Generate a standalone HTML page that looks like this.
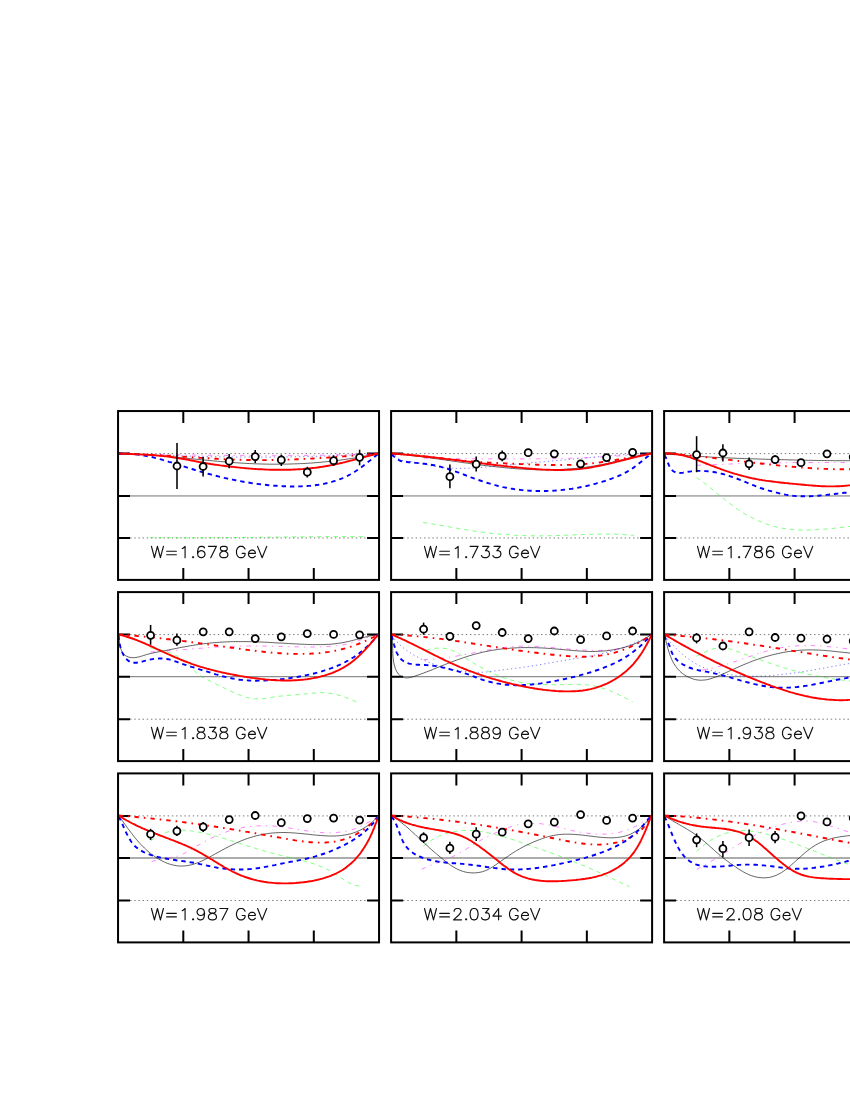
<!DOCTYPE html>
<html><head><meta charset="utf-8"><title>Figure</title>
<style>html,body{margin:0;padding:0;background:#fff;}body{width:850px;height:1100px;overflow:hidden;font-family:"Liberation Sans",sans-serif;}svg{display:block;}</style>
</head><body>
<svg width="850" height="1100" viewBox="0 0 850 1100">
<rect width="850" height="1100" fill="#fff"/>
<defs>
<clipPath id="c00"><rect x="118.05" y="411.05" width="261.00" height="168.85"/></clipPath>
<clipPath id="c01"><rect x="391.10" y="411.05" width="261.00" height="168.85"/></clipPath>
<clipPath id="c02"><rect x="664.10" y="411.05" width="261.00" height="168.85"/></clipPath>
<clipPath id="c10"><rect x="118.05" y="592.10" width="261.00" height="169.00"/></clipPath>
<clipPath id="c11"><rect x="391.10" y="592.10" width="261.00" height="169.00"/></clipPath>
<clipPath id="c12"><rect x="664.10" y="592.10" width="261.00" height="169.00"/></clipPath>
<clipPath id="c20"><rect x="118.05" y="773.40" width="261.00" height="169.00"/></clipPath>
<clipPath id="c21"><rect x="391.10" y="773.40" width="261.00" height="169.00"/></clipPath>
<clipPath id="c22"><rect x="664.10" y="773.40" width="261.00" height="169.00"/></clipPath>
</defs>
<path d="M183.30 411.05 v12 M183.30 579.90 v-12 M118.05 453.60 h12 M379.05 453.60 h-12 M248.55 411.05 v12 M248.55 579.90 v-12 M118.05 495.95 h12 M379.05 495.95 h-12 M313.80 411.05 v12 M313.80 579.90 v-12 M118.05 537.95 h12 M379.05 537.95 h-12 " stroke="#000" stroke-width="2" fill="none"/>
<g clip-path="url(#c00)" fill="none" stroke-linecap="butt" stroke-linejoin="round">
<path d="M130.05 453.60 H367.05" stroke="#1a1a1a" stroke-width="0.58" stroke-dasharray="1.45 2.73"/>
<path d="M130.05 495.95 H367.05" stroke="#444" stroke-width="0.75"/>
<path d="M130.05 537.95 H367.05" stroke="#1a1a1a" stroke-width="0.58" stroke-dasharray="1.45 2.73"/>
<path d="M150.0 537.6 L151.6 537.6 L153.2 537.6 L154.8 537.6 L156.4 537.7 L158.0 537.7 L159.6 537.7 L161.2 537.7 L162.8 537.7 L164.4 537.7 L166.0 537.7 L167.7 537.7 L169.3 537.7 L170.9 537.7 L172.5 537.7 L174.1 537.7 L175.7 537.7 L177.3 537.8 L178.9 537.8 L180.5 537.8 L182.1 537.8 L183.7 537.8 L185.3 537.8 L186.9 537.8 L188.5 537.8 L190.1 537.8 L191.7 537.8 L193.3 537.8 L194.9 537.8 L196.5 537.7 L198.1 537.7 L199.7 537.7 L201.3 537.7 L203.0 537.7 L204.6 537.7 L206.2 537.7 L207.8 537.7 L209.4 537.7 L211.0 537.7 L212.6 537.7 L214.2 537.7 L215.8 537.7 L217.4 537.7 L219.0 537.6 L220.6 537.6 L222.2 537.6 L223.8 537.6 L225.4 537.6 L227.0 537.6 L228.6 537.6 L230.2 537.6 L231.8 537.6 L233.4 537.5 L235.0 537.5 L236.6 537.5 L238.3 537.5 L239.9 537.5 L241.5 537.5 L243.1 537.4 L244.7 537.4 L246.3 537.4 L247.9 537.4 L249.5 537.4 L251.1 537.4 L252.7 537.4 L254.3 537.3 L255.9 537.3 L257.5 537.3 L259.1 537.3 L260.7 537.3 L262.3 537.2 L263.9 537.2 L265.5 537.2 L267.1 537.2 L268.7 537.2 L270.3 537.2 L271.9 537.1 L273.6 537.1 L275.2 537.1 L276.8 537.1 L278.4 537.1 L280.0 537.0 L281.6 537.0 L283.2 537.0 L284.8 537.0 L286.4 537.0 L288.0 536.9 L289.6 536.9 L291.2 536.9 L292.8 536.9 L294.4 536.9 L296.0 536.8 L297.6 536.8 L299.2 536.8 L300.8 536.8 L302.4 536.8 L304.0 536.8 L305.6 536.7 L307.2 536.7 L308.8 536.7 L310.5 536.7 L312.1 536.7 L313.7 536.6 L315.3 536.6 L316.9 536.6 L318.5 536.6 L320.1 536.6 L321.7 536.6 L323.3 536.6 L324.9 536.5 L326.5 536.5 L328.1 536.5 L329.7 536.5 L331.3 536.5 L332.9 536.5 L334.5 536.5 L336.1 536.5 L337.7 536.5 L339.3 536.5 L340.9 536.5 L342.5 536.5 L344.1 536.5 L345.7 536.5 L347.4 536.5 L349.0 536.5 L350.6 536.5 L352.2 536.5 L353.8 536.5 L355.4 536.5 L357.0 536.5 L358.6 536.5 L360.2 536.5 L361.8 536.6 L363.4 536.6 L365.0 536.6" stroke="#00ff00" stroke-width="0.5" stroke-dasharray="4.3 4.05"/>
<path d="M118.5 453.5 L120.1 453.6 L121.7 453.7 L123.3 453.7 L124.9 453.8 L126.5 453.9 L128.1 453.9 L129.7 454.0 L131.3 454.1 L132.9 454.2 L134.5 454.2 L136.1 454.3 L137.7 454.4 L139.4 454.4 L141.0 454.5 L142.6 454.6 L144.2 454.6 L145.8 454.7 L147.4 454.8 L149.0 454.8 L150.6 454.9 L152.2 455.0 L153.8 455.0 L155.4 455.1 L157.0 455.1 L158.6 455.2 L160.2 455.3 L161.8 455.3 L163.4 455.4 L165.0 455.4 L166.6 455.5 L168.2 455.5 L169.8 455.6 L171.4 455.6 L173.0 455.7 L174.7 455.7 L176.3 455.8 L177.9 455.8 L179.5 455.9 L181.1 455.9 L182.7 456.0 L184.3 456.0 L185.9 456.1 L187.5 456.1 L189.1 456.2 L190.7 456.2 L192.3 456.2 L193.9 456.3 L195.5 456.3 L197.1 456.4 L198.7 456.4 L200.3 456.4 L201.9 456.5 L203.5 456.5 L205.2 456.5 L206.8 456.6 L208.4 456.6 L210.0 456.6 L211.6 456.7 L213.2 456.7 L214.8 456.7 L216.4 456.8 L218.0 456.8 L219.6 456.8 L221.2 456.8 L222.8 456.9 L224.4 456.9 L226.0 456.9 L227.6 456.9 L229.2 456.9 L230.8 457.0 L232.5 457.0 L234.1 457.0 L235.7 457.0 L237.3 457.0 L238.9 457.0 L240.5 457.0 L242.1 457.1 L243.7 457.1 L245.3 457.1 L246.9 457.1 L248.5 457.1 L250.1 457.1 L251.7 457.1 L253.3 457.1 L254.9 457.1 L256.5 457.1 L258.1 457.1 L259.7 457.1 L261.4 457.1 L263.0 457.1 L264.6 457.1 L266.2 457.1 L267.8 457.1 L269.4 457.1 L271.0 457.1 L272.6 457.1 L274.2 457.0 L275.8 457.0 L277.4 457.0 L279.0 457.0 L280.6 457.0 L282.2 457.0 L283.8 456.9 L285.4 456.9 L287.0 456.9 L288.7 456.9 L290.3 456.9 L291.9 456.8 L293.5 456.8 L295.1 456.8 L296.7 456.8 L298.3 456.7 L299.9 456.7 L301.5 456.7 L303.1 456.6 L304.7 456.6 L306.3 456.6 L307.9 456.5 L309.5 456.5 L311.1 456.4 L312.7 456.4 L314.3 456.4 L315.9 456.3 L317.5 456.3 L319.1 456.2 L320.8 456.2 L322.4 456.1 L324.0 456.1 L325.6 456.0 L327.2 456.0 L328.8 455.9 L330.4 455.9 L332.0 455.8 L333.6 455.7 L335.2 455.7 L336.8 455.6 L338.4 455.6 L340.0 455.5 L341.6 455.4 L343.2 455.4 L344.8 455.3 L346.4 455.2 L348.0 455.1 L349.6 455.1 L351.2 455.0 L352.8 454.9 L354.4 454.8 L356.1 454.8 L357.7 454.7 L359.3 454.6 L360.9 454.5 L362.5 454.4 L364.1 454.3 L365.7 454.3 L367.3 454.2 L368.9 454.1 L370.5 454.0 L372.1 453.9 L373.7 453.8 L375.3 453.7 L376.9 453.6 L378.5 453.5" stroke="#0000ff" stroke-width="0.5" stroke-dasharray="1.3 2.9"/>
<path d="M160.0 454.4 L161.6 454.4 L163.2 454.5 L164.8 454.5 L166.4 454.5 L168.0 454.6 L169.6 454.6 L171.2 454.6 L172.9 454.7 L174.5 454.7 L176.1 454.7 L177.7 454.8 L179.3 454.8 L180.9 454.8 L182.5 454.9 L184.1 454.9 L185.7 454.9 L187.3 454.9 L188.9 455.0 L190.5 455.0 L192.1 455.0 L193.7 455.0 L195.3 455.1 L196.9 455.1 L198.6 455.1 L200.2 455.2 L201.8 455.2 L203.4 455.2 L205.0 455.2 L206.6 455.2 L208.2 455.3 L209.8 455.3 L211.4 455.3 L213.0 455.3 L214.6 455.4 L216.2 455.4 L217.8 455.4 L219.4 455.4 L221.1 455.4 L222.7 455.5 L224.3 455.5 L225.9 455.5 L227.5 455.5 L229.1 455.5 L230.7 455.5 L232.3 455.5 L233.9 455.6 L235.5 455.6 L237.1 455.6 L238.7 455.6 L240.3 455.6 L241.9 455.6 L243.5 455.6 L245.2 455.6 L246.8 455.6 L248.4 455.7 L250.0 455.7 L251.6 455.7 L253.2 455.7 L254.8 455.7 L256.4 455.7 L258.0 455.7 L259.6 455.7 L261.2 455.7 L262.8 455.7 L264.4 455.7 L266.0 455.7 L267.7 455.7 L269.3 455.7 L270.9 455.7 L272.5 455.7 L274.1 455.7 L275.7 455.7 L277.3 455.7 L278.9 455.7 L280.5 455.7 L282.1 455.7 L283.7 455.7 L285.3 455.6 L286.9 455.6 L288.5 455.6 L290.2 455.6 L291.8 455.6 L293.4 455.6 L295.0 455.6 L296.6 455.6 L298.2 455.5 L299.8 455.5 L301.4 455.5 L303.0 455.5 L304.6 455.5 L306.2 455.5 L307.8 455.4 L309.4 455.4 L311.0 455.4 L312.6 455.4 L314.3 455.3 L315.9 455.3 L317.5 455.3 L319.1 455.3 L320.7 455.2 L322.3 455.2 L323.9 455.2 L325.5 455.1 L327.1 455.1 L328.7 455.1 L330.3 455.0 L331.9 455.0 L333.5 455.0 L335.1 454.9 L336.7 454.9 L338.4 454.8 L340.0 454.8 L341.6 454.8 L343.2 454.7 L344.8 454.7 L346.4 454.6 L348.0 454.6 L349.6 454.5 L351.2 454.5 L352.8 454.4 L354.4 454.4 L356.0 454.3 L357.6 454.3 L359.2 454.2 L360.8 454.2 L362.4 454.1 L364.0 454.1 L365.7 454.0 L367.3 453.9 L368.9 453.9 L370.5 453.8 L372.1 453.8 L373.7 453.7 L375.3 453.6 L376.9 453.6 L378.5 453.5" stroke="#ff00ff" stroke-width="0.5" stroke-dasharray="4.4 5.1 1.3 5.2"/>
<path d="M118.5 453.5 L120.1 453.5 L121.7 453.6 L123.3 453.6 L124.9 453.7 L126.5 453.7 L128.1 453.8 L129.7 453.8 L131.2 453.9 L132.8 454.0 L134.4 454.0 L136.0 454.1 L137.6 454.2 L139.2 454.3 L140.8 454.4 L142.4 454.5 L144.0 454.6 L145.6 454.7 L147.2 454.8 L148.8 454.9 L150.4 455.0 L152.0 455.2 L153.6 455.3 L155.2 455.4 L156.8 455.5 L158.4 455.7 L160.0 455.8 L161.6 455.9 L163.2 456.1 L164.8 456.2 L166.4 456.3 L168.0 456.5 L169.6 456.6 L171.2 456.8 L172.8 456.9 L174.4 457.1 L176.0 457.2 L177.6 457.4 L179.2 457.6 L180.8 457.7 L182.4 457.9 L184.0 458.0 L185.6 458.2 L187.2 458.3 L188.8 458.5 L190.4 458.7 L192.0 458.8 L193.6 459.0 L195.2 459.1 L196.8 459.3 L198.4 459.5 L200.0 459.6 L201.6 459.8 L203.2 459.9 L204.8 460.1 L206.4 460.2 L208.0 460.4 L209.6 460.5 L211.2 460.7 L212.8 460.8 L214.4 461.0 L216.0 461.1 L217.6 461.3 L219.2 461.4 L220.8 461.6 L222.4 461.7 L224.0 461.8 L225.6 462.0 L227.2 462.1 L228.8 462.2 L230.4 462.4 L232.0 462.5 L233.6 462.6 L235.2 462.7 L236.8 462.8 L238.4 462.9 L240.0 463.0 L241.6 463.1 L243.2 463.2 L244.8 463.3 L246.4 463.4 L248.0 463.5 L249.6 463.6 L251.2 463.6 L252.8 463.7 L254.4 463.8 L256.0 463.8 L257.6 463.9 L259.2 463.9 L260.8 464.0 L262.4 464.0 L264.0 464.1 L265.6 464.1 L267.2 464.1 L268.8 464.2 L270.4 464.2 L272.0 464.2 L273.6 464.2 L275.1 464.2 L276.7 464.2 L278.3 464.2 L279.9 464.2 L281.5 464.2 L283.1 464.2 L284.7 464.1 L286.3 464.1 L287.9 464.1 L289.5 464.0 L291.1 464.0 L292.7 463.9 L294.3 463.9 L295.9 463.8 L297.5 463.8 L299.1 463.7 L300.7 463.6 L302.3 463.6 L303.9 463.5 L305.5 463.4 L307.1 463.3 L308.7 463.2 L310.3 463.1 L311.9 463.0 L313.4 462.9 L315.0 462.7 L316.6 462.6 L318.2 462.5 L319.8 462.3 L321.4 462.2 L323.0 462.0 L324.6 461.9 L326.2 461.7 L327.8 461.6 L329.4 461.4 L331.0 461.2 L332.5 461.0 L334.1 460.9 L335.7 460.7 L337.3 460.5 L338.9 460.3 L340.5 460.1 L342.1 459.9 L343.7 459.6 L345.2 459.4 L346.8 459.2 L348.4 458.9 L350.0 458.7 L351.6 458.5 L353.2 458.2 L354.8 458.0 L356.4 457.7 L357.9 457.4 L359.5 457.2 L361.1 456.9 L362.7 456.6 L364.3 456.3 L365.9 456.0 L367.4 455.7 L369.0 455.4 L370.6 455.1 L372.2 454.8 L373.8 454.5 L375.3 454.2 L376.9 453.8 L378.5 453.5" stroke="#000" stroke-width="0.62"/>
<path d="M118.5 453.5 L120.1 453.5 L121.7 453.6 L123.3 453.6 L124.9 453.7 L126.5 453.7 L128.1 453.8 L129.7 453.8 L131.3 453.9 L132.9 453.9 L134.5 454.0 L136.1 454.1 L137.8 454.1 L139.4 454.2 L141.0 454.3 L142.6 454.3 L144.2 454.4 L145.8 454.5 L147.4 454.6 L149.0 454.7 L150.6 454.7 L152.2 454.8 L153.8 454.9 L155.4 455.0 L157.0 455.1 L158.6 455.2 L160.2 455.3 L161.8 455.4 L163.4 455.5 L165.0 455.6 L166.6 455.7 L168.2 455.8 L169.9 455.9 L171.5 456.0 L173.1 456.1 L174.7 456.2 L176.3 456.3 L177.9 456.4 L179.5 456.5 L181.1 456.6 L182.7 456.7 L184.3 456.8 L185.9 456.9 L187.5 457.0 L189.1 457.1 L190.7 457.2 L192.3 457.3 L193.9 457.4 L195.5 457.5 L197.2 457.7 L198.8 457.8 L200.4 457.9 L202.0 457.9 L203.6 458.0 L205.2 458.1 L206.8 458.2 L208.4 458.3 L210.0 458.4 L211.6 458.5 L213.2 458.6 L214.8 458.7 L216.4 458.8 L218.0 458.9 L219.6 459.0 L221.2 459.0 L222.8 459.1 L224.5 459.2 L226.1 459.3 L227.7 459.3 L229.3 459.4 L230.9 459.5 L232.5 459.5 L234.1 459.6 L235.7 459.7 L237.3 459.7 L238.9 459.8 L240.5 459.8 L242.1 459.9 L243.7 459.9 L245.3 459.9 L246.9 460.0 L248.5 460.0 L250.2 460.0 L251.8 460.1 L253.4 460.1 L255.0 460.1 L256.6 460.1 L258.2 460.1 L259.8 460.1 L261.4 460.1 L263.0 460.1 L264.6 460.1 L266.2 460.1 L267.8 460.1 L269.4 460.1 L271.0 460.1 L272.6 460.0 L274.2 460.0 L275.8 460.0 L277.4 460.0 L279.1 459.9 L280.7 459.9 L282.3 459.8 L283.9 459.8 L285.5 459.7 L287.1 459.7 L288.7 459.6 L290.3 459.6 L291.9 459.5 L293.5 459.5 L295.1 459.4 L296.7 459.3 L298.3 459.3 L299.9 459.2 L301.5 459.1 L303.1 459.0 L304.7 458.9 L306.3 458.9 L307.9 458.8 L309.6 458.7 L311.2 458.6 L312.8 458.5 L314.4 458.4 L316.0 458.3 L317.6 458.2 L319.2 458.1 L320.8 458.0 L322.4 457.9 L324.0 457.8 L325.6 457.7 L327.2 457.6 L328.8 457.5 L330.4 457.4 L332.0 457.2 L333.6 457.1 L335.2 457.0 L336.8 456.9 L338.4 456.8 L340.0 456.7 L341.6 456.5 L343.2 456.4 L344.8 456.3 L346.4 456.2 L348.1 456.0 L349.7 455.9 L351.3 455.8 L352.9 455.6 L354.5 455.5 L356.1 455.4 L357.7 455.3 L359.3 455.1 L360.9 455.0 L362.5 454.9 L364.1 454.7 L365.7 454.6 L367.3 454.5 L368.9 454.3 L370.5 454.2 L372.1 454.0 L373.7 453.9 L375.3 453.8 L376.9 453.6 L378.5 453.5" stroke="#ff0000" stroke-width="1.9" stroke-dasharray="4.4 5 1.6 5"/>
<path d="M118.5 453.5 L120.1 453.5 L121.7 453.6 L123.3 453.6 L124.9 453.6 L126.5 453.7 L128.1 453.8 L129.7 453.9 L131.3 454.0 L132.8 454.1 L134.4 454.3 L136.0 454.4 L137.6 454.6 L139.2 454.8 L140.7 455.0 L142.3 455.3 L143.9 455.5 L145.5 455.8 L147.0 456.1 L148.6 456.4 L150.2 456.7 L151.7 457.0 L153.3 457.4 L154.8 457.8 L156.4 458.2 L158.0 458.6 L159.5 459.0 L161.1 459.4 L162.6 459.9 L164.2 460.3 L165.7 460.8 L167.3 461.3 L168.8 461.8 L170.4 462.2 L171.9 462.7 L173.5 463.2 L175.0 463.7 L176.6 464.2 L178.1 464.7 L179.7 465.2 L181.2 465.7 L182.8 466.2 L184.3 466.6 L185.9 467.1 L187.4 467.6 L188.9 468.1 L190.5 468.6 L192.0 469.0 L193.6 469.5 L195.1 470.0 L196.7 470.4 L198.2 470.9 L199.7 471.4 L201.3 471.8 L202.8 472.3 L204.4 472.7 L205.9 473.1 L207.5 473.6 L209.0 474.0 L210.6 474.4 L212.1 474.8 L213.6 475.2 L215.2 475.6 L216.7 476.0 L218.3 476.4 L219.8 476.8 L221.4 477.1 L222.9 477.5 L224.5 477.9 L226.0 478.2 L227.6 478.6 L229.1 478.9 L230.7 479.3 L232.3 479.6 L233.8 479.9 L235.4 480.2 L236.9 480.5 L238.5 480.8 L240.1 481.1 L241.6 481.4 L243.2 481.7 L244.7 482.0 L246.3 482.2 L247.9 482.5 L249.5 482.7 L251.0 483.0 L252.6 483.2 L254.2 483.5 L255.8 483.7 L257.3 483.9 L258.9 484.1 L260.5 484.3 L262.1 484.5 L263.7 484.7 L265.3 484.8 L266.9 485.0 L268.4 485.2 L270.0 485.3 L271.6 485.5 L273.2 485.6 L274.8 485.7 L276.4 485.8 L278.1 485.9 L279.7 486.0 L281.3 486.1 L282.9 486.2 L284.5 486.3 L286.1 486.3 L287.8 486.4 L289.4 486.4 L291.0 486.5 L292.6 486.5 L294.3 486.5 L295.9 486.5 L297.5 486.5 L299.1 486.4 L300.7 486.4 L302.4 486.3 L304.0 486.2 L305.6 486.1 L307.2 486.0 L308.8 485.9 L310.4 485.8 L312.0 485.6 L313.6 485.4 L315.2 485.2 L316.8 485.0 L318.4 484.8 L320.0 484.5 L321.6 484.2 L323.2 484.0 L324.7 483.6 L326.3 483.3 L327.8 482.9 L329.4 482.5 L330.9 482.1 L332.5 481.7 L334.0 481.2 L335.5 480.8 L337.0 480.3 L338.5 479.7 L340.0 479.2 L341.5 478.6 L342.9 478.0 L344.4 477.3 L345.8 476.7 L347.3 476.0 L348.7 475.2 L350.1 474.5 L351.5 473.7 L352.9 472.9 L354.3 472.0 L355.6 471.2 L357.0 470.3 L358.3 469.4 L359.7 468.4 L361.0 467.5 L362.3 466.5 L363.6 465.6 L364.9 464.6 L366.2 463.6 L367.4 462.6 L368.7 461.6 L370.0 460.6 L371.2 459.6 L372.4 458.5 L373.7 457.5 L374.9 456.5 L376.1 455.5 L377.3 454.5 L378.5 453.5" stroke="#0000ff" stroke-width="1.9" stroke-dasharray="4.4 3.95"/>
<path d="M118.5 453.5 L120.1 453.6 L121.7 453.6 L123.3 453.7 L124.9 453.8 L126.4 453.8 L128.0 453.9 L129.6 454.0 L131.2 454.0 L132.8 454.1 L134.4 454.2 L136.0 454.2 L137.6 454.3 L139.2 454.4 L140.8 454.5 L142.3 454.6 L143.9 454.6 L145.5 454.7 L147.1 454.8 L148.7 454.9 L150.3 455.0 L151.9 455.1 L153.5 455.3 L155.1 455.4 L156.7 455.5 L158.3 455.6 L159.8 455.8 L161.4 455.9 L163.0 456.1 L164.6 456.3 L166.2 456.4 L167.8 456.6 L169.4 456.8 L171.0 457.0 L172.6 457.2 L174.2 457.5 L175.8 457.7 L177.4 457.9 L178.9 458.2 L180.5 458.5 L182.1 458.8 L183.7 459.0 L185.3 459.3 L186.9 459.6 L188.5 459.9 L190.1 460.2 L191.7 460.5 L193.3 460.8 L194.9 461.1 L196.5 461.5 L198.1 461.8 L199.6 462.1 L201.2 462.3 L202.8 462.6 L204.4 462.9 L206.0 463.2 L207.6 463.5 L209.2 463.7 L210.8 464.0 L212.4 464.2 L214.0 464.5 L215.6 464.7 L217.2 464.9 L218.8 465.1 L220.4 465.4 L222.0 465.6 L223.5 465.8 L225.1 466.0 L226.7 466.2 L228.3 466.4 L229.9 466.6 L231.5 466.7 L233.1 466.9 L234.7 467.1 L236.3 467.3 L237.9 467.4 L239.5 467.6 L241.1 467.8 L242.7 467.9 L244.3 468.1 L245.9 468.2 L247.5 468.4 L249.0 468.5 L250.6 468.6 L252.2 468.7 L253.8 468.9 L255.4 469.0 L257.0 469.1 L258.6 469.2 L260.2 469.3 L261.8 469.3 L263.4 469.4 L265.0 469.5 L266.6 469.6 L268.2 469.6 L269.8 469.7 L271.4 469.7 L273.0 469.8 L274.5 469.8 L276.1 469.8 L277.7 469.8 L279.3 469.8 L280.9 469.8 L282.5 469.8 L284.1 469.8 L285.7 469.8 L287.3 469.8 L288.9 469.7 L290.5 469.7 L292.0 469.6 L293.6 469.5 L295.2 469.5 L296.8 469.4 L298.4 469.3 L300.0 469.2 L301.6 469.1 L303.2 469.0 L304.7 468.8 L306.3 468.7 L307.9 468.5 L309.5 468.4 L311.1 468.2 L312.7 468.0 L314.2 467.9 L315.8 467.7 L317.4 467.5 L319.0 467.2 L320.6 467.0 L322.2 466.8 L323.7 466.5 L325.3 466.3 L326.9 466.0 L328.5 465.7 L330.0 465.4 L331.6 465.1 L333.2 464.8 L334.8 464.5 L336.3 464.1 L337.9 463.8 L339.5 463.4 L341.1 463.0 L342.6 462.7 L344.2 462.3 L345.8 461.9 L347.3 461.5 L348.9 461.1 L350.5 460.7 L352.0 460.3 L353.6 459.9 L355.2 459.5 L356.7 459.1 L358.3 458.6 L359.9 458.2 L361.4 457.8 L363.0 457.4 L364.5 457.0 L366.1 456.6 L367.6 456.2 L369.2 455.8 L370.7 455.4 L372.3 455.0 L373.9 454.6 L375.4 454.2 L377.0 453.9 L378.5 453.5" stroke="#ff0000" stroke-width="1.9"/>
</g>
<rect x="118.05" y="411.05" width="261.00" height="168.85" stroke="#000" stroke-width="2" fill="none"/>
<g stroke="#000">
<path d="M177.0 443.1 V489.0" stroke-width="1.55"/>
<circle cx="177.0" cy="466.0" r="3.5" fill="#fff" stroke-width="1.8"/>
<path d="M203.1 456.9 V476.4" stroke-width="1.55"/>
<circle cx="203.1" cy="466.5" r="3.5" fill="#fff" stroke-width="1.8"/>
<path d="M229.2 454.1 V468.3" stroke-width="1.55"/>
<circle cx="229.2" cy="461.2" r="3.5" fill="#fff" stroke-width="1.8"/>
<path d="M255.2 450.0 V463.0" stroke-width="1.55"/>
<circle cx="255.2" cy="456.6" r="3.5" fill="#fff" stroke-width="1.8"/>
<path d="M281.3 454.6 V466.0" stroke-width="1.55"/>
<circle cx="281.3" cy="459.9" r="3.5" fill="#fff" stroke-width="1.8"/>
<path d="M307.3 466.8 V477.5" stroke-width="1.55"/>
<circle cx="307.3" cy="472.2" r="3.5" fill="#fff" stroke-width="1.8"/>
<path d="M333.6 455.3 V466.0" stroke-width="1.55"/>
<circle cx="333.6" cy="460.7" r="3.5" fill="#fff" stroke-width="1.8"/>
<path d="M359.6 449.7 V465.3" stroke-width="1.55"/>
<circle cx="359.6" cy="457.3" r="3.5" fill="#fff" stroke-width="1.8"/>
</g>
<path d="M151.45 546.36 L154.44 557.70 M157.44 546.36 L154.44 557.70 M157.44 546.36 L160.43 557.70 M163.42 546.36 L160.43 557.70 M166.67 551.22 L176.36 551.22 M166.67 554.73 L176.36 554.73 M182.23 548.52 L183.37 547.98 L185.08 546.36 L185.08 557.70 M193.06 556.62 L192.49 557.16 L193.06 557.70 L193.63 557.16 L193.06 556.62 M204.46 547.98 L203.89 546.90 L202.18 546.36 L201.04 546.36 L199.33 546.90 L198.19 548.52 L197.62 551.22 L197.62 553.92 L198.19 556.08 L199.33 557.16 L201.04 557.70 L201.61 557.70 L203.32 557.16 L204.46 556.08 L205.03 554.46 L205.03 553.92 L204.46 552.30 L203.32 551.22 L201.61 550.68 L201.04 550.68 L199.33 551.22 L198.19 552.30 L197.62 553.92 M216.43 546.36 L210.73 557.70 M208.45 546.36 L216.43 546.36 M222.70 546.36 L220.99 546.90 L220.42 547.98 L220.42 549.06 L220.99 550.14 L222.13 550.68 L224.41 551.22 L226.12 551.76 L227.26 552.84 L227.83 553.92 L227.83 555.54 L227.26 556.62 L226.69 557.16 L224.98 557.70 L222.70 557.70 L220.99 557.16 L220.42 556.62 L219.85 555.54 L219.85 553.92 L220.42 552.84 L221.56 551.76 L223.27 551.22 L225.55 550.68 L226.69 550.14 L227.26 549.06 L227.26 547.98 L226.69 546.90 L224.98 546.36 L222.70 546.36 M245.04 549.06 L244.47 547.98 L243.33 546.90 L242.19 546.36 L239.91 546.36 L238.77 546.90 L237.63 547.98 L237.06 549.06 L236.49 550.68 L236.49 553.38 L237.06 555.00 L237.63 556.08 L238.77 557.16 L239.91 557.70 L242.19 557.70 L243.33 557.16 L244.47 556.08 L245.04 555.00 L245.04 553.38 M242.19 553.38 L245.04 553.38 M248.46 553.38 L255.30 553.38 L255.30 552.30 L254.73 551.22 L254.16 550.68 L253.02 550.14 L251.31 550.14 L250.17 550.68 L249.03 551.76 L248.46 553.38 L248.46 554.46 L249.03 556.08 L250.17 557.16 L251.31 557.70 L253.02 557.70 L254.16 557.16 L255.30 556.08 M257.58 546.36 L262.14 557.70 M266.70 546.36 L262.14 557.70" fill="none" stroke="#111" stroke-width="1.18" stroke-linecap="round" stroke-linejoin="round"/>
<path d="M456.35 411.05 v12 M456.35 579.90 v-12 M391.10 453.60 h12 M652.10 453.60 h-12 M521.60 411.05 v12 M521.60 579.90 v-12 M391.10 495.95 h12 M652.10 495.95 h-12 M586.85 411.05 v12 M586.85 579.90 v-12 M391.10 537.95 h12 M652.10 537.95 h-12 " stroke="#000" stroke-width="2" fill="none"/>
<g clip-path="url(#c01)" fill="none" stroke-linecap="butt" stroke-linejoin="round">
<path d="M403.10 453.60 H640.10" stroke="#1a1a1a" stroke-width="0.58" stroke-dasharray="1.45 2.73"/>
<path d="M403.10 495.95 H640.10" stroke="#444" stroke-width="0.75"/>
<path d="M403.10 537.95 H640.10" stroke="#1a1a1a" stroke-width="0.58" stroke-dasharray="1.45 2.73"/>
<path d="M423.1 522.5 L424.7 522.7 L426.3 523.0 L427.8 523.2 L429.4 523.5 L431.0 523.7 L432.6 524.0 L434.1 524.3 L435.7 524.5 L437.3 524.8 L438.9 525.1 L440.5 525.3 L442.1 525.6 L443.6 525.9 L445.2 526.2 L446.8 526.4 L448.4 526.7 L450.0 527.0 L451.6 527.3 L453.1 527.6 L454.7 527.8 L456.3 528.1 L457.9 528.4 L459.5 528.7 L461.1 528.9 L462.7 529.2 L464.3 529.5 L465.9 529.7 L467.4 530.0 L469.0 530.2 L470.6 530.5 L472.2 530.7 L473.8 531.0 L475.4 531.2 L477.0 531.5 L478.6 531.7 L480.2 531.9 L481.8 532.1 L483.4 532.3 L485.0 532.5 L486.6 532.7 L488.2 532.9 L489.8 533.1 L491.4 533.3 L492.9 533.5 L494.5 533.6 L496.1 533.8 L497.7 533.9 L499.3 534.1 L500.9 534.2 L502.5 534.4 L504.1 534.5 L505.7 534.6 L507.3 534.7 L508.9 534.8 L510.5 535.0 L512.1 535.1 L513.7 535.1 L515.3 535.2 L516.9 535.3 L518.5 535.4 L520.1 535.5 L521.7 535.5 L523.3 535.6 L524.9 535.6 L526.5 535.7 L528.1 535.7 L529.8 535.8 L531.4 535.8 L533.0 535.8 L534.6 535.8 L536.2 535.8 L537.8 535.9 L539.4 535.9 L541.0 535.9 L542.6 535.8 L544.2 535.8 L545.8 535.8 L547.4 535.8 L549.0 535.8 L550.6 535.7 L552.2 535.7 L553.8 535.6 L555.4 535.6 L557.0 535.5 L558.6 535.5 L560.2 535.4 L561.8 535.4 L563.5 535.3 L565.1 535.3 L566.7 535.2 L568.3 535.1 L569.9 535.1 L571.5 535.0 L573.1 534.9 L574.7 534.9 L576.3 534.8 L577.9 534.7 L579.5 534.7 L581.1 534.6 L582.7 534.6 L584.3 534.5 L585.9 534.4 L587.5 534.4 L589.2 534.3 L590.8 534.3 L592.4 534.3 L594.0 534.2 L595.6 534.2 L597.2 534.2 L598.8 534.1 L600.4 534.1 L602.0 534.1 L603.6 534.1 L605.2 534.1 L606.8 534.1 L608.4 534.1 L610.0 534.1 L611.6 534.1 L613.2 534.2 L614.8 534.2 L616.5 534.3 L618.1 534.3 L619.7 534.4 L621.3 534.4 L622.9 534.5 L624.5 534.6 L626.1 534.7 L627.7 534.8 L629.3 535.0 L630.9 535.1 L632.5 535.2 L634.1 535.4" stroke="#00ff00" stroke-width="0.5" stroke-dasharray="4.3 4.05"/>
<path d="M391.5 454.5 L392.9 454.0 L394.4 454.5 L395.9 455.7 L397.3 457.2 L398.8 458.6 L400.3 459.6 L401.8 460.3 L403.3 460.7 L404.8 461.0 L406.3 461.1 L407.8 461.3 L409.3 461.5 L410.9 461.7 L412.4 461.9 L413.9 462.2 L415.5 462.5 L417.0 462.7 L418.6 463.1 L420.1 463.4 L421.7 463.7 L423.3 464.0 L424.8 464.4 L426.4 464.7 L428.0 465.0 L429.5 465.4 L431.1 465.7 L432.7 466.0 L434.3 466.3 L435.8 466.5 L437.4 466.8 L439.0 467.0 L440.6 467.2 L442.2 467.4 L443.8 467.6 L445.4 467.8 L447.0 467.9 L448.6 468.0 L450.1 468.1 L451.7 468.2 L453.3 468.3 L454.9 468.3 L456.5 468.4 L458.1 468.4 L459.7 468.4 L461.3 468.4 L462.9 468.4 L464.5 468.3 L466.1 468.3 L467.7 468.3 L469.3 468.2 L470.9 468.1 L472.5 468.0 L474.1 467.9 L475.7 467.8 L477.4 467.7 L479.0 467.6 L480.6 467.5 L482.2 467.4 L483.8 467.2 L485.4 467.1 L487.0 467.0 L488.6 466.8 L490.2 466.7 L491.8 466.5 L493.4 466.3 L495.0 466.2 L496.6 466.0 L498.2 465.9 L499.8 465.7 L501.4 465.6 L503.0 465.4 L504.6 465.2 L506.2 465.1 L507.8 464.9 L509.4 464.8 L511.0 464.6 L512.6 464.5 L514.2 464.3 L515.8 464.2 L517.4 464.0 L519.0 463.9 L520.6 463.7 L522.2 463.6 L523.8 463.4 L525.4 463.3 L527.0 463.1 L528.6 463.0 L530.2 462.9 L531.8 462.7 L533.4 462.6 L535.0 462.4 L536.6 462.3 L538.2 462.2 L539.8 462.0 L541.4 461.9 L543.0 461.7 L544.5 461.6 L546.1 461.5 L547.7 461.3 L549.3 461.2 L550.9 461.0 L552.5 460.9 L554.1 460.8 L555.7 460.6 L557.3 460.5 L558.9 460.3 L560.5 460.2 L562.1 460.1 L563.7 459.9 L565.3 459.8 L566.8 459.6 L568.4 459.5 L570.0 459.4 L571.6 459.2 L573.2 459.1 L574.8 458.9 L576.4 458.8 L578.0 458.6 L579.6 458.5 L581.2 458.4 L582.8 458.2 L584.4 458.1 L586.0 457.9 L587.5 457.8 L589.1 457.6 L590.7 457.5 L592.3 457.3 L593.9 457.2 L595.5 457.0 L597.1 456.9 L598.7 456.7 L600.3 456.6 L601.9 456.4 L603.5 456.3 L605.1 456.2 L606.7 456.0 L608.3 455.9 L609.9 455.8 L611.5 455.6 L613.1 455.5 L614.7 455.4 L616.2 455.2 L617.8 455.1 L619.4 455.0 L621.0 454.9 L622.6 454.8 L624.2 454.7 L625.8 454.6 L627.4 454.5 L629.0 454.4 L630.6 454.3 L632.2 454.2 L633.8 454.1 L635.4 454.0 L637.1 453.9 L638.7 453.9 L640.3 453.8 L641.9 453.7 L643.5 453.7 L645.1 453.6 L646.7 453.6 L648.3 453.6 L649.9 453.5 L651.5 453.5" stroke="#0000ff" stroke-width="0.5" stroke-dasharray="1.3 2.9"/>
<path d="M424.0 458.2 L425.6 458.2 L427.2 458.3 L428.8 458.3 L430.4 458.3 L432.0 458.3 L433.6 458.4 L435.2 458.4 L436.8 458.4 L438.4 458.4 L440.0 458.5 L441.6 458.5 L443.2 458.5 L444.8 458.5 L446.4 458.5 L448.0 458.6 L449.6 458.6 L451.3 458.6 L452.9 458.6 L454.5 458.6 L456.1 458.6 L457.7 458.7 L459.3 458.7 L460.9 458.7 L462.5 458.7 L464.1 458.7 L465.7 458.7 L467.3 458.8 L468.9 458.8 L470.5 458.8 L472.1 458.8 L473.7 458.8 L475.3 458.8 L476.9 458.8 L478.5 458.8 L480.1 458.9 L481.7 458.9 L483.3 458.9 L484.9 458.9 L486.5 458.9 L488.1 458.9 L489.7 458.9 L491.3 458.9 L492.9 458.9 L494.5 458.9 L496.1 458.9 L497.7 458.9 L499.4 458.9 L501.0 458.9 L502.6 458.9 L504.2 458.9 L505.8 458.9 L507.4 458.9 L509.0 458.9 L510.6 458.9 L512.2 458.9 L513.8 458.9 L515.4 458.9 L517.0 458.9 L518.6 458.9 L520.2 458.9 L521.8 458.9 L523.4 458.9 L525.0 458.9 L526.6 458.9 L528.2 458.9 L529.8 458.9 L531.4 458.9 L533.0 458.9 L534.6 458.9 L536.2 458.8 L537.8 458.8 L539.4 458.8 L541.0 458.8 L542.6 458.8 L544.2 458.8 L545.8 458.7 L547.4 458.7 L549.1 458.7 L550.7 458.7 L552.3 458.7 L553.9 458.6 L555.5 458.6 L557.1 458.6 L558.7 458.5 L560.3 458.5 L561.9 458.5 L563.5 458.4 L565.1 458.4 L566.7 458.4 L568.3 458.3 L569.9 458.3 L571.5 458.2 L573.1 458.2 L574.7 458.1 L576.3 458.1 L577.9 458.0 L579.5 457.9 L581.1 457.9 L582.7 457.8 L584.3 457.8 L585.9 457.7 L587.5 457.6 L589.1 457.5 L590.7 457.5 L592.3 457.4 L593.9 457.3 L595.5 457.2 L597.1 457.1 L598.7 457.1 L600.3 457.0 L601.9 456.9 L603.5 456.8 L605.1 456.7 L606.7 456.6 L608.3 456.5 L609.9 456.4 L611.5 456.3 L613.1 456.2 L614.7 456.1 L616.3 456.0 L617.9 455.9 L619.5 455.8 L621.1 455.7 L622.7 455.6 L624.3 455.5 L625.9 455.3 L627.5 455.2 L629.1 455.1 L630.7 455.0 L632.3 454.9 L633.9 454.8 L635.5 454.7 L637.1 454.5 L638.7 454.4 L640.3 454.3 L641.9 454.2 L643.5 454.1 L645.1 454.0 L646.7 453.8 L648.3 453.7 L649.9 453.6 L651.5 453.5" stroke="#ff00ff" stroke-width="0.5" stroke-dasharray="4.4 5.1 1.3 5.2"/>
<path d="M391.5 453.5 L393.1 453.6 L394.7 453.8 L396.2 453.9 L397.8 454.1 L399.4 454.2 L401.0 454.4 L402.6 454.5 L404.1 454.7 L405.7 454.9 L407.3 455.0 L408.9 455.2 L410.5 455.4 L412.0 455.6 L413.6 455.8 L415.2 456.0 L416.8 456.2 L418.4 456.4 L420.0 456.6 L421.6 456.8 L423.1 457.0 L424.7 457.2 L426.3 457.4 L427.9 457.6 L429.5 457.8 L431.1 458.0 L432.7 458.3 L434.3 458.5 L435.9 458.7 L437.4 458.9 L439.0 459.1 L440.6 459.4 L442.2 459.6 L443.8 459.8 L445.4 460.0 L447.0 460.3 L448.6 460.5 L450.2 460.7 L451.8 461.0 L453.4 461.2 L455.0 461.4 L456.5 461.6 L458.1 461.9 L459.7 462.1 L461.3 462.3 L462.9 462.6 L464.5 462.8 L466.1 463.0 L467.7 463.2 L469.3 463.4 L470.9 463.7 L472.5 463.9 L474.1 464.1 L475.7 464.3 L477.3 464.5 L478.9 464.7 L480.5 464.9 L482.1 465.1 L483.7 465.4 L485.3 465.6 L486.8 465.7 L488.4 465.9 L490.0 466.1 L491.6 466.3 L493.2 466.5 L494.8 466.7 L496.4 466.9 L498.0 467.0 L499.6 467.2 L501.2 467.4 L502.8 467.5 L504.4 467.7 L506.0 467.8 L507.6 468.0 L509.2 468.1 L510.8 468.3 L512.4 468.4 L514.0 468.5 L515.6 468.7 L517.2 468.8 L518.8 468.9 L520.4 469.0 L522.0 469.1 L523.6 469.2 L525.2 469.3 L526.7 469.4 L528.3 469.4 L529.9 469.5 L531.5 469.6 L533.1 469.6 L534.7 469.7 L536.3 469.7 L537.9 469.7 L539.5 469.8 L541.1 469.8 L542.7 469.8 L544.3 469.8 L545.9 469.8 L547.5 469.8 L549.1 469.8 L550.6 469.8 L552.2 469.8 L553.8 469.7 L555.4 469.7 L557.0 469.6 L558.6 469.6 L560.2 469.5 L561.8 469.4 L563.4 469.3 L565.0 469.2 L566.5 469.1 L568.1 469.0 L569.7 468.9 L571.3 468.8 L572.9 468.7 L574.5 468.5 L576.1 468.4 L577.6 468.2 L579.2 468.0 L580.8 467.9 L582.4 467.7 L584.0 467.5 L585.6 467.3 L587.1 467.0 L588.7 466.8 L590.3 466.6 L591.9 466.3 L593.5 466.1 L595.1 465.8 L596.6 465.5 L598.2 465.2 L599.8 464.9 L601.4 464.6 L602.9 464.3 L604.5 464.0 L606.1 463.6 L607.7 463.3 L609.2 462.9 L610.8 462.6 L612.4 462.2 L614.0 461.8 L615.5 461.4 L617.1 461.0 L618.7 460.6 L620.3 460.2 L621.8 459.8 L623.4 459.4 L625.0 459.0 L626.5 458.6 L628.1 458.2 L629.7 457.8 L631.2 457.4 L632.8 457.0 L634.4 456.7 L635.9 456.3 L637.5 455.9 L639.0 455.6 L640.6 455.3 L642.2 455.0 L643.7 454.7 L645.3 454.4 L646.8 454.2 L648.4 453.9 L649.9 453.7 L651.5 453.5" stroke="#000" stroke-width="0.62"/>
<path d="M391.5 453.5 L393.1 453.6 L394.7 453.7 L396.3 453.8 L397.9 453.9 L399.4 454.0 L401.0 454.2 L402.6 454.3 L404.2 454.4 L405.8 454.6 L407.4 454.7 L409.0 454.8 L410.6 455.0 L412.2 455.1 L413.8 455.3 L415.4 455.5 L417.0 455.6 L418.5 455.8 L420.1 455.9 L421.7 456.1 L423.3 456.3 L424.9 456.4 L426.5 456.6 L428.1 456.8 L429.7 457.0 L431.3 457.1 L432.9 457.3 L434.5 457.5 L436.1 457.7 L437.7 457.9 L439.3 458.0 L440.9 458.2 L442.5 458.4 L444.1 458.6 L445.7 458.7 L447.3 458.9 L448.9 459.1 L450.5 459.3 L452.1 459.4 L453.7 459.6 L455.3 459.8 L456.9 460.0 L458.5 460.1 L460.1 460.3 L461.7 460.4 L463.3 460.6 L464.9 460.8 L466.5 460.9 L468.1 461.0 L469.7 461.2 L471.3 461.3 L472.9 461.5 L474.5 461.6 L476.1 461.7 L477.7 461.8 L479.3 462.0 L480.9 462.1 L482.5 462.2 L484.1 462.3 L485.7 462.4 L487.3 462.5 L488.9 462.6 L490.5 462.7 L492.1 462.8 L493.7 462.9 L495.3 462.9 L496.9 463.0 L498.5 463.1 L500.1 463.2 L501.7 463.3 L503.3 463.3 L504.9 463.4 L506.5 463.5 L508.1 463.5 L509.8 463.6 L511.4 463.7 L513.0 463.7 L514.6 463.8 L516.2 463.9 L517.8 463.9 L519.4 464.0 L521.0 464.1 L522.6 464.1 L524.2 464.2 L525.8 464.2 L527.4 464.3 L529.0 464.4 L530.6 464.4 L532.2 464.5 L533.8 464.6 L535.4 464.6 L537.0 464.7 L538.6 464.7 L540.2 464.8 L541.8 464.8 L543.4 464.9 L545.0 464.9 L546.6 464.9 L548.2 465.0 L549.8 465.0 L551.4 465.0 L553.0 465.0 L554.6 465.0 L556.2 465.1 L557.8 465.1 L559.4 465.1 L561.0 465.0 L562.6 465.0 L564.2 465.0 L565.8 465.0 L567.4 464.9 L569.0 464.9 L570.6 464.9 L572.2 464.8 L573.8 464.7 L575.4 464.7 L577.0 464.6 L578.6 464.5 L580.1 464.4 L581.7 464.3 L583.3 464.1 L584.9 464.0 L586.5 463.9 L588.1 463.7 L589.7 463.6 L591.3 463.4 L592.9 463.2 L594.5 463.1 L596.1 462.9 L597.7 462.7 L599.3 462.5 L600.9 462.3 L602.4 462.0 L604.0 461.8 L605.6 461.6 L607.2 461.4 L608.8 461.1 L610.4 460.9 L612.0 460.6 L613.6 460.3 L615.1 460.1 L616.7 459.8 L618.3 459.5 L619.9 459.3 L621.5 459.0 L623.1 458.7 L624.7 458.4 L626.2 458.1 L627.8 457.8 L629.4 457.5 L631.0 457.2 L632.6 456.9 L634.1 456.6 L635.7 456.4 L637.3 456.1 L638.9 455.8 L640.5 455.5 L642.0 455.2 L643.6 454.9 L645.2 454.6 L646.8 454.3 L648.4 454.0 L649.9 453.8 L651.5 453.5" stroke="#ff0000" stroke-width="1.9" stroke-dasharray="4.4 5 1.6 5"/>
<path d="M391.5 454.5 L392.7 455.4 L394.0 456.5 L395.3 457.6 L396.6 458.7 L398.0 459.6 L399.5 460.4 L401.0 461.0 L402.5 461.4 L404.0 461.6 L405.5 461.8 L407.0 462.0 L408.6 462.2 L410.2 462.3 L411.7 462.5 L413.3 462.6 L414.9 462.8 L416.5 462.9 L418.1 463.1 L419.7 463.3 L421.3 463.4 L422.9 463.6 L424.5 463.8 L426.1 464.0 L427.7 464.2 L429.3 464.5 L430.9 464.7 L432.5 465.0 L434.1 465.3 L435.6 465.6 L437.2 466.0 L438.8 466.3 L440.4 466.7 L441.9 467.2 L443.5 467.6 L445.0 468.0 L446.6 468.5 L448.1 469.0 L449.7 469.5 L451.2 470.0 L452.8 470.5 L454.3 471.1 L455.8 471.6 L457.3 472.2 L458.9 472.7 L460.4 473.3 L461.9 473.9 L463.4 474.4 L464.9 475.0 L466.4 475.6 L468.0 476.1 L469.5 476.7 L471.0 477.3 L472.5 477.8 L474.0 478.4 L475.5 478.9 L477.0 479.4 L478.5 480.0 L480.1 480.5 L481.6 481.0 L483.1 481.5 L484.6 482.0 L486.1 482.5 L487.6 483.0 L489.2 483.4 L490.7 483.9 L492.2 484.3 L493.8 484.7 L495.3 485.2 L496.8 485.6 L498.4 486.0 L499.9 486.3 L501.5 486.7 L503.0 487.1 L504.6 487.4 L506.2 487.7 L507.7 488.0 L509.3 488.3 L510.9 488.6 L512.5 488.8 L514.0 489.1 L515.6 489.3 L517.2 489.5 L518.8 489.7 L520.4 489.9 L522.0 490.1 L523.6 490.2 L525.2 490.4 L526.8 490.5 L528.5 490.6 L530.1 490.7 L531.7 490.8 L533.3 490.9 L534.9 490.9 L536.5 491.0 L538.2 491.0 L539.8 491.0 L541.4 491.0 L543.0 491.0 L544.6 491.0 L546.3 491.0 L547.9 490.9 L549.5 490.9 L551.1 490.8 L552.8 490.7 L554.4 490.6 L556.0 490.5 L557.6 490.4 L559.2 490.2 L560.9 490.1 L562.5 489.9 L564.1 489.7 L565.7 489.5 L567.3 489.3 L568.9 489.1 L570.5 488.9 L572.1 488.7 L573.7 488.4 L575.3 488.1 L576.9 487.9 L578.5 487.6 L580.1 487.3 L581.7 487.0 L583.3 486.7 L584.8 486.3 L586.4 486.0 L588.0 485.6 L589.6 485.3 L591.1 484.9 L592.7 484.5 L594.2 484.1 L595.8 483.7 L597.3 483.2 L598.8 482.8 L600.4 482.4 L601.9 481.9 L603.4 481.4 L604.9 481.0 L606.4 480.5 L607.9 480.0 L609.4 479.5 L610.9 478.9 L612.4 478.4 L613.9 477.8 L615.3 477.3 L616.8 476.7 L618.2 476.1 L619.7 475.4 L621.1 474.8 L622.5 474.1 L623.9 473.4 L625.4 472.6 L626.8 471.9 L628.1 471.1 L629.5 470.3 L630.9 469.4 L632.3 468.5 L633.6 467.6 L635.0 466.6 L636.3 465.6 L637.6 464.6 L638.9 463.5 L640.2 462.5 L641.5 461.4 L642.8 460.4 L644.1 459.4 L645.4 458.3 L646.6 457.3 L647.9 456.3 L649.1 455.3 L650.3 454.4 L651.5 453.5" stroke="#0000ff" stroke-width="1.9" stroke-dasharray="4.4 3.95"/>
<path d="M391.5 453.5 L393.1 453.6 L394.7 453.7 L396.3 453.8 L397.8 454.0 L399.4 454.1 L401.0 454.2 L402.6 454.3 L404.2 454.5 L405.8 454.6 L407.3 454.7 L408.9 454.9 L410.5 455.0 L412.1 455.2 L413.7 455.3 L415.3 455.5 L416.9 455.7 L418.5 455.8 L420.1 456.0 L421.6 456.1 L423.2 456.3 L424.8 456.5 L426.4 456.6 L428.0 456.8 L429.6 457.0 L431.2 457.2 L432.8 457.4 L434.4 457.5 L436.0 457.7 L437.6 457.9 L439.2 458.1 L440.7 458.3 L442.3 458.5 L443.9 458.7 L445.5 458.9 L447.1 459.1 L448.7 459.2 L450.3 459.4 L451.9 459.6 L453.5 459.8 L455.1 460.0 L456.7 460.2 L458.3 460.4 L459.9 460.6 L461.5 460.8 L463.1 461.0 L464.7 461.2 L466.3 461.4 L467.9 461.6 L469.5 461.8 L471.1 462.0 L472.7 462.2 L474.3 462.4 L475.9 462.6 L477.5 462.8 L479.1 463.0 L480.6 463.2 L482.2 463.4 L483.8 463.6 L485.4 463.8 L487.0 464.0 L488.6 464.2 L490.2 464.4 L491.8 464.6 L493.4 464.8 L495.0 465.0 L496.6 465.2 L498.2 465.4 L499.8 465.5 L501.4 465.7 L503.0 465.9 L504.6 466.1 L506.2 466.3 L507.8 466.5 L509.4 466.6 L511.0 466.8 L512.6 467.0 L514.2 467.1 L515.8 467.3 L517.4 467.5 L519.0 467.6 L520.6 467.8 L522.2 467.9 L523.8 468.1 L525.4 468.2 L527.0 468.4 L528.5 468.5 L530.1 468.7 L531.7 468.8 L533.3 468.9 L534.9 469.0 L536.5 469.2 L538.1 469.3 L539.7 469.4 L541.3 469.5 L542.9 469.6 L544.5 469.6 L546.1 469.7 L547.7 469.8 L549.3 469.8 L550.8 469.9 L552.4 469.9 L554.0 470.0 L555.6 470.0 L557.2 470.0 L558.8 470.0 L560.4 470.0 L562.0 470.0 L563.6 470.0 L565.1 469.9 L566.7 469.9 L568.3 469.8 L569.9 469.7 L571.5 469.6 L573.1 469.5 L574.7 469.4 L576.2 469.3 L577.8 469.1 L579.4 469.0 L581.0 468.8 L582.6 468.6 L584.1 468.4 L585.7 468.2 L587.3 468.0 L588.9 467.7 L590.5 467.5 L592.0 467.2 L593.6 466.9 L595.2 466.6 L596.8 466.3 L598.4 466.0 L599.9 465.7 L601.5 465.4 L603.1 465.0 L604.6 464.7 L606.2 464.3 L607.8 464.0 L609.4 463.6 L610.9 463.2 L612.5 462.9 L614.1 462.5 L615.6 462.1 L617.2 461.7 L618.8 461.3 L620.3 460.9 L621.9 460.5 L623.5 460.1 L625.0 459.8 L626.6 459.4 L628.2 459.0 L629.7 458.6 L631.3 458.2 L632.8 457.8 L634.4 457.4 L636.0 457.0 L637.5 456.6 L639.1 456.3 L640.6 455.9 L642.2 455.5 L643.7 455.2 L645.3 454.8 L646.8 454.5 L648.4 454.1 L650.0 453.8 L651.5 453.5" stroke="#ff0000" stroke-width="1.9"/>
</g>
<rect x="391.10" y="411.05" width="261.00" height="168.85" stroke="#000" stroke-width="2" fill="none"/>
<g stroke="#000">
<path d="M449.9 464.5 V488.2" stroke-width="1.55"/>
<circle cx="449.9" cy="476.7" r="3.5" fill="#fff" stroke-width="1.8"/>
<path d="M476.2 456.6 V471.4" stroke-width="1.55"/>
<circle cx="476.2" cy="464.2" r="3.5" fill="#fff" stroke-width="1.8"/>
<path d="M502.2 450.4 V461.2" stroke-width="1.55"/>
<circle cx="502.2" cy="456.1" r="3.5" fill="#fff" stroke-width="1.8"/>
<circle cx="528.2" cy="452.7" r="3.5" fill="#fff" stroke-width="1.8"/>
<circle cx="554.3" cy="453.8" r="3.5" fill="#fff" stroke-width="1.8"/>
<circle cx="580.6" cy="463.8" r="3.5" fill="#fff" stroke-width="1.8"/>
<circle cx="606.6" cy="457.6" r="3.5" fill="#fff" stroke-width="1.8"/>
<circle cx="632.6" cy="452.3" r="3.5" fill="#fff" stroke-width="1.8"/>
</g>
<path d="M424.50 546.36 L427.49 557.70 M430.49 546.36 L427.49 557.70 M430.49 546.36 L433.48 557.70 M436.47 546.36 L433.48 557.70 M439.72 551.22 L449.41 551.22 M439.72 554.73 L449.41 554.73 M455.28 548.52 L456.42 547.98 L458.13 546.36 L458.13 557.70 M466.11 556.62 L465.54 557.16 L466.11 557.70 L466.68 557.16 L466.11 556.62 M478.08 546.36 L472.38 557.70 M470.10 546.36 L478.08 546.36 M482.64 546.36 L488.91 546.36 L485.49 550.68 L487.20 550.68 L488.34 551.22 L488.91 551.76 L489.48 553.38 L489.48 554.46 L488.91 556.08 L487.77 557.16 L486.06 557.70 L484.35 557.70 L482.64 557.16 L482.07 556.62 L481.50 555.54 M494.04 546.36 L500.31 546.36 L496.89 550.68 L498.60 550.68 L499.74 551.22 L500.31 551.76 L500.88 553.38 L500.88 554.46 L500.31 556.08 L499.17 557.16 L497.46 557.70 L495.75 557.70 L494.04 557.16 L493.47 556.62 L492.90 555.54 M518.09 549.06 L517.52 547.98 L516.38 546.90 L515.24 546.36 L512.96 546.36 L511.82 546.90 L510.68 547.98 L510.11 549.06 L509.54 550.68 L509.54 553.38 L510.11 555.00 L510.68 556.08 L511.82 557.16 L512.96 557.70 L515.24 557.70 L516.38 557.16 L517.52 556.08 L518.09 555.00 L518.09 553.38 M515.24 553.38 L518.09 553.38 M521.51 553.38 L528.35 553.38 L528.35 552.30 L527.78 551.22 L527.21 550.68 L526.07 550.14 L524.36 550.14 L523.22 550.68 L522.08 551.76 L521.51 553.38 L521.51 554.46 L522.08 556.08 L523.22 557.16 L524.36 557.70 L526.07 557.70 L527.21 557.16 L528.35 556.08 M530.63 546.36 L535.19 557.70 M539.75 546.36 L535.19 557.70" fill="none" stroke="#111" stroke-width="1.18" stroke-linecap="round" stroke-linejoin="round"/>
<path d="M729.35 411.05 v12 M729.35 579.90 v-12 M664.10 453.60 h12 M925.10 453.60 h-12 M794.60 411.05 v12 M794.60 579.90 v-12 M664.10 495.95 h12 M925.10 495.95 h-12 M859.85 411.05 v12 M859.85 579.90 v-12 M664.10 537.95 h12 M925.10 537.95 h-12 " stroke="#000" stroke-width="2" fill="none"/>
<g clip-path="url(#c02)" fill="none" stroke-linecap="butt" stroke-linejoin="round">
<path d="M676.10 453.60 H913.10" stroke="#1a1a1a" stroke-width="0.58" stroke-dasharray="1.45 2.73"/>
<path d="M676.10 495.95 H913.10" stroke="#444" stroke-width="0.75"/>
<path d="M676.10 537.95 H913.10" stroke="#1a1a1a" stroke-width="0.58" stroke-dasharray="1.45 2.73"/>
<path d="M696.6 477.5 L697.9 478.4 L699.2 479.3 L700.5 480.2 L701.8 481.2 L703.1 482.1 L704.4 483.1 L705.7 484.1 L706.9 485.1 L708.2 486.1 L709.5 487.1 L710.7 488.1 L712.0 489.1 L713.2 490.1 L714.5 491.1 L715.7 492.2 L717.0 493.2 L718.2 494.2 L719.5 495.3 L720.7 496.3 L722.0 497.3 L723.2 498.3 L724.5 499.3 L725.8 500.4 L727.0 501.4 L728.3 502.4 L729.6 503.4 L730.9 504.3 L732.2 505.3 L733.5 506.3 L734.8 507.2 L736.1 508.2 L737.4 509.1 L738.7 510.0 L740.1 510.9 L741.4 511.8 L742.8 512.6 L744.2 513.5 L745.6 514.3 L747.0 515.1 L748.4 515.9 L749.8 516.6 L751.2 517.4 L752.6 518.1 L754.1 518.8 L755.5 519.5 L757.0 520.2 L758.5 520.8 L759.9 521.5 L761.4 522.1 L762.9 522.7 L764.4 523.2 L765.9 523.8 L767.4 524.3 L769.0 524.8 L770.5 525.3 L772.0 525.7 L773.6 526.2 L775.1 526.6 L776.7 527.0 L778.2 527.3 L779.8 527.7 L781.4 528.0 L782.9 528.3 L784.5 528.6 L786.1 528.8 L787.7 529.0 L789.3 529.2 L790.8 529.4 L792.4 529.6 L794.0 529.7 L795.6 529.8 L797.2 529.9 L798.9 530.0 L800.5 530.0 L802.1 530.1 L803.7 530.1 L805.3 530.1 L806.9 530.1 L808.5 530.1 L810.2 530.0 L811.8 530.0 L813.4 529.9 L815.0 529.8 L816.6 529.7 L818.3 529.6 L819.9 529.5 L821.5 529.4 L823.1 529.3 L824.8 529.1 L826.4 529.0 L828.0 528.8 L829.6 528.7 L831.3 528.5 L832.9 528.4 L834.5 528.2 L836.1 528.0 L837.7 527.8 L839.3 527.7 L840.9 527.5 L842.5 527.3 L844.1 527.1 L845.7 527.0 L847.3 526.8 L848.9 526.6 L850.5 526.4 L852.1 526.3 L853.7 526.1 L855.3 525.9 L856.9 525.8 L858.4 525.6 L860.0 525.5" stroke="#00ff00" stroke-width="0.5" stroke-dasharray="4.3 4.05"/>
<path d="M696.6 465.3 L698.2 465.2 L699.8 465.2 L701.4 465.1 L703.0 465.0 L704.6 464.9 L706.2 464.9 L707.8 464.8 L709.4 464.7 L711.0 464.7 L712.6 464.6 L714.2 464.6 L715.8 464.5 L717.4 464.4 L719.0 464.4 L720.6 464.3 L722.2 464.3 L723.8 464.2 L725.4 464.1 L727.0 464.1 L728.6 464.0 L730.2 464.0 L731.8 463.9 L733.4 463.9 L735.0 463.8 L736.6 463.8 L738.2 463.7 L739.8 463.7 L741.4 463.6 L743.0 463.6 L744.6 463.5 L746.2 463.5 L747.8 463.5 L749.4 463.4 L751.0 463.4 L752.6 463.3 L754.3 463.3 L755.9 463.3 L757.5 463.2 L759.1 463.2 L760.7 463.2 L762.3 463.1 L763.9 463.1 L765.5 463.1 L767.1 463.0 L768.7 463.0 L770.3 463.0 L771.9 462.9 L773.5 462.9 L775.1 462.9 L776.7 462.9 L778.3 462.8 L779.9 462.8 L781.5 462.8 L783.1 462.8 L784.7 462.7 L786.3 462.7 L787.9 462.7 L789.5 462.7 L791.1 462.7 L792.7 462.6 L794.3 462.6 L795.9 462.6 L797.5 462.6 L799.1 462.6 L800.7 462.6 L802.3 462.6 L803.9 462.6 L805.5 462.5 L807.1 462.5 L808.7 462.5 L810.3 462.5 L811.9 462.5 L813.5 462.5 L815.1 462.5 L816.7 462.5 L818.3 462.5 L819.9 462.5 L821.5 462.5 L823.1 462.5 L824.7 462.5 L826.3 462.5 L827.9 462.5 L829.6 462.5 L831.2 462.5 L832.8 462.5 L834.4 462.5 L836.0 462.5 L837.6 462.5 L839.2 462.5 L840.8 462.5 L842.4 462.5 L844.0 462.6 L845.6 462.6 L847.2 462.6 L848.8 462.6 L850.4 462.6 L852.0 462.6 L853.6 462.6 L855.2 462.6 L856.8 462.7 L858.4 462.7 L860.0 462.7" stroke="#ff00ff" stroke-width="0.5" stroke-dasharray="4.4 5.1 1.3 5.2"/>
<path d="M664.5 453.5 L666.1 453.7 L667.7 453.8 L669.3 454.0 L670.9 454.1 L672.5 454.3 L674.1 454.4 L675.7 454.6 L677.3 454.7 L678.9 454.9 L680.5 455.0 L682.1 455.1 L683.7 455.3 L685.3 455.4 L686.9 455.5 L688.5 455.6 L690.1 455.8 L691.7 455.9 L693.3 456.0 L694.9 456.1 L696.5 456.2 L698.1 456.3 L699.7 456.4 L701.3 456.5 L702.9 456.6 L704.5 456.7 L706.1 456.8 L707.7 456.9 L709.3 457.0 L710.9 457.1 L712.5 457.2 L714.1 457.3 L715.7 457.3 L717.3 457.4 L718.9 457.5 L720.5 457.6 L722.1 457.7 L723.7 457.7 L725.3 457.8 L726.9 457.9 L728.5 457.9 L730.1 458.0 L731.7 458.1 L733.3 458.1 L734.9 458.2 L736.5 458.3 L738.1 458.3 L739.7 458.4 L741.3 458.5 L742.9 458.5 L744.5 458.6 L746.1 458.6 L747.7 458.7 L749.3 458.7 L750.9 458.8 L752.5 458.8 L754.1 458.9 L755.7 458.9 L757.3 459.0 L758.9 459.0 L760.5 459.1 L762.2 459.1 L763.8 459.2 L765.4 459.2 L767.0 459.3 L768.6 459.3 L770.2 459.4 L771.8 459.4 L773.4 459.4 L775.0 459.5 L776.6 459.5 L778.2 459.6 L779.8 459.6 L781.4 459.7 L783.0 459.7 L784.6 459.7 L786.2 459.8 L787.8 459.8 L789.4 459.9 L791.0 459.9 L792.6 459.9 L794.2 460.0 L795.8 460.0 L797.4 460.0 L799.0 460.1 L800.7 460.1 L802.3 460.2 L803.9 460.2 L805.5 460.2 L807.1 460.3 L808.7 460.3 L810.3 460.3 L811.9 460.3 L813.5 460.4 L815.1 460.4 L816.7 460.4 L818.3 460.5 L819.9 460.5 L821.5 460.5 L823.1 460.5 L824.7 460.5 L826.3 460.6 L827.9 460.6 L829.5 460.6 L831.1 460.6 L832.7 460.6 L834.3 460.7 L835.9 460.7 L837.6 460.7 L839.2 460.7 L840.8 460.7 L842.4 460.7 L844.0 460.7 L845.6 460.7 L847.2 460.7 L848.8 460.7 L850.4 460.7 L852.0 460.7 L853.6 460.7 L855.2 460.7 L856.8 460.7 L858.4 460.7 L860.0 460.7" stroke="#000" stroke-width="0.62"/>
<path d="M664.5 453.5 L666.1 453.6 L667.7 453.7 L669.3 453.8 L670.9 453.9 L672.5 454.0 L674.1 454.2 L675.7 454.3 L677.3 454.4 L678.9 454.5 L680.5 454.7 L682.1 454.8 L683.7 454.9 L685.3 455.1 L686.9 455.2 L688.5 455.4 L690.1 455.5 L691.7 455.7 L693.3 455.8 L694.9 456.0 L696.5 456.2 L698.1 456.3 L699.7 456.5 L701.3 456.6 L703.0 456.8 L704.6 457.0 L706.2 457.2 L707.8 457.3 L709.3 457.5 L710.9 457.7 L712.5 457.9 L714.1 458.0 L715.7 458.2 L717.3 458.4 L718.9 458.6 L720.5 458.8 L722.1 459.0 L723.7 459.1 L725.3 459.3 L726.9 459.5 L728.5 459.7 L730.1 459.9 L731.7 460.1 L733.3 460.3 L734.9 460.5 L736.5 460.7 L738.1 460.9 L739.7 461.0 L741.3 461.2 L742.9 461.4 L744.5 461.6 L746.1 461.8 L747.7 462.0 L749.3 462.2 L750.9 462.4 L752.5 462.6 L754.1 462.7 L755.7 462.9 L757.3 463.1 L758.9 463.3 L760.5 463.5 L762.1 463.7 L763.7 463.8 L765.3 464.0 L766.9 464.2 L768.5 464.4 L770.1 464.5 L771.7 464.7 L773.3 464.9 L774.9 465.1 L776.5 465.2 L778.1 465.4 L779.7 465.6 L781.3 465.7 L782.9 465.9 L784.5 466.0 L786.1 466.2 L787.7 466.3 L789.3 466.5 L790.9 466.6 L792.5 466.8 L794.1 466.9 L795.7 467.0 L797.3 467.2 L798.9 467.3 L800.5 467.4 L802.1 467.6 L803.7 467.7 L805.3 467.8 L806.9 467.9 L808.5 468.0 L810.2 468.1 L811.8 468.2 L813.4 468.3 L815.0 468.4 L816.6 468.5 L818.2 468.6 L819.8 468.7 L821.4 468.7 L823.0 468.8 L824.6 468.9 L826.2 468.9 L827.8 469.0 L829.4 469.0 L831.0 469.1 L832.6 469.1 L834.2 469.2 L835.8 469.2 L837.5 469.2 L839.1 469.2 L840.7 469.3 L842.3 469.3 L843.9 469.3 L845.5 469.3 L847.1 469.3 L848.7 469.3 L850.3 469.2 L851.9 469.2 L853.6 469.2 L855.2 469.1 L856.8 469.1 L858.4 469.1 L860.0 469.0" stroke="#ff0000" stroke-width="1.9" stroke-dasharray="4.4 5 1.6 5"/>
<path d="M664.5 455.0 L665.2 456.3 L665.9 457.7 L666.5 459.2 L667.1 460.8 L667.7 462.4 L668.4 464.0 L669.1 465.6 L669.8 467.1 L670.7 468.4 L671.6 469.7 L672.7 470.7 L673.9 471.6 L675.3 472.2 L676.7 472.7 L678.2 472.9 L679.7 473.0 L681.3 472.9 L682.9 472.7 L684.6 472.4 L686.3 472.1 L687.9 471.8 L689.6 471.6 L691.2 471.4 L692.8 471.2 L694.5 471.1 L696.1 471.0 L697.7 470.9 L699.3 470.9 L700.9 470.9 L702.5 471.0 L704.1 471.0 L705.7 471.1 L707.2 471.2 L708.8 471.4 L710.4 471.6 L711.9 471.8 L713.5 472.0 L715.1 472.3 L716.6 472.6 L718.1 472.9 L719.7 473.3 L721.2 473.6 L722.8 474.0 L724.3 474.4 L725.8 474.9 L727.3 475.3 L728.9 475.8 L730.4 476.3 L731.9 476.8 L733.4 477.3 L734.9 477.9 L736.4 478.4 L737.9 479.0 L739.4 479.6 L741.0 480.2 L742.5 480.8 L744.0 481.4 L745.5 482.0 L747.0 482.7 L748.5 483.3 L750.0 483.9 L751.5 484.5 L753.0 485.1 L754.5 485.7 L756.0 486.3 L757.5 486.9 L759.0 487.4 L760.5 488.0 L762.1 488.5 L763.6 489.0 L765.1 489.5 L766.6 489.9 L768.1 490.4 L769.7 490.8 L771.2 491.2 L772.7 491.6 L774.2 492.0 L775.8 492.4 L777.3 492.8 L778.9 493.2 L780.4 493.5 L781.9 493.9 L783.5 494.3 L785.1 494.6 L786.6 494.9 L788.2 495.2 L789.8 495.4 L791.3 495.6 L792.9 495.8 L794.5 495.9 L796.1 496.1 L797.7 496.2 L799.3 496.2 L800.8 496.3 L802.4 496.3 L804.0 496.3 L805.6 496.3 L807.2 496.3 L808.9 496.3 L810.5 496.2 L812.1 496.1 L813.7 496.0 L815.3 495.9 L816.9 495.8 L818.5 495.7 L820.1 495.5 L821.7 495.4 L823.4 495.2 L825.0 495.1 L826.6 494.9 L828.2 494.7 L829.8 494.5 L831.4 494.3 L833.0 494.1 L834.6 494.0 L836.2 493.8 L837.8 493.6 L839.4 493.4 L841.0 493.2 L842.6 493.0 L844.2 492.8 L845.8 492.7 L847.4 492.5 L849.0 492.3 L850.6 492.2 L852.2 492.0 L853.7 491.9 L855.3 491.8 L856.9 491.7 L858.4 491.6 L860.0 491.5" stroke="#0000ff" stroke-width="1.9" stroke-dasharray="4.4 3.95"/>
<path d="M664.5 453.5 L666.1 453.4 L667.7 453.4 L669.2 453.4 L670.8 453.5 L672.4 453.6 L674.0 453.7 L675.5 453.9 L677.1 454.2 L678.6 454.5 L680.2 454.8 L681.7 455.1 L683.3 455.5 L684.8 455.9 L686.4 456.3 L687.9 456.8 L689.4 457.2 L691.0 457.7 L692.5 458.3 L694.0 458.8 L695.5 459.4 L697.1 459.9 L698.6 460.5 L700.1 461.1 L701.6 461.7 L703.1 462.3 L704.7 462.9 L706.2 463.5 L707.7 464.1 L709.2 464.7 L710.7 465.3 L712.2 465.9 L713.7 466.4 L715.2 467.0 L716.8 467.6 L718.3 468.2 L719.8 468.7 L721.3 469.3 L722.8 469.8 L724.3 470.3 L725.8 470.8 L727.4 471.4 L728.9 471.9 L730.4 472.4 L731.9 472.8 L733.4 473.3 L734.9 473.8 L736.5 474.2 L738.0 474.7 L739.5 475.1 L741.1 475.5 L742.6 475.9 L744.1 476.3 L745.7 476.7 L747.2 477.1 L748.7 477.5 L750.3 477.8 L751.8 478.2 L753.4 478.5 L754.9 478.8 L756.5 479.1 L758.1 479.4 L759.6 479.7 L761.2 479.9 L762.7 480.2 L764.3 480.4 L765.9 480.7 L767.5 480.9 L769.0 481.1 L770.6 481.3 L772.2 481.5 L773.8 481.7 L775.4 481.9 L776.9 482.1 L778.5 482.3 L780.1 482.5 L781.7 482.7 L783.3 482.8 L784.9 483.0 L786.5 483.1 L788.1 483.3 L789.7 483.5 L791.3 483.6 L792.9 483.8 L794.5 483.9 L796.1 484.1 L797.7 484.2 L799.3 484.4 L800.9 484.5 L802.5 484.7 L804.1 484.8 L805.7 485.0 L807.3 485.1 L808.9 485.3 L810.5 485.4 L812.1 485.5 L813.7 485.7 L815.3 485.8 L816.9 485.9 L818.5 486.0 L820.1 486.1 L821.7 486.2 L823.3 486.3 L825.0 486.3 L826.6 486.4 L828.2 486.4 L829.8 486.4 L831.4 486.4 L833.0 486.4 L834.6 486.4 L836.2 486.3 L837.8 486.3 L839.4 486.2 L841.0 486.1 L842.6 486.0 L844.1 485.9 L845.7 485.7 L847.3 485.6 L848.9 485.4 L850.5 485.3 L852.1 485.1 L853.7 484.9 L855.3 484.7 L856.8 484.5 L858.4 484.2 L860.0 484.0" stroke="#ff0000" stroke-width="1.9"/>
</g>
<rect x="664.10" y="411.05" width="261.00" height="168.85" stroke="#000" stroke-width="2" fill="none"/>
<g stroke="#000">
<path d="M696.6 436.2 V472.2" stroke-width="1.55"/>
<circle cx="696.6" cy="454.6" r="3.5" fill="#fff" stroke-width="1.8"/>
<path d="M722.9 444.3 V461.5" stroke-width="1.55"/>
<circle cx="722.9" cy="453.0" r="3.5" fill="#fff" stroke-width="1.8"/>
<path d="M749.1 457.6 V469.9" stroke-width="1.55"/>
<circle cx="749.1" cy="463.8" r="3.5" fill="#fff" stroke-width="1.8"/>
<path d="M775.1 455.3 V463.8" stroke-width="1.55"/>
<circle cx="775.1" cy="459.6" r="3.5" fill="#fff" stroke-width="1.8"/>
<circle cx="801.0" cy="462.7" r="3.5" fill="#fff" stroke-width="1.8"/>
<circle cx="827.0" cy="453.8" r="3.5" fill="#fff" stroke-width="1.8"/>
<circle cx="853.2" cy="456.9" r="3.5" fill="#fff" stroke-width="1.8"/>
</g>
<path d="M697.50 546.36 L700.49 557.70 M703.49 546.36 L700.49 557.70 M703.49 546.36 L706.48 557.70 M709.47 546.36 L706.48 557.70 M712.72 551.22 L722.41 551.22 M712.72 554.73 L722.41 554.73 M728.28 548.52 L729.42 547.98 L731.13 546.36 L731.13 557.70 M739.11 556.62 L738.54 557.16 L739.11 557.70 L739.68 557.16 L739.11 556.62 M751.08 546.36 L745.38 557.70 M743.10 546.36 L751.08 546.36 M757.35 546.36 L755.64 546.90 L755.07 547.98 L755.07 549.06 L755.64 550.14 L756.78 550.68 L759.06 551.22 L760.77 551.76 L761.91 552.84 L762.48 553.92 L762.48 555.54 L761.91 556.62 L761.34 557.16 L759.63 557.70 L757.35 557.70 L755.64 557.16 L755.07 556.62 L754.50 555.54 L754.50 553.92 L755.07 552.84 L756.21 551.76 L757.92 551.22 L760.20 550.68 L761.34 550.14 L761.91 549.06 L761.91 547.98 L761.34 546.90 L759.63 546.36 L757.35 546.36 M773.31 547.98 L772.74 546.90 L771.03 546.36 L769.89 546.36 L768.18 546.90 L767.04 548.52 L766.47 551.22 L766.47 553.92 L767.04 556.08 L768.18 557.16 L769.89 557.70 L770.46 557.70 L772.17 557.16 L773.31 556.08 L773.88 554.46 L773.88 553.92 L773.31 552.30 L772.17 551.22 L770.46 550.68 L769.89 550.68 L768.18 551.22 L767.04 552.30 L766.47 553.92 M791.09 549.06 L790.52 547.98 L789.38 546.90 L788.24 546.36 L785.96 546.36 L784.82 546.90 L783.68 547.98 L783.11 549.06 L782.54 550.68 L782.54 553.38 L783.11 555.00 L783.68 556.08 L784.82 557.16 L785.96 557.70 L788.24 557.70 L789.38 557.16 L790.52 556.08 L791.09 555.00 L791.09 553.38 M788.24 553.38 L791.09 553.38 M794.51 553.38 L801.35 553.38 L801.35 552.30 L800.78 551.22 L800.21 550.68 L799.07 550.14 L797.36 550.14 L796.22 550.68 L795.08 551.76 L794.51 553.38 L794.51 554.46 L795.08 556.08 L796.22 557.16 L797.36 557.70 L799.07 557.70 L800.21 557.16 L801.35 556.08 M803.63 546.36 L808.19 557.70 M812.75 546.36 L808.19 557.70" fill="none" stroke="#111" stroke-width="1.18" stroke-linecap="round" stroke-linejoin="round"/>
<path d="M183.30 592.10 v12 M183.30 761.10 v-12 M118.05 634.60 h12 M379.05 634.60 h-12 M248.55 592.10 v12 M248.55 761.10 v-12 M118.05 676.70 h12 M379.05 676.70 h-12 M313.80 592.10 v12 M313.80 761.10 v-12 M118.05 719.20 h12 M379.05 719.20 h-12 " stroke="#000" stroke-width="2" fill="none"/>
<g clip-path="url(#c10)" fill="none" stroke-linecap="butt" stroke-linejoin="round">
<path d="M130.05 634.60 H367.05" stroke="#1a1a1a" stroke-width="0.58" stroke-dasharray="1.45 2.73"/>
<path d="M130.05 676.70 H367.05" stroke="#444" stroke-width="0.75"/>
<path d="M130.05 719.20 H367.05" stroke="#1a1a1a" stroke-width="0.58" stroke-dasharray="1.45 2.73"/>
<path d="M150.6 647.8 L152.1 648.1 L153.7 648.5 L155.2 648.8 L156.8 649.1 L158.4 649.5 L159.9 649.9 L161.5 650.3 L163.1 650.7 L164.6 651.2 L166.2 651.6 L167.7 652.1 L169.3 652.7 L170.8 653.2 L172.3 653.8 L173.8 654.5 L175.2 655.2 L176.7 655.9 L178.1 656.7 L179.5 657.5 L180.8 658.4 L182.1 659.3 L183.4 660.2 L184.7 661.2 L185.9 662.2 L187.1 663.3 L188.3 664.4 L189.4 665.5 L190.5 666.7 L191.6 667.9 L192.7 669.1 L193.8 670.2 L194.9 671.4 L196.0 672.5 L197.2 673.5 L198.4 674.5 L199.7 675.4 L201.0 676.3 L202.3 677.1 L203.7 677.9 L205.1 678.6 L206.6 679.3 L208.0 680.0 L209.5 680.7 L210.9 681.4 L212.4 682.2 L213.8 682.9 L215.2 683.6 L216.7 684.3 L218.1 685.0 L219.6 685.8 L221.0 686.5 L222.5 687.2 L223.9 687.9 L225.4 688.6 L226.9 689.3 L228.3 690.0 L229.8 690.7 L231.3 691.4 L232.7 692.1 L234.2 692.7 L235.7 693.4 L237.2 694.0 L238.7 694.6 L240.2 695.2 L241.8 695.8 L243.3 696.3 L244.8 696.8 L246.3 697.3 L247.9 697.7 L249.4 698.0 L251.0 698.3 L252.5 698.6 L254.1 698.8 L255.7 698.9 L257.2 698.9 L258.8 698.9 L260.4 698.8 L262.0 698.7 L263.6 698.6 L265.1 698.4 L266.7 698.2 L268.3 697.9 L269.9 697.7 L271.5 697.4 L273.1 697.1 L274.7 696.9 L276.3 696.6 L277.9 696.4 L279.6 696.2 L281.2 696.0 L282.8 695.8 L284.4 695.7 L286.0 695.5 L287.6 695.4 L289.2 695.3 L290.9 695.1 L292.5 695.0 L294.1 694.9 L295.7 694.8 L297.3 694.6 L298.9 694.5 L300.5 694.4 L302.2 694.2 L303.8 694.1 L305.4 693.9 L307.0 693.7 L308.6 693.5 L310.2 693.4 L311.8 693.2 L313.4 693.1 L315.0 692.9 L316.6 692.8 L318.2 692.8 L319.8 692.7 L321.4 692.7 L323.0 692.7 L324.6 692.7 L326.1 692.8 L327.7 693.0 L329.3 693.2 L330.9 693.4 L332.4 693.7 L334.0 694.0 L335.5 694.3 L337.1 694.7 L338.6 695.1 L340.2 695.6 L341.7 696.1 L343.2 696.6 L344.7 697.1 L346.3 697.7 L347.8 698.3 L349.3 698.9 L350.8 699.5 L352.3 700.1 L353.7 700.8 L355.2 701.4 L356.7 702.1 L358.1 702.8 L359.6 703.5" stroke="#00ff00" stroke-width="0.5" stroke-dasharray="4.3 4.05"/>
<path d="M150.6 651.9 L152.2 651.8 L153.8 651.8 L155.4 651.7 L156.9 651.6 L158.5 651.5 L160.1 651.4 L161.7 651.3 L163.3 651.2 L164.9 651.1 L166.5 651.0 L168.1 650.9 L169.7 650.8 L171.3 650.6 L172.9 650.5 L174.5 650.4 L176.1 650.3 L177.7 650.1 L179.3 650.0 L180.9 649.9 L182.5 649.8 L184.1 649.6 L185.7 649.5 L187.3 649.4 L188.9 649.2 L190.5 649.1 L192.1 648.9 L193.7 648.8 L195.3 648.7 L196.9 648.6 L198.5 648.4 L200.1 648.3 L201.7 648.2 L203.3 648.0 L204.9 647.9 L206.5 647.8 L208.2 647.7 L209.8 647.6 L211.4 647.4 L213.0 647.3 L214.6 647.2 L216.2 647.1 L217.8 647.0 L219.4 646.9 L221.1 646.8 L222.7 646.7 L224.3 646.7 L225.9 646.6 L227.5 646.5 L229.1 646.5 L230.7 646.4 L232.3 646.3 L234.0 646.3 L235.6 646.2 L237.2 646.2 L238.8 646.2 L240.4 646.1 L242.0 646.1 L243.7 646.1 L245.3 646.1 L246.9 646.0 L248.5 646.0 L250.1 646.0 L251.7 646.0 L253.3 646.0 L255.0 646.0 L256.6 646.0 L258.2 646.0 L259.8 646.0 L261.4 646.0 L263.0 646.1 L264.6 646.1 L266.2 646.1 L267.9 646.1 L269.5 646.2 L271.1 646.2 L272.7 646.2 L274.3 646.3 L275.9 646.3 L277.5 646.3 L279.1 646.4 L280.7 646.4 L282.3 646.5 L283.9 646.5 L285.5 646.5 L287.2 646.6 L288.8 646.6 L290.4 646.7 L292.0 646.7 L293.6 646.8 L295.2 646.8 L296.8 646.8 L298.4 646.9 L300.0 646.9 L301.6 646.9 L303.2 647.0 L304.8 647.0 L306.4 647.0 L308.0 647.0 L309.6 647.0 L311.2 647.0 L312.7 647.0 L314.3 647.0 L315.9 647.0 L317.5 646.9 L319.1 646.9 L320.7 646.9 L322.3 646.8 L323.9 646.7 L325.5 646.6 L327.0 646.6 L328.6 646.4 L330.2 646.3 L331.8 646.2 L333.4 646.1 L334.9 645.9 L336.5 645.7 L338.1 645.6 L339.7 645.4 L341.2 645.1 L342.8 644.9 L344.4 644.6 L345.9 644.3 L347.5 643.9 L349.1 643.5 L350.6 643.1 L352.2 642.7 L353.8 642.2 L355.3 641.7 L356.9 641.2 L358.4 640.7 L360.0 640.1 L361.5 639.6 L363.1 639.1 L364.6 638.5 L366.2 638.0 L367.7 637.5 L369.3 637.0 L370.8 636.5 L372.4 636.1 L373.9 635.6 L375.4 635.2 L377.0 634.8 L378.5 634.5" stroke="#ff00ff" stroke-width="0.5" stroke-dasharray="4.4 5.1 1.3 5.2"/>
<path d="M118.5 634.5 L118.8 635.9 L119.0 637.5 L119.2 639.1 L119.3 640.8 L119.5 642.5 L119.7 644.2 L120.0 645.9 L120.4 647.5 L120.9 649.1 L121.5 650.7 L122.2 652.1 L123.1 653.3 L124.2 654.5 L125.4 655.5 L126.8 656.3 L128.2 656.9 L129.7 657.3 L131.2 657.6 L132.8 657.7 L134.3 657.7 L135.9 657.5 L137.4 657.2 L139.0 656.9 L140.5 656.4 L142.1 656.0 L143.6 655.5 L145.2 655.0 L146.7 654.5 L148.3 654.1 L149.8 653.7 L151.4 653.3 L152.9 653.0 L154.5 652.6 L156.1 652.3 L157.6 652.0 L159.2 651.7 L160.8 651.4 L162.3 651.1 L163.9 650.8 L165.5 650.5 L167.1 650.2 L168.6 649.9 L170.2 649.6 L171.8 649.3 L173.3 649.0 L174.9 648.7 L176.5 648.4 L178.1 648.0 L179.7 647.7 L181.2 647.4 L182.8 647.1 L184.4 646.9 L186.0 646.6 L187.6 646.3 L189.2 646.0 L190.7 645.7 L192.3 645.5 L193.9 645.2 L195.5 644.9 L197.1 644.7 L198.7 644.4 L200.3 644.2 L201.9 644.0 L203.5 643.8 L205.1 643.6 L206.7 643.4 L208.2 643.2 L209.8 643.1 L211.4 642.9 L213.0 642.8 L214.6 642.6 L216.2 642.5 L217.8 642.4 L219.4 642.3 L221.0 642.1 L222.6 642.1 L224.2 642.0 L225.8 641.9 L227.4 641.8 L229.0 641.8 L230.6 641.7 L232.2 641.7 L233.8 641.6 L235.4 641.6 L237.0 641.6 L238.6 641.6 L240.2 641.6 L241.8 641.6 L243.4 641.6 L245.0 641.6 L246.6 641.6 L248.2 641.6 L249.8 641.7 L251.4 641.7 L253.0 641.7 L254.7 641.8 L256.3 641.8 L257.9 641.9 L259.5 642.0 L261.1 642.0 L262.7 642.1 L264.3 642.2 L265.9 642.3 L267.5 642.3 L269.1 642.4 L270.7 642.5 L272.3 642.6 L273.9 642.7 L275.5 642.8 L277.1 642.9 L278.7 643.0 L280.3 643.0 L281.9 643.1 L283.5 643.2 L285.1 643.3 L286.7 643.4 L288.3 643.5 L289.9 643.6 L291.5 643.7 L293.1 643.8 L294.7 643.9 L296.3 643.9 L297.9 644.0 L299.5 644.1 L301.1 644.2 L302.7 644.2 L304.3 644.3 L305.9 644.4 L307.5 644.4 L309.1 644.5 L310.7 644.5 L312.3 644.6 L313.9 644.6 L315.5 644.6 L317.1 644.6 L318.7 644.6 L320.2 644.6 L321.8 644.6 L323.4 644.6 L325.0 644.5 L326.6 644.4 L328.2 644.4 L329.8 644.3 L331.4 644.1 L333.0 644.0 L334.5 643.8 L336.1 643.6 L337.7 643.4 L339.3 643.2 L340.9 643.0 L342.4 642.7 L344.0 642.4 L345.6 642.1 L347.2 641.7 L348.8 641.4 L350.3 641.0 L351.9 640.6 L353.5 640.2 L355.1 639.8 L356.6 639.4 L358.2 639.0 L359.8 638.6 L361.3 638.2 L362.9 637.7 L364.5 637.3 L366.0 636.9 L367.6 636.6 L369.2 636.2 L370.7 635.8 L372.3 635.5 L373.8 635.2 L375.4 635.0 L376.9 634.7 L378.5 634.5" stroke="#000" stroke-width="0.62"/>
<path d="M118.5 634.5 L120.1 634.6 L121.7 634.7 L123.3 634.8 L124.8 634.9 L126.4 635.1 L128.0 635.2 L129.6 635.3 L131.2 635.4 L132.8 635.6 L134.4 635.7 L135.9 635.8 L137.5 636.0 L139.1 636.1 L140.7 636.3 L142.3 636.4 L143.9 636.6 L145.5 636.7 L147.1 636.9 L148.7 637.0 L150.2 637.2 L151.8 637.4 L153.4 637.5 L155.0 637.7 L156.6 637.9 L158.2 638.1 L159.8 638.2 L161.4 638.4 L163.0 638.6 L164.6 638.8 L166.2 639.0 L167.8 639.2 L169.3 639.3 L170.9 639.5 L172.5 639.7 L174.1 639.9 L175.7 640.1 L177.3 640.3 L178.9 640.5 L180.5 640.7 L182.1 640.9 L183.7 641.1 L185.3 641.3 L186.9 641.5 L188.5 641.8 L190.1 642.0 L191.7 642.2 L193.3 642.4 L194.9 642.6 L196.5 642.8 L198.1 643.0 L199.7 643.3 L201.3 643.5 L202.8 643.7 L204.4 643.9 L206.0 644.1 L207.6 644.3 L209.2 644.6 L210.8 644.8 L212.4 645.0 L214.0 645.2 L215.6 645.5 L217.2 645.7 L218.8 645.9 L220.4 646.1 L222.0 646.4 L223.6 646.6 L225.2 646.8 L226.8 647.0 L228.4 647.3 L230.0 647.5 L231.6 647.7 L233.2 647.9 L234.8 648.2 L236.4 648.4 L238.0 648.6 L239.6 648.8 L241.2 649.0 L242.8 649.3 L244.4 649.5 L246.0 649.7 L247.6 649.9 L249.2 650.1 L250.8 650.3 L252.4 650.5 L254.0 650.7 L255.6 650.9 L257.2 651.1 L258.8 651.3 L260.4 651.5 L261.9 651.6 L263.5 651.8 L265.1 652.0 L266.7 652.1 L268.3 652.3 L269.9 652.4 L271.5 652.6 L273.1 652.7 L274.7 652.9 L276.3 653.0 L277.9 653.1 L279.5 653.2 L281.1 653.3 L282.7 653.4 L284.3 653.5 L285.9 653.6 L287.5 653.7 L289.1 653.7 L290.7 653.8 L292.2 653.8 L293.8 653.9 L295.4 653.9 L297.0 653.9 L298.6 653.9 L300.2 653.9 L301.8 653.9 L303.4 653.9 L305.0 653.9 L306.6 653.8 L308.2 653.8 L309.7 653.7 L311.3 653.6 L312.9 653.5 L314.5 653.4 L316.1 653.3 L317.7 653.2 L319.3 653.1 L320.8 652.9 L322.4 652.7 L324.0 652.5 L325.6 652.3 L327.1 652.1 L328.7 651.9 L330.3 651.6 L331.8 651.4 L333.4 651.1 L335.0 650.8 L336.5 650.5 L338.1 650.1 L339.6 649.8 L341.2 649.4 L342.7 649.0 L344.3 648.6 L345.8 648.2 L347.3 647.7 L348.9 647.3 L350.4 646.8 L351.9 646.3 L353.4 645.8 L354.9 645.2 L356.5 644.7 L358.0 644.1 L359.5 643.5 L361.0 642.9 L362.5 642.3 L363.9 641.6 L365.4 641.0 L366.9 640.3 L368.4 639.6 L369.8 638.9 L371.3 638.2 L372.7 637.5 L374.2 636.8 L375.6 636.0 L377.1 635.3 L378.5 634.5" stroke="#ff0000" stroke-width="1.9" stroke-dasharray="4.4 5 1.6 5"/>
<path d="M118.5 635.5 L118.6 637.0 L118.8 638.5 L119.0 640.1 L119.2 641.6 L119.5 643.3 L119.9 644.9 L120.3 646.5 L120.7 648.1 L121.2 649.7 L121.8 651.3 L122.5 652.9 L123.2 654.4 L124.0 655.8 L124.9 657.2 L125.9 658.5 L126.9 659.6 L128.1 660.6 L129.3 661.4 L130.6 662.1 L132.0 662.5 L133.4 662.8 L134.9 662.8 L136.5 662.8 L138.1 662.5 L139.7 662.2 L141.3 661.8 L142.9 661.4 L144.6 660.9 L146.2 660.5 L147.8 660.1 L149.5 659.7 L151.1 659.4 L152.7 659.1 L154.3 658.9 L155.9 658.7 L157.5 658.6 L159.0 658.5 L160.6 658.5 L162.2 658.5 L163.7 658.6 L165.3 658.7 L166.8 659.0 L168.4 659.3 L169.9 659.6 L171.5 660.1 L173.0 660.6 L174.5 661.1 L176.1 661.6 L177.6 662.2 L179.1 662.7 L180.7 663.3 L182.2 663.8 L183.7 664.3 L185.2 664.8 L186.7 665.3 L188.2 665.8 L189.8 666.3 L191.3 666.8 L192.8 667.2 L194.3 667.7 L195.8 668.2 L197.4 668.6 L198.9 669.1 L200.4 669.6 L201.9 670.0 L203.5 670.5 L205.0 671.0 L206.5 671.4 L208.1 671.9 L209.6 672.4 L211.2 672.9 L212.7 673.3 L214.3 673.8 L215.8 674.3 L217.4 674.7 L218.9 675.2 L220.5 675.6 L222.0 676.0 L223.6 676.5 L225.2 676.9 L226.7 677.2 L228.3 677.6 L229.9 678.0 L231.4 678.3 L233.0 678.6 L234.6 678.9 L236.2 679.2 L237.7 679.5 L239.3 679.7 L240.9 679.9 L242.5 680.0 L244.1 680.2 L245.7 680.3 L247.2 680.4 L248.8 680.5 L250.4 680.6 L252.0 680.6 L253.6 680.6 L255.2 680.7 L256.8 680.7 L258.4 680.6 L260.0 680.6 L261.6 680.6 L263.2 680.6 L264.7 680.5 L266.3 680.4 L267.9 680.3 L269.5 680.3 L271.1 680.2 L272.7 680.0 L274.3 679.9 L275.9 679.8 L277.5 679.6 L279.1 679.5 L280.7 679.3 L282.3 679.1 L283.9 678.9 L285.5 678.7 L287.1 678.5 L288.6 678.3 L290.2 678.1 L291.8 677.8 L293.4 677.6 L295.0 677.3 L296.6 677.1 L298.2 676.8 L299.8 676.5 L301.3 676.2 L302.9 675.9 L304.5 675.6 L306.1 675.3 L307.6 674.9 L309.2 674.6 L310.8 674.2 L312.4 673.9 L313.9 673.5 L315.5 673.1 L317.0 672.7 L318.6 672.3 L320.1 671.8 L321.7 671.4 L323.2 670.9 L324.7 670.4 L326.3 670.0 L327.8 669.4 L329.3 668.9 L330.8 668.4 L332.3 667.8 L333.8 667.3 L335.3 666.7 L336.7 666.1 L338.2 665.4 L339.7 664.8 L341.1 664.1 L342.6 663.4 L344.0 662.7 L345.4 662.0 L346.8 661.2 L348.2 660.5 L349.6 659.7 L351.0 658.9 L352.3 658.0 L353.7 657.2 L355.0 656.3 L356.3 655.4 L357.6 654.4 L358.9 653.5 L360.2 652.5 L361.5 651.5 L362.7 650.4 L363.9 649.4 L365.2 648.3 L366.4 647.2 L367.6 646.1 L368.7 645.0 L369.9 643.9 L371.0 642.7 L372.2 641.6 L373.3 640.4 L374.3 639.2 L375.4 638.0 L376.5 636.9 L377.5 635.7 L378.5 634.5" stroke="#0000ff" stroke-width="1.9" stroke-dasharray="4.4 3.95"/>
<path d="M118.5 634.5 L120.0 634.9 L121.6 635.2 L123.1 635.6 L124.7 636.1 L126.2 636.5 L127.7 637.0 L129.2 637.5 L130.7 638.0 L132.2 638.5 L133.8 639.0 L135.3 639.6 L136.8 640.2 L138.3 640.8 L139.8 641.4 L141.2 642.0 L142.7 642.6 L144.2 643.2 L145.7 643.9 L147.2 644.5 L148.7 645.2 L150.1 645.9 L151.6 646.5 L153.1 647.2 L154.6 647.9 L156.0 648.6 L157.5 649.3 L159.0 649.9 L160.5 650.6 L161.9 651.3 L163.4 652.0 L164.9 652.7 L166.4 653.3 L167.8 654.0 L169.3 654.7 L170.8 655.3 L172.2 656.0 L173.7 656.6 L175.2 657.3 L176.7 657.9 L178.2 658.5 L179.6 659.2 L181.1 659.8 L182.6 660.4 L184.1 661.0 L185.6 661.5 L187.1 662.1 L188.6 662.7 L190.1 663.2 L191.6 663.8 L193.1 664.3 L194.6 664.8 L196.1 665.3 L197.6 665.8 L199.2 666.3 L200.7 666.8 L202.2 667.2 L203.7 667.7 L205.3 668.1 L206.8 668.6 L208.4 669.0 L209.9 669.4 L211.4 669.8 L213.0 670.2 L214.5 670.6 L216.1 671.0 L217.6 671.4 L219.2 671.7 L220.8 672.1 L222.3 672.5 L223.9 672.8 L225.5 673.1 L227.0 673.5 L228.6 673.8 L230.2 674.1 L231.8 674.4 L233.4 674.7 L234.9 675.0 L236.5 675.3 L238.1 675.6 L239.7 675.9 L241.3 676.1 L242.9 676.4 L244.5 676.7 L246.1 676.9 L247.7 677.2 L249.3 677.4 L250.9 677.7 L252.5 677.9 L254.1 678.1 L255.7 678.3 L257.3 678.5 L259.0 678.7 L260.6 678.9 L262.2 679.1 L263.8 679.3 L265.4 679.5 L267.0 679.6 L268.6 679.7 L270.3 679.9 L271.9 680.0 L273.5 680.1 L275.1 680.2 L276.7 680.3 L278.3 680.4 L279.9 680.4 L281.6 680.5 L283.2 680.5 L284.8 680.5 L286.4 680.5 L288.0 680.5 L289.6 680.5 L291.2 680.5 L292.8 680.4 L294.4 680.3 L296.0 680.2 L297.6 680.1 L299.2 680.0 L300.8 679.9 L302.4 679.7 L303.9 679.6 L305.5 679.4 L307.1 679.2 L308.7 678.9 L310.3 678.7 L311.8 678.4 L313.4 678.1 L314.9 677.8 L316.5 677.5 L318.1 677.2 L319.6 676.8 L321.1 676.4 L322.7 676.0 L324.2 675.6 L325.7 675.1 L327.3 674.6 L328.8 674.1 L330.3 673.6 L331.8 673.1 L333.3 672.5 L334.8 671.9 L336.2 671.2 L337.7 670.6 L339.1 669.9 L340.6 669.1 L342.0 668.4 L343.4 667.6 L344.8 666.7 L346.2 665.9 L347.6 665.0 L348.9 664.1 L350.2 663.2 L351.5 662.2 L352.8 661.2 L354.1 660.2 L355.4 659.1 L356.6 658.1 L357.8 657.0 L359.0 655.9 L360.2 654.7 L361.4 653.6 L362.5 652.4 L363.6 651.3 L364.8 650.1 L365.9 648.9 L367.0 647.7 L368.0 646.5 L369.1 645.3 L370.2 644.1 L371.2 642.9 L372.3 641.6 L373.3 640.4 L374.4 639.2 L375.4 638.0 L376.4 636.8 L377.5 635.7 L378.5 634.5" stroke="#ff0000" stroke-width="1.9"/>
</g>
<rect x="118.05" y="592.10" width="261.00" height="169.00" stroke="#000" stroke-width="2" fill="none"/>
<g stroke="#000">
<path d="M150.6 624.9 V644.8" stroke-width="1.55"/>
<circle cx="150.6" cy="635.3" r="3.5" fill="#fff" stroke-width="1.8"/>
<path d="M176.9 633.6 V645.8" stroke-width="1.55"/>
<circle cx="176.9" cy="640.2" r="3.5" fill="#fff" stroke-width="1.8"/>
<circle cx="203.2" cy="631.8" r="3.5" fill="#fff" stroke-width="1.8"/>
<circle cx="229.2" cy="631.8" r="3.5" fill="#fff" stroke-width="1.8"/>
<circle cx="255.2" cy="638.6" r="3.5" fill="#fff" stroke-width="1.8"/>
<circle cx="281.3" cy="636.8" r="3.5" fill="#fff" stroke-width="1.8"/>
<circle cx="307.3" cy="633.6" r="3.5" fill="#fff" stroke-width="1.8"/>
<circle cx="333.6" cy="634.4" r="3.5" fill="#fff" stroke-width="1.8"/>
<circle cx="359.6" cy="634.8" r="3.5" fill="#fff" stroke-width="1.8"/>
</g>
<path d="M151.45 727.41 L154.44 738.75 M157.44 727.41 L154.44 738.75 M157.44 727.41 L160.43 738.75 M163.42 727.41 L160.43 738.75 M166.67 732.27 L176.36 732.27 M166.67 735.78 L176.36 735.78 M182.23 729.57 L183.37 729.03 L185.08 727.41 L185.08 738.75 M193.06 737.67 L192.49 738.21 L193.06 738.75 L193.63 738.21 L193.06 737.67 M199.90 727.41 L198.19 727.95 L197.62 729.03 L197.62 730.11 L198.19 731.19 L199.33 731.73 L201.61 732.27 L203.32 732.81 L204.46 733.89 L205.03 734.97 L205.03 736.59 L204.46 737.67 L203.89 738.21 L202.18 738.75 L199.90 738.75 L198.19 738.21 L197.62 737.67 L197.05 736.59 L197.05 734.97 L197.62 733.89 L198.76 732.81 L200.47 732.27 L202.75 731.73 L203.89 731.19 L204.46 730.11 L204.46 729.03 L203.89 727.95 L202.18 727.41 L199.90 727.41 M209.59 727.41 L215.86 727.41 L212.44 731.73 L214.15 731.73 L215.29 732.27 L215.86 732.81 L216.43 734.43 L216.43 735.51 L215.86 737.13 L214.72 738.21 L213.01 738.75 L211.30 738.75 L209.59 738.21 L209.02 737.67 L208.45 736.59 M222.70 727.41 L220.99 727.95 L220.42 729.03 L220.42 730.11 L220.99 731.19 L222.13 731.73 L224.41 732.27 L226.12 732.81 L227.26 733.89 L227.83 734.97 L227.83 736.59 L227.26 737.67 L226.69 738.21 L224.98 738.75 L222.70 738.75 L220.99 738.21 L220.42 737.67 L219.85 736.59 L219.85 734.97 L220.42 733.89 L221.56 732.81 L223.27 732.27 L225.55 731.73 L226.69 731.19 L227.26 730.11 L227.26 729.03 L226.69 727.95 L224.98 727.41 L222.70 727.41 M245.04 730.11 L244.47 729.03 L243.33 727.95 L242.19 727.41 L239.91 727.41 L238.77 727.95 L237.63 729.03 L237.06 730.11 L236.49 731.73 L236.49 734.43 L237.06 736.05 L237.63 737.13 L238.77 738.21 L239.91 738.75 L242.19 738.75 L243.33 738.21 L244.47 737.13 L245.04 736.05 L245.04 734.43 M242.19 734.43 L245.04 734.43 M248.46 734.43 L255.30 734.43 L255.30 733.35 L254.73 732.27 L254.16 731.73 L253.02 731.19 L251.31 731.19 L250.17 731.73 L249.03 732.81 L248.46 734.43 L248.46 735.51 L249.03 737.13 L250.17 738.21 L251.31 738.75 L253.02 738.75 L254.16 738.21 L255.30 737.13 M257.58 727.41 L262.14 738.75 M266.70 727.41 L262.14 738.75" fill="none" stroke="#111" stroke-width="1.18" stroke-linecap="round" stroke-linejoin="round"/>
<path d="M456.35 592.10 v12 M456.35 761.10 v-12 M391.10 634.60 h12 M652.10 634.60 h-12 M521.60 592.10 v12 M521.60 761.10 v-12 M391.10 676.70 h12 M652.10 676.70 h-12 M586.85 592.10 v12 M586.85 761.10 v-12 M391.10 719.20 h12 M652.10 719.20 h-12 " stroke="#000" stroke-width="2" fill="none"/>
<g clip-path="url(#c11)" fill="none" stroke-linecap="butt" stroke-linejoin="round">
<path d="M403.10 634.60 H640.10" stroke="#1a1a1a" stroke-width="0.58" stroke-dasharray="1.45 2.73"/>
<path d="M403.10 676.70 H640.10" stroke="#444" stroke-width="0.75"/>
<path d="M403.10 719.20 H640.10" stroke="#1a1a1a" stroke-width="0.58" stroke-dasharray="1.45 2.73"/>
<path d="M426.2 650.1 L427.8 649.7 L429.4 649.3 L431.1 648.9 L432.7 648.6 L434.3 648.4 L435.9 648.2 L437.5 648.1 L439.1 648.1 L440.7 648.1 L442.3 648.2 L443.9 648.3 L445.5 648.5 L447.0 648.8 L448.5 649.2 L450.0 649.6 L451.5 650.1 L452.9 650.7 L454.3 651.3 L455.7 652.0 L457.1 652.8 L458.5 653.6 L459.9 654.4 L461.2 655.3 L462.6 656.2 L463.9 657.1 L465.3 657.9 L466.6 658.8 L468.0 659.7 L469.4 660.5 L470.7 661.4 L472.1 662.2 L473.5 663.1 L474.9 663.9 L476.3 664.7 L477.7 665.5 L479.1 666.3 L480.5 667.1 L481.9 667.9 L483.3 668.7 L484.8 669.4 L486.2 670.2 L487.6 670.9 L489.1 671.6 L490.5 672.3 L492.0 673.0 L493.4 673.6 L494.9 674.3 L496.4 674.9 L497.9 675.5 L499.3 676.1 L500.8 676.7 L502.3 677.3 L503.8 677.8 L505.3 678.3 L506.8 678.8 L508.4 679.3 L509.9 679.7 L511.4 680.2 L512.9 680.6 L514.5 681.0 L516.0 681.3 L517.6 681.7 L519.1 682.0 L520.7 682.3 L522.3 682.6 L523.8 682.8 L525.4 683.1 L527.0 683.3 L528.6 683.5 L530.2 683.6 L531.8 683.8 L533.3 684.0 L534.9 684.1 L536.5 684.2 L538.1 684.3 L539.7 684.4 L541.4 684.5 L543.0 684.5 L544.6 684.6 L546.2 684.6 L547.8 684.7 L549.4 684.7 L551.0 684.7 L552.6 684.7 L554.3 684.7 L555.9 684.7 L557.5 684.7 L559.1 684.6 L560.7 684.6 L562.4 684.6 L564.0 684.5 L565.6 684.5 L567.2 684.4 L568.8 684.4 L570.4 684.4 L572.0 684.4 L573.6 684.3 L575.3 684.3 L576.9 684.3 L578.5 684.4 L580.1 684.4 L581.7 684.5 L583.2 684.6 L584.8 684.7 L586.4 684.8 L588.0 685.0 L589.6 685.2 L591.1 685.4 L592.7 685.7 L594.3 686.0 L595.8 686.3 L597.4 686.7 L598.9 687.1 L600.5 687.5 L602.0 688.0 L603.6 688.5 L605.1 689.0 L606.6 689.5 L608.1 690.1 L609.6 690.6 L611.1 691.2 L612.6 691.9 L614.1 692.5 L615.6 693.2 L617.0 693.8 L618.5 694.5 L619.9 695.2 L621.4 695.9 L622.8 696.7 L624.2 697.4 L625.7 698.1 L627.1 698.9 L628.5 699.7 L629.9 700.4 L631.2 701.2 L632.6 702.0" stroke="#00ff00" stroke-width="0.5" stroke-dasharray="4.3 4.05"/>
<path d="M391.5 635.5 L392.5 636.8 L393.6 638.1 L394.6 639.4 L395.7 640.6 L396.8 641.8 L398.0 642.9 L399.1 644.1 L400.3 645.2 L401.5 646.2 L402.7 647.3 L403.9 648.3 L405.2 649.3 L406.5 650.2 L407.8 651.1 L409.1 652.1 L410.4 652.9 L411.7 653.8 L413.1 654.6 L414.4 655.4 L415.8 656.2 L417.2 656.9 L418.6 657.7 L420.0 658.4 L421.4 659.1 L422.9 659.7 L424.3 660.4 L425.8 661.0 L427.3 661.6 L428.7 662.2 L430.2 662.8 L431.7 663.4 L433.2 663.9 L434.7 664.4 L436.2 664.9 L437.8 665.4 L439.3 665.9 L440.8 666.4 L442.4 666.8 L443.9 667.3 L445.4 667.7 L447.0 668.1 L448.5 668.5 L450.1 668.8 L451.7 669.2 L453.2 669.5 L454.8 669.9 L456.4 670.2 L457.9 670.4 L459.5 670.7 L461.1 671.0 L462.7 671.2 L464.3 671.4 L465.9 671.6 L467.5 671.8 L469.1 671.9 L470.7 672.1 L472.3 672.2 L473.9 672.3 L475.5 672.3 L477.1 672.4 L478.7 672.4 L480.3 672.4 L481.9 672.3 L483.5 672.2 L485.1 672.1 L486.7 672.0 L488.3 671.8 L489.9 671.6 L491.5 671.4 L493.1 671.2 L494.7 671.0 L496.3 670.7 L497.9 670.5 L499.6 670.3 L501.2 670.1 L502.8 669.9 L504.4 669.7 L506.0 669.5 L507.6 669.3 L509.2 669.1 L510.8 668.9 L512.3 668.7 L513.9 668.5 L515.5 668.3 L517.1 668.1 L518.7 667.9 L520.3 667.7 L521.9 667.5 L523.5 667.2 L525.1 667.0 L526.7 666.8 L528.3 666.5 L529.8 666.3 L531.4 666.0 L533.0 665.8 L534.6 665.5 L536.2 665.3 L537.8 665.0 L539.3 664.7 L540.9 664.5 L542.5 664.2 L544.1 663.9 L545.7 663.7 L547.2 663.4 L548.8 663.1 L550.4 662.8 L552.0 662.6 L553.6 662.3 L555.1 662.0 L556.7 661.8 L558.3 661.5 L559.9 661.2 L561.4 660.9 L563.0 660.7 L564.6 660.4 L566.2 660.1 L567.7 659.9 L569.3 659.6 L570.9 659.4 L572.4 659.1 L574.0 658.8 L575.6 658.6 L577.2 658.3 L578.7 658.1 L580.3 657.8 L581.9 657.5 L583.4 657.3 L585.0 657.0 L586.6 656.7 L588.1 656.4 L589.7 656.2 L591.3 655.9 L592.9 655.6 L594.4 655.3 L596.0 654.9 L597.6 654.6 L599.1 654.3 L600.7 654.0 L602.2 653.6 L603.8 653.3 L605.4 652.9 L606.9 652.5 L608.5 652.1 L610.0 651.7 L611.6 651.3 L613.1 650.9 L614.7 650.4 L616.2 650.0 L617.7 649.5 L619.3 649.0 L620.8 648.5 L622.3 648.0 L623.8 647.4 L625.3 646.9 L626.8 646.3 L628.3 645.7 L629.8 645.1 L631.3 644.4 L632.8 643.8 L634.3 643.1 L635.8 642.4 L637.2 641.7 L638.7 641.0 L640.2 640.3 L641.6 639.6 L643.0 638.9 L644.5 638.2 L645.9 637.4 L647.3 636.7 L648.7 636.0 L650.1 635.2 L651.5 634.5" stroke="#0000ff" stroke-width="0.5" stroke-dasharray="1.3 2.9"/>
<path d="M423.6 659.6 L425.2 659.6 L426.8 659.5 L428.4 659.5 L430.0 659.4 L431.6 659.3 L433.2 659.2 L434.8 659.0 L436.4 658.9 L438.0 658.7 L439.6 658.6 L441.2 658.4 L442.8 658.2 L444.4 658.0 L446.0 657.8 L447.5 657.5 L449.1 657.3 L450.7 657.0 L452.3 656.8 L453.9 656.5 L455.5 656.3 L457.0 656.0 L458.6 655.7 L460.2 655.4 L461.8 655.1 L463.3 654.8 L464.9 654.5 L466.5 654.2 L468.1 653.9 L469.6 653.6 L471.2 653.3 L472.8 653.0 L474.4 652.7 L475.9 652.4 L477.5 652.1 L479.1 651.7 L480.7 651.4 L482.2 651.1 L483.8 650.8 L485.4 650.5 L487.0 650.2 L488.5 650.0 L490.1 649.7 L491.7 649.4 L493.3 649.1 L494.8 648.9 L496.4 648.6 L498.0 648.4 L499.6 648.1 L501.1 647.9 L502.7 647.7 L504.3 647.5 L505.9 647.3 L507.5 647.1 L509.1 646.9 L510.6 646.8 L512.2 646.7 L513.8 646.5 L515.4 646.4 L517.0 646.3 L518.6 646.2 L520.2 646.2 L521.8 646.1 L523.4 646.1 L525.0 646.1 L526.6 646.1 L528.2 646.1 L529.8 646.1 L531.4 646.2 L533.0 646.2 L534.6 646.3 L536.2 646.4 L537.8 646.4 L539.4 646.5 L541.1 646.6 L542.7 646.8 L544.3 646.9 L545.9 647.0 L547.5 647.1 L549.1 647.3 L550.7 647.4 L552.3 647.5 L554.0 647.7 L555.6 647.8 L557.2 648.0 L558.8 648.1 L560.4 648.3 L562.0 648.4 L563.7 648.6 L565.3 648.7 L566.9 648.8 L568.5 649.0 L570.1 649.1 L571.7 649.2 L573.3 649.4 L574.9 649.5 L576.6 649.6 L578.2 649.7 L579.8 649.8 L581.4 649.9 L583.0 650.0 L584.6 650.1 L586.2 650.2 L587.8 650.2 L589.4 650.3 L591.0 650.3 L592.6 650.4 L594.2 650.4 L595.8 650.4 L597.4 650.4 L599.0 650.4 L600.6 650.4 L602.2 650.3 L603.7 650.3 L605.3 650.2 L606.9 650.1 L608.5 650.0 L610.1 649.8 L611.6 649.7 L613.2 649.5 L614.8 649.3 L616.3 649.1 L617.9 648.9 L619.4 648.6 L621.0 648.3 L622.5 648.0 L624.0 647.6 L625.6 647.3 L627.1 646.8 L628.6 646.4 L630.1 645.9 L631.6 645.4 L633.1 644.9 L634.6 644.3 L636.0 643.7 L637.5 643.1 L638.9 642.4 L640.4 641.7 L641.8 641.0 L643.2 640.2 L644.6 639.3 L646.0 638.4 L647.4 637.5 L648.8 636.6 L650.2 635.6 L651.5 634.5" stroke="#ff00ff" stroke-width="0.5" stroke-dasharray="4.4 5.1 1.3 5.2"/>
<path d="M391.5 634.5 L391.8 636.1 L392.0 637.8 L392.2 639.4 L392.4 641.0 L392.5 642.5 L392.5 644.1 L392.6 645.7 L392.6 647.2 L392.7 648.8 L392.7 650.4 L392.8 652.0 L392.8 653.5 L392.9 655.1 L393.0 656.7 L393.2 658.4 L393.4 660.0 L393.6 661.7 L393.9 663.3 L394.3 665.0 L394.8 666.7 L395.3 668.3 L395.9 669.9 L396.7 671.4 L397.5 672.8 L398.4 674.0 L399.5 675.1 L400.7 676.0 L402.0 676.8 L403.4 677.3 L404.8 677.7 L406.3 677.9 L407.9 677.8 L409.4 677.6 L411.0 677.3 L412.6 676.9 L414.2 676.4 L415.8 675.8 L417.3 675.3 L418.9 674.8 L420.4 674.2 L422.0 673.6 L423.5 673.1 L425.0 672.5 L426.5 671.9 L428.0 671.3 L429.5 670.8 L431.0 670.2 L432.5 669.6 L433.9 669.0 L435.4 668.4 L436.9 667.8 L438.3 667.2 L439.8 666.6 L441.3 666.0 L442.7 665.4 L444.2 664.9 L445.7 664.3 L447.2 663.7 L448.6 663.1 L450.1 662.5 L451.6 662.0 L453.1 661.4 L454.6 660.8 L456.1 660.3 L457.6 659.7 L459.2 659.2 L460.7 658.7 L462.2 658.1 L463.7 657.6 L465.3 657.1 L466.8 656.6 L468.4 656.1 L469.9 655.6 L471.5 655.2 L473.0 654.7 L474.6 654.3 L476.1 653.9 L477.7 653.5 L479.3 653.1 L480.8 652.7 L482.4 652.3 L483.9 651.9 L485.5 651.6 L487.1 651.3 L488.7 651.0 L490.2 650.7 L491.8 650.4 L493.4 650.1 L495.0 649.9 L496.5 649.7 L498.1 649.4 L499.7 649.2 L501.3 649.0 L502.9 648.8 L504.4 648.7 L506.0 648.5 L507.6 648.4 L509.2 648.3 L510.8 648.1 L512.4 648.0 L514.0 647.9 L515.6 647.9 L517.1 647.8 L518.7 647.7 L520.3 647.7 L521.9 647.6 L523.5 647.6 L525.1 647.6 L526.7 647.6 L528.3 647.6 L529.9 647.6 L531.5 647.6 L533.1 647.7 L534.7 647.7 L536.3 647.7 L537.9 647.8 L539.5 647.9 L541.1 647.9 L542.7 648.0 L544.3 648.1 L545.9 648.2 L547.5 648.3 L549.1 648.4 L550.7 648.5 L552.3 648.7 L553.9 648.8 L555.5 648.9 L557.1 649.1 L558.7 649.2 L560.3 649.4 L561.9 649.5 L563.6 649.7 L565.2 649.8 L566.8 650.0 L568.4 650.1 L570.0 650.3 L571.6 650.4 L573.2 650.5 L574.8 650.7 L576.4 650.8 L578.0 650.9 L579.6 651.0 L581.2 651.1 L582.8 651.2 L584.4 651.3 L586.0 651.4 L587.6 651.4 L589.2 651.4 L590.8 651.5 L592.4 651.5 L594.0 651.5 L595.6 651.4 L597.2 651.4 L598.8 651.3 L600.4 651.2 L602.0 651.1 L603.6 651.0 L605.2 650.9 L606.8 650.7 L608.4 650.5 L610.0 650.3 L611.6 650.1 L613.1 649.8 L614.7 649.6 L616.3 649.3 L617.8 648.9 L619.4 648.6 L621.0 648.2 L622.5 647.8 L624.0 647.4 L625.6 647.0 L627.1 646.5 L628.6 646.0 L630.1 645.5 L631.6 645.0 L633.1 644.4 L634.6 643.8 L636.1 643.2 L637.5 642.5 L639.0 641.9 L640.4 641.2 L641.9 640.4 L643.3 639.7 L644.7 638.9 L646.1 638.1 L647.4 637.2 L648.8 636.3 L650.2 635.4 L651.5 634.5" stroke="#000" stroke-width="0.62"/>
<path d="M391.5 634.5 L393.1 634.6 L394.7 634.6 L396.3 634.7 L397.9 634.8 L399.5 634.9 L401.1 635.0 L402.7 635.1 L404.3 635.2 L405.9 635.3 L407.5 635.5 L409.1 635.6 L410.7 635.7 L412.3 635.8 L413.9 636.0 L415.5 636.1 L417.1 636.3 L418.7 636.4 L420.3 636.6 L421.8 636.7 L423.4 636.9 L425.0 637.1 L426.6 637.2 L428.2 637.4 L429.8 637.6 L431.4 637.8 L433.0 638.0 L434.6 638.1 L436.2 638.3 L437.8 638.5 L439.3 638.7 L440.9 638.9 L442.5 639.1 L444.1 639.4 L445.7 639.6 L447.3 639.8 L448.9 640.0 L450.5 640.2 L452.1 640.4 L453.6 640.7 L455.2 640.9 L456.8 641.1 L458.4 641.3 L460.0 641.6 L461.6 641.8 L463.2 642.0 L464.8 642.3 L466.3 642.5 L467.9 642.7 L469.5 643.0 L471.1 643.2 L472.7 643.5 L474.3 643.7 L475.9 643.9 L477.5 644.2 L479.0 644.4 L480.6 644.7 L482.2 644.9 L483.8 645.2 L485.4 645.4 L487.0 645.7 L488.6 645.9 L490.1 646.2 L491.7 646.4 L493.3 646.6 L494.9 646.9 L496.5 647.1 L498.1 647.4 L499.7 647.6 L501.3 647.9 L502.9 648.1 L504.4 648.4 L506.0 648.6 L507.6 648.8 L509.2 649.1 L510.8 649.3 L512.4 649.5 L514.0 649.8 L515.6 650.0 L517.2 650.2 L518.8 650.5 L520.3 650.7 L521.9 650.9 L523.5 651.1 L525.1 651.4 L526.7 651.6 L528.3 651.8 L529.9 652.0 L531.5 652.2 L533.1 652.4 L534.7 652.6 L536.3 652.8 L537.9 653.0 L539.5 653.2 L541.1 653.4 L542.7 653.6 L544.3 653.8 L545.9 654.0 L547.5 654.2 L549.1 654.3 L550.7 654.5 L552.3 654.7 L553.9 654.8 L555.5 655.0 L557.1 655.2 L558.7 655.3 L560.3 655.5 L561.9 655.6 L563.5 655.7 L565.1 655.9 L566.7 656.0 L568.3 656.1 L569.9 656.2 L571.5 656.3 L573.1 656.4 L574.7 656.5 L576.3 656.5 L577.9 656.6 L579.5 656.6 L581.1 656.7 L582.7 656.7 L584.3 656.7 L585.9 656.7 L587.5 656.6 L589.1 656.6 L590.6 656.5 L592.2 656.4 L593.8 656.3 L595.4 656.2 L597.0 656.0 L598.5 655.8 L600.1 655.6 L601.7 655.4 L603.2 655.2 L604.8 654.9 L606.3 654.6 L607.9 654.3 L609.4 654.0 L611.0 653.6 L612.5 653.2 L614.0 652.8 L615.5 652.4 L617.1 651.9 L618.6 651.5 L620.1 651.0 L621.6 650.4 L623.1 649.9 L624.6 649.3 L626.1 648.7 L627.5 648.1 L629.0 647.5 L630.5 646.8 L631.9 646.1 L633.4 645.4 L634.8 644.7 L636.3 644.0 L637.7 643.2 L639.1 642.4 L640.5 641.6 L641.9 640.8 L643.3 640.0 L644.7 639.1 L646.1 638.2 L647.4 637.3 L648.8 636.4 L650.2 635.5 L651.5 634.5" stroke="#ff0000" stroke-width="1.9" stroke-dasharray="4.4 5 1.6 5"/>
<path d="M391.5 635.5 L392.0 636.9 L392.4 638.3 L392.8 639.9 L393.2 641.4 L393.6 643.0 L394.0 644.6 L394.5 646.3 L395.0 647.9 L395.5 649.5 L396.1 651.1 L396.7 652.6 L397.5 654.1 L398.3 655.6 L399.2 656.9 L400.1 658.2 L401.2 659.3 L402.3 660.3 L403.6 661.2 L404.9 662.0 L406.2 662.6 L407.7 663.1 L409.1 663.6 L410.7 663.9 L412.2 664.2 L413.8 664.4 L415.4 664.6 L417.1 664.7 L418.7 664.8 L420.3 664.9 L421.9 664.9 L423.5 664.9 L425.2 665.0 L426.8 665.1 L428.4 665.2 L430.0 665.3 L431.6 665.4 L433.2 665.7 L434.7 665.9 L436.3 666.2 L437.9 666.5 L439.5 666.8 L441.1 667.1 L442.6 667.5 L444.2 667.8 L445.8 668.2 L447.3 668.6 L448.9 669.0 L450.4 669.4 L452.0 669.8 L453.5 670.2 L455.1 670.6 L456.6 671.0 L458.2 671.4 L459.7 671.8 L461.3 672.2 L462.8 672.7 L464.4 673.2 L465.9 673.7 L467.4 674.2 L469.0 674.7 L470.5 675.3 L472.0 675.9 L473.6 676.4 L475.1 677.0 L476.7 677.6 L478.2 678.2 L479.7 678.7 L481.3 679.3 L482.8 679.8 L484.3 680.3 L485.9 680.8 L487.4 681.2 L489.0 681.6 L490.5 682.0 L492.1 682.4 L493.6 682.7 L495.2 683.1 L496.7 683.4 L498.3 683.6 L499.8 683.9 L501.4 684.1 L503.0 684.3 L504.5 684.5 L506.1 684.7 L507.7 684.8 L509.2 684.9 L510.8 685.0 L512.4 685.1 L514.0 685.1 L515.5 685.2 L517.1 685.2 L518.7 685.2 L520.3 685.1 L521.9 685.1 L523.5 685.0 L525.1 685.0 L526.7 684.9 L528.3 684.8 L529.9 684.6 L531.5 684.5 L533.0 684.3 L534.6 684.2 L536.2 684.0 L537.8 683.8 L539.4 683.6 L541.0 683.4 L542.6 683.1 L544.2 682.9 L545.8 682.6 L547.4 682.4 L549.0 682.1 L550.6 681.8 L552.2 681.5 L553.8 681.2 L555.4 680.9 L557.0 680.6 L558.6 680.3 L560.2 680.0 L561.8 679.7 L563.3 679.3 L564.9 679.0 L566.5 678.6 L568.1 678.3 L569.7 677.9 L571.2 677.5 L572.8 677.1 L574.4 676.8 L576.0 676.4 L577.5 676.0 L579.1 675.6 L580.6 675.1 L582.2 674.7 L583.7 674.3 L585.3 673.8 L586.8 673.4 L588.4 672.9 L589.9 672.5 L591.4 672.0 L593.0 671.5 L594.5 671.0 L596.0 670.5 L597.5 670.0 L599.0 669.5 L600.5 668.9 L602.0 668.4 L603.5 667.8 L605.0 667.2 L606.5 666.6 L608.0 666.0 L609.4 665.4 L610.9 664.8 L612.4 664.1 L613.8 663.5 L615.2 662.8 L616.7 662.1 L618.1 661.4 L619.5 660.6 L620.9 659.9 L622.3 659.1 L623.7 658.3 L625.0 657.5 L626.4 656.6 L627.7 655.8 L629.1 654.9 L630.4 654.0 L631.7 653.1 L633.0 652.1 L634.3 651.1 L635.5 650.1 L636.8 649.1 L638.0 648.1 L639.3 647.0 L640.5 645.9 L641.7 644.8 L642.9 643.7 L644.1 642.5 L645.2 641.4 L646.3 640.2 L647.5 639.1 L648.6 637.9 L649.7 636.8 L650.7 635.6 L651.8 634.5" stroke="#0000ff" stroke-width="1.9" stroke-dasharray="4.4 3.95"/>
<path d="M391.5 634.5 L393.0 635.1 L394.4 635.7 L395.8 636.3 L397.3 636.9 L398.7 637.6 L400.2 638.2 L401.6 638.9 L403.1 639.6 L404.5 640.2 L406.0 640.9 L407.4 641.6 L408.8 642.3 L410.3 643.0 L411.7 643.7 L413.2 644.4 L414.6 645.1 L416.1 645.8 L417.5 646.5 L419.0 647.3 L420.4 648.0 L421.8 648.7 L423.3 649.4 L424.7 650.2 L426.2 650.9 L427.6 651.6 L429.1 652.4 L430.5 653.1 L432.0 653.8 L433.4 654.6 L434.9 655.3 L436.3 656.0 L437.8 656.7 L439.3 657.5 L440.7 658.2 L442.2 658.9 L443.6 659.6 L445.1 660.3 L446.5 661.0 L448.0 661.7 L449.5 662.4 L450.9 663.1 L452.4 663.7 L453.9 664.4 L455.3 665.0 L456.8 665.7 L458.3 666.3 L459.8 667.0 L461.2 667.6 L462.7 668.2 L464.2 668.8 L465.7 669.4 L467.2 670.0 L468.6 670.6 L470.1 671.1 L471.6 671.7 L473.1 672.2 L474.6 672.8 L476.1 673.3 L477.6 673.9 L479.1 674.4 L480.6 674.9 L482.1 675.4 L483.6 675.9 L485.1 676.4 L486.6 676.9 L488.1 677.4 L489.7 677.9 L491.2 678.3 L492.7 678.8 L494.2 679.2 L495.8 679.7 L497.3 680.1 L498.8 680.5 L500.3 681.0 L501.9 681.4 L503.4 681.8 L505.0 682.2 L506.5 682.6 L508.1 683.0 L509.6 683.3 L511.2 683.7 L512.7 684.1 L514.3 684.4 L515.9 684.8 L517.4 685.1 L519.0 685.5 L520.6 685.8 L522.2 686.1 L523.8 686.5 L525.3 686.8 L526.9 687.1 L528.5 687.4 L530.1 687.7 L531.7 687.9 L533.3 688.2 L534.9 688.5 L536.5 688.7 L538.1 689.0 L539.7 689.2 L541.3 689.4 L542.9 689.7 L544.6 689.9 L546.2 690.1 L547.8 690.2 L549.4 690.4 L551.0 690.6 L552.6 690.7 L554.2 690.8 L555.8 691.0 L557.4 691.1 L559.1 691.2 L560.7 691.2 L562.3 691.3 L563.9 691.4 L565.5 691.4 L567.1 691.4 L568.7 691.4 L570.3 691.4 L571.9 691.3 L573.5 691.3 L575.0 691.2 L576.6 691.1 L578.2 691.0 L579.8 690.8 L581.4 690.7 L582.9 690.5 L584.5 690.2 L586.1 690.0 L587.6 689.7 L589.2 689.4 L590.7 689.1 L592.3 688.7 L593.8 688.3 L595.4 687.9 L596.9 687.4 L598.4 686.9 L599.9 686.4 L601.4 685.8 L602.9 685.2 L604.4 684.6 L605.9 684.0 L607.4 683.3 L608.8 682.6 L610.3 681.9 L611.7 681.1 L613.1 680.3 L614.5 679.5 L615.9 678.6 L617.3 677.8 L618.6 676.9 L619.9 676.0 L621.3 675.0 L622.5 674.0 L623.8 673.0 L625.1 672.0 L626.3 671.0 L627.5 669.9 L628.6 668.8 L629.8 667.7 L630.9 666.6 L632.0 665.5 L633.1 664.3 L634.1 663.1 L635.1 661.9 L636.1 660.7 L637.1 659.4 L638.1 658.2 L639.0 656.9 L639.9 655.6 L640.8 654.3 L641.7 653.0 L642.6 651.6 L643.4 650.3 L644.2 648.9 L645.0 647.5 L645.8 646.1 L646.6 644.7 L647.4 643.3 L648.1 641.8 L648.9 640.4 L649.6 638.9 L650.4 637.5 L651.1 636.0 L651.8 634.5" stroke="#ff0000" stroke-width="1.9"/>
</g>
<rect x="391.10" y="592.10" width="261.00" height="169.00" stroke="#000" stroke-width="2" fill="none"/>
<g stroke="#000">
<path d="M423.6 622.6 V634.8" stroke-width="1.55"/>
<circle cx="423.6" cy="629.2" r="3.5" fill="#fff" stroke-width="1.8"/>
<circle cx="449.9" cy="636.3" r="3.5" fill="#fff" stroke-width="1.8"/>
<circle cx="476.2" cy="625.6" r="3.5" fill="#fff" stroke-width="1.8"/>
<circle cx="502.2" cy="632.5" r="3.5" fill="#fff" stroke-width="1.8"/>
<circle cx="528.2" cy="638.6" r="3.5" fill="#fff" stroke-width="1.8"/>
<circle cx="554.3" cy="631.0" r="3.5" fill="#fff" stroke-width="1.8"/>
<circle cx="580.6" cy="639.7" r="3.5" fill="#fff" stroke-width="1.8"/>
<circle cx="606.6" cy="635.9" r="3.5" fill="#fff" stroke-width="1.8"/>
<circle cx="632.6" cy="631.0" r="3.5" fill="#fff" stroke-width="1.8"/>
</g>
<path d="M424.50 727.41 L427.49 738.75 M430.49 727.41 L427.49 738.75 M430.49 727.41 L433.48 738.75 M436.47 727.41 L433.48 738.75 M439.72 732.27 L449.41 732.27 M439.72 735.78 L449.41 735.78 M455.28 729.57 L456.42 729.03 L458.13 727.41 L458.13 738.75 M466.11 737.67 L465.54 738.21 L466.11 738.75 L466.68 738.21 L466.11 737.67 M472.95 727.41 L471.24 727.95 L470.67 729.03 L470.67 730.11 L471.24 731.19 L472.38 731.73 L474.66 732.27 L476.37 732.81 L477.51 733.89 L478.08 734.97 L478.08 736.59 L477.51 737.67 L476.94 738.21 L475.23 738.75 L472.95 738.75 L471.24 738.21 L470.67 737.67 L470.10 736.59 L470.10 734.97 L470.67 733.89 L471.81 732.81 L473.52 732.27 L475.80 731.73 L476.94 731.19 L477.51 730.11 L477.51 729.03 L476.94 727.95 L475.23 727.41 L472.95 727.41 M484.35 727.41 L482.64 727.95 L482.07 729.03 L482.07 730.11 L482.64 731.19 L483.78 731.73 L486.06 732.27 L487.77 732.81 L488.91 733.89 L489.48 734.97 L489.48 736.59 L488.91 737.67 L488.34 738.21 L486.63 738.75 L484.35 738.75 L482.64 738.21 L482.07 737.67 L481.50 736.59 L481.50 734.97 L482.07 733.89 L483.21 732.81 L484.92 732.27 L487.20 731.73 L488.34 731.19 L488.91 730.11 L488.91 729.03 L488.34 727.95 L486.63 727.41 L484.35 727.41 M500.31 731.19 L499.74 732.81 L498.60 733.89 L496.89 734.43 L496.32 734.43 L494.61 733.89 L493.47 732.81 L492.90 731.19 L492.90 730.65 L493.47 729.03 L494.61 727.95 L496.32 727.41 L496.89 727.41 L498.60 727.95 L499.74 729.03 L500.31 731.19 L500.31 733.89 L499.74 736.59 L498.60 738.21 L496.89 738.75 L495.75 738.75 L494.04 738.21 L493.47 737.13 M518.09 730.11 L517.52 729.03 L516.38 727.95 L515.24 727.41 L512.96 727.41 L511.82 727.95 L510.68 729.03 L510.11 730.11 L509.54 731.73 L509.54 734.43 L510.11 736.05 L510.68 737.13 L511.82 738.21 L512.96 738.75 L515.24 738.75 L516.38 738.21 L517.52 737.13 L518.09 736.05 L518.09 734.43 M515.24 734.43 L518.09 734.43 M521.51 734.43 L528.35 734.43 L528.35 733.35 L527.78 732.27 L527.21 731.73 L526.07 731.19 L524.36 731.19 L523.22 731.73 L522.08 732.81 L521.51 734.43 L521.51 735.51 L522.08 737.13 L523.22 738.21 L524.36 738.75 L526.07 738.75 L527.21 738.21 L528.35 737.13 M530.63 727.41 L535.19 738.75 M539.75 727.41 L535.19 738.75" fill="none" stroke="#111" stroke-width="1.18" stroke-linecap="round" stroke-linejoin="round"/>
<path d="M729.35 592.10 v12 M729.35 761.10 v-12 M664.10 634.60 h12 M925.10 634.60 h-12 M794.60 592.10 v12 M794.60 761.10 v-12 M664.10 676.70 h12 M925.10 676.70 h-12 M859.85 592.10 v12 M859.85 761.10 v-12 M664.10 719.20 h12 M925.10 719.20 h-12 " stroke="#000" stroke-width="2" fill="none"/>
<g clip-path="url(#c12)" fill="none" stroke-linecap="butt" stroke-linejoin="round">
<path d="M676.10 634.60 H913.10" stroke="#1a1a1a" stroke-width="0.58" stroke-dasharray="1.45 2.73"/>
<path d="M676.10 676.70 H913.10" stroke="#444" stroke-width="0.75"/>
<path d="M676.10 719.20 H913.10" stroke="#1a1a1a" stroke-width="0.58" stroke-dasharray="1.45 2.73"/>
<path d="M696.6 656.2 L698.1 655.5 L699.6 654.7 L701.1 654.0 L702.6 653.2 L704.1 652.5 L705.6 651.8 L707.1 651.2 L708.6 650.5 L710.1 649.9 L711.7 649.4 L713.2 648.9 L714.7 648.5 L716.2 648.2 L717.7 647.9 L719.3 647.7 L720.8 647.6 L722.3 647.6 L723.8 647.8 L725.4 648.0 L726.9 648.2 L728.4 648.6 L729.9 649.0 L731.5 649.5 L733.0 650.0 L734.5 650.5 L736.0 651.1 L737.6 651.6 L739.1 652.1 L740.6 652.7 L742.1 653.2 L743.7 653.8 L745.2 654.3 L746.7 654.9 L748.2 655.5 L749.7 656.0 L751.3 656.6 L752.8 657.1 L754.3 657.7 L755.8 658.2 L757.3 658.8 L758.9 659.3 L760.4 659.9 L761.9 660.4 L763.4 661.0 L765.0 661.5 L766.5 662.0 L768.0 662.6 L769.6 663.1 L771.1 663.6 L772.6 664.1 L774.1 664.6 L775.7 665.1 L777.2 665.6 L778.7 666.1 L780.3 666.6 L781.8 667.1 L783.4 667.6 L784.9 668.0 L786.4 668.5 L788.0 669.0 L789.5 669.4 L791.1 669.8 L792.6 670.3 L794.2 670.7 L795.7 671.1 L797.3 671.5 L798.8 671.9 L800.4 672.3 L801.9 672.7 L803.5 673.1 L805.1 673.5 L806.6 673.8 L808.2 674.2 L809.7 674.5 L811.3 674.9 L812.9 675.2 L814.4 675.6 L816.0 675.9 L817.6 676.2 L819.1 676.5 L820.7 676.8 L822.3 677.1 L823.9 677.4 L825.4 677.6 L827.0 677.9 L828.6 678.2 L830.2 678.4 L831.7 678.6 L833.3 678.9 L834.9 679.1 L836.5 679.3 L838.1 679.5 L839.7 679.7 L841.3 679.9 L842.8 680.1 L844.4 680.3 L846.0 680.5 L847.6 680.7 L849.2 680.9 L850.8 681.1 L852.4 681.3 L854.0 681.5 L855.6 681.8 L857.2 682.0 L858.8 682.3 L860.4 682.7 L862.0 683.0" stroke="#00ff00" stroke-width="0.5" stroke-dasharray="4.3 4.05"/>
<path d="M664.5 635.5 L665.5 636.7 L666.5 637.9 L667.5 639.1 L668.5 640.3 L669.6 641.5 L670.6 642.7 L671.7 643.9 L672.8 645.1 L674.0 646.2 L675.1 647.4 L676.2 648.6 L677.4 649.7 L678.6 650.8 L679.8 651.9 L681.0 653.0 L682.3 654.1 L683.5 655.2 L684.8 656.2 L686.1 657.2 L687.4 658.2 L688.7 659.1 L690.0 660.1 L691.3 661.0 L692.7 661.8 L694.1 662.7 L695.4 663.5 L696.8 664.3 L698.2 665.0 L699.7 665.8 L701.1 666.4 L702.5 667.1 L704.0 667.7 L705.4 668.4 L706.9 668.9 L708.4 669.5 L709.9 670.0 L711.4 670.5 L712.9 671.0 L714.4 671.4 L715.9 671.9 L717.5 672.3 L719.0 672.6 L720.6 673.0 L722.1 673.3 L723.7 673.7 L725.3 673.9 L726.8 674.2 L728.4 674.5 L730.0 674.7 L731.6 674.9 L733.2 675.1 L734.8 675.3 L736.4 675.4 L738.0 675.6 L739.6 675.7 L741.2 675.8 L742.8 675.9 L744.4 676.0 L746.0 676.1 L747.6 676.1 L749.2 676.1 L750.8 676.2 L752.4 676.2 L754.0 676.2 L755.6 676.2 L757.2 676.2 L758.8 676.1 L760.4 676.1 L762.0 676.0 L763.6 675.9 L765.2 675.9 L766.8 675.8 L768.5 675.7 L770.1 675.6 L771.7 675.5 L773.3 675.3 L774.9 675.2 L776.5 675.1 L778.0 674.9 L779.6 674.7 L781.2 674.6 L782.8 674.4 L784.4 674.2 L786.0 674.0 L787.6 673.8 L789.2 673.6 L790.8 673.4 L792.4 673.2 L794.0 673.0 L795.6 672.8 L797.2 672.5 L798.8 672.3 L800.4 672.0 L802.0 671.8 L803.5 671.6 L805.1 671.3 L806.7 671.0 L808.3 670.8 L809.9 670.5 L811.5 670.2 L813.1 670.0 L814.7 669.7 L816.2 669.4 L817.8 669.1 L819.4 668.9 L821.0 668.6 L822.6 668.3 L824.2 668.0 L825.7 667.7 L827.3 667.4 L828.9 667.1 L830.5 666.9 L832.1 666.6 L833.7 666.3 L835.2 666.0 L836.8 665.7 L838.4 665.4 L840.0 665.2 L841.5 664.9 L843.1 664.6 L844.7 664.3 L846.3 664.0 L847.8 663.8 L849.4 663.5 L851.0 663.2 L852.6 663.0 L854.1 662.7 L855.7 662.5 L857.3 662.2 L858.9 662.0 L860.4 661.7 L862.0 661.5" stroke="#0000ff" stroke-width="0.5" stroke-dasharray="1.3 2.9"/>
<path d="M702.2 670.0 L703.8 669.8 L705.3 669.5 L706.9 669.3 L708.4 669.0 L710.0 668.7 L711.5 668.3 L713.1 668.0 L714.6 667.6 L716.1 667.2 L717.7 666.9 L719.2 666.4 L720.8 666.0 L722.3 665.6 L723.8 665.1 L725.4 664.7 L726.9 664.2 L728.4 663.7 L730.0 663.2 L731.5 662.7 L733.1 662.2 L734.6 661.7 L736.1 661.2 L737.7 660.6 L739.2 660.1 L740.7 659.6 L742.3 659.0 L743.8 658.5 L745.3 658.0 L746.9 657.5 L748.4 656.9 L749.9 656.4 L751.5 655.9 L753.0 655.4 L754.5 654.8 L756.1 654.3 L757.6 653.8 L759.2 653.3 L760.7 652.9 L762.2 652.4 L763.8 651.9 L765.3 651.5 L766.9 651.0 L768.4 650.6 L770.0 650.2 L771.5 649.8 L773.1 649.4 L774.6 649.0 L776.2 648.7 L777.7 648.4 L779.3 648.1 L780.9 647.8 L782.4 647.5 L784.0 647.3 L785.6 647.0 L787.1 646.8 L788.7 646.6 L790.3 646.4 L791.9 646.3 L793.4 646.1 L795.0 646.0 L796.6 645.9 L798.2 645.8 L799.8 645.7 L801.3 645.7 L802.9 645.6 L804.5 645.6 L806.1 645.6 L807.7 645.6 L809.3 645.6 L810.9 645.6 L812.5 645.6 L814.1 645.7 L815.6 645.7 L817.2 645.8 L818.8 645.9 L820.4 646.0 L822.0 646.1 L823.6 646.2 L825.2 646.3 L826.8 646.5 L828.4 646.6 L830.0 646.8 L831.6 646.9 L833.2 647.1 L834.8 647.3 L836.4 647.4 L838.0 647.6 L839.6 647.8 L841.2 648.0 L842.8 648.2 L844.4 648.4 L846.0 648.6 L847.6 648.9 L849.2 649.1 L850.8 649.3 L852.4 649.6 L854.0 649.8 L855.6 650.0 L857.2 650.3 L858.8 650.5 L860.4 650.8 L862.0 651.0" stroke="#ff00ff" stroke-width="0.5" stroke-dasharray="4.4 5.1 1.3 5.2"/>
<path d="M664.5 634.5 L664.9 636.0 L665.2 637.5 L665.6 639.1 L665.9 640.6 L666.3 642.2 L666.7 643.8 L667.1 645.4 L667.5 646.9 L667.9 648.5 L668.4 650.1 L668.8 651.7 L669.4 653.2 L669.9 654.8 L670.5 656.3 L671.1 657.8 L671.7 659.3 L672.4 660.8 L673.1 662.2 L673.9 663.6 L674.8 665.0 L675.7 666.3 L676.6 667.6 L677.6 668.9 L678.7 670.0 L679.8 671.2 L681.0 672.3 L682.3 673.3 L683.6 674.3 L685.0 675.2 L686.4 676.1 L687.8 676.8 L689.3 677.5 L690.8 678.2 L692.3 678.7 L693.8 679.2 L695.4 679.6 L697.0 679.9 L698.5 680.1 L700.1 680.2 L701.6 680.2 L703.2 680.1 L704.7 680.0 L706.2 679.8 L707.8 679.5 L709.3 679.1 L710.8 678.7 L712.3 678.2 L713.8 677.7 L715.3 677.2 L716.8 676.6 L718.3 676.0 L719.8 675.4 L721.3 674.7 L722.8 674.0 L724.3 673.4 L725.8 672.7 L727.3 672.0 L728.7 671.3 L730.2 670.7 L731.7 670.0 L733.2 669.3 L734.7 668.7 L736.2 668.0 L737.7 667.3 L739.1 666.7 L740.6 666.0 L742.1 665.4 L743.6 664.7 L745.1 664.1 L746.6 663.5 L748.1 662.9 L749.6 662.3 L751.1 661.7 L752.6 661.1 L754.2 660.5 L755.7 660.0 L757.2 659.5 L758.7 658.9 L760.3 658.4 L761.8 657.9 L763.3 657.4 L764.9 657.0 L766.4 656.5 L768.0 656.1 L769.5 655.6 L771.1 655.2 L772.6 654.8 L774.2 654.4 L775.8 654.1 L777.3 653.7 L778.9 653.4 L780.5 653.0 L782.0 652.7 L783.6 652.4 L785.2 652.1 L786.7 651.9 L788.3 651.6 L789.9 651.4 L791.5 651.2 L793.1 651.0 L794.7 650.8 L796.3 650.6 L797.8 650.5 L799.4 650.3 L801.0 650.2 L802.6 650.1 L804.2 650.0 L805.8 650.0 L807.4 649.9 L809.0 649.9 L810.6 649.9 L812.2 649.9 L813.8 649.9 L815.4 650.0 L817.0 650.0 L818.6 650.1 L820.3 650.2 L821.9 650.3 L823.5 650.4 L825.1 650.5 L826.7 650.7 L828.3 650.8 L829.9 650.9 L831.5 651.1 L833.1 651.3 L834.7 651.4 L836.3 651.6 L837.9 651.8 L839.6 652.0 L841.2 652.1 L842.8 652.3 L844.4 652.5 L846.0 652.6 L847.6 652.8 L849.2 653.0 L850.8 653.1 L852.4 653.3 L854.0 653.4 L855.6 653.6 L857.2 653.7 L858.8 653.8 L860.4 653.9 L862.0 654.0" stroke="#000" stroke-width="0.62"/>
<path d="M664.5 634.5 L666.1 634.6 L667.7 634.7 L669.3 634.9 L670.9 635.0 L672.5 635.1 L674.1 635.3 L675.7 635.4 L677.3 635.5 L678.9 635.7 L680.5 635.8 L682.2 636.0 L683.8 636.1 L685.4 636.3 L687.0 636.4 L688.6 636.6 L690.2 636.7 L691.8 636.9 L693.4 637.0 L695.0 637.2 L696.6 637.4 L698.2 637.5 L699.7 637.7 L701.3 637.9 L702.9 638.1 L704.5 638.2 L706.1 638.4 L707.7 638.6 L709.3 638.8 L710.9 639.0 L712.5 639.1 L714.1 639.3 L715.7 639.5 L717.3 639.7 L718.9 639.9 L720.5 640.1 L722.1 640.3 L723.7 640.5 L725.3 640.7 L726.9 640.9 L728.5 641.1 L730.0 641.3 L731.6 641.5 L733.2 641.8 L734.8 642.0 L736.4 642.2 L738.0 642.4 L739.6 642.6 L741.2 642.8 L742.8 643.1 L744.4 643.3 L746.0 643.5 L747.5 643.7 L749.1 644.0 L750.7 644.2 L752.3 644.4 L753.9 644.7 L755.5 644.9 L757.1 645.1 L758.7 645.4 L760.3 645.6 L761.9 645.8 L763.4 646.1 L765.0 646.3 L766.6 646.6 L768.2 646.8 L769.8 647.1 L771.4 647.3 L773.0 647.6 L774.6 647.8 L776.1 648.1 L777.7 648.3 L779.3 648.6 L780.9 648.8 L782.5 649.1 L784.1 649.4 L785.7 649.6 L787.3 649.9 L788.9 650.1 L790.4 650.4 L792.0 650.7 L793.6 650.9 L795.2 651.2 L796.8 651.4 L798.4 651.7 L800.0 652.0 L801.6 652.2 L803.1 652.5 L804.7 652.7 L806.3 653.0 L807.9 653.3 L809.5 653.5 L811.1 653.8 L812.7 654.0 L814.3 654.3 L815.8 654.5 L817.4 654.8 L819.0 655.0 L820.6 655.3 L822.2 655.5 L823.8 655.8 L825.4 656.0 L827.0 656.2 L828.6 656.5 L830.2 656.7 L831.7 657.0 L833.3 657.2 L834.9 657.4 L836.5 657.6 L838.1 657.9 L839.7 658.1 L841.3 658.3 L842.9 658.5 L844.5 658.7 L846.1 658.9 L847.7 659.2 L849.3 659.4 L850.8 659.6 L852.4 659.8 L854.0 660.0 L855.6 660.2 L857.2 660.4 L858.8 660.6 L860.4 660.8 L862.0 661.0" stroke="#ff0000" stroke-width="1.9" stroke-dasharray="4.4 5 1.6 5"/>
<path d="M664.5 635.5 L664.8 636.9 L665.4 638.3 L666.2 639.8 L667.1 641.3 L668.0 642.8 L668.8 644.3 L669.5 645.9 L670.1 647.4 L670.6 648.9 L671.1 650.4 L671.6 651.9 L672.2 653.3 L672.9 654.7 L673.6 656.0 L674.5 657.3 L675.5 658.5 L676.6 659.7 L677.8 660.8 L679.1 661.8 L680.4 662.8 L681.8 663.8 L683.2 664.6 L684.7 665.4 L686.2 666.2 L687.7 666.9 L689.2 667.5 L690.7 668.0 L692.2 668.6 L693.7 669.0 L695.2 669.4 L696.7 669.8 L698.3 670.2 L699.8 670.5 L701.3 670.8 L702.9 671.1 L704.4 671.4 L705.9 671.6 L707.5 671.9 L709.0 672.2 L710.6 672.5 L712.1 672.9 L713.7 673.2 L715.2 673.6 L716.8 673.9 L718.3 674.3 L719.9 674.7 L721.5 675.1 L723.0 675.5 L724.6 675.9 L726.2 676.4 L727.7 676.8 L729.3 677.2 L730.9 677.7 L732.4 678.1 L734.0 678.6 L735.6 679.0 L737.1 679.5 L738.7 679.9 L740.3 680.4 L741.9 680.8 L743.4 681.2 L745.0 681.7 L746.6 682.1 L748.2 682.5 L749.7 682.9 L751.3 683.3 L752.9 683.7 L754.5 684.1 L756.0 684.4 L757.6 684.8 L759.2 685.1 L760.8 685.4 L762.4 685.7 L763.9 686.0 L765.5 686.3 L767.1 686.5 L768.7 686.8 L770.3 687.0 L771.8 687.1 L773.4 687.3 L775.0 687.4 L776.6 687.5 L778.2 687.6 L779.8 687.7 L781.3 687.7 L782.9 687.7 L784.5 687.7 L786.1 687.7 L787.7 687.6 L789.3 687.6 L790.8 687.5 L792.4 687.4 L794.0 687.3 L795.6 687.1 L797.2 687.0 L798.8 686.8 L800.4 686.6 L801.9 686.4 L803.5 686.2 L805.1 685.9 L806.7 685.7 L808.3 685.4 L809.9 685.2 L811.4 684.9 L813.0 684.6 L814.6 684.3 L816.2 684.0 L817.8 683.7 L819.4 683.4 L820.9 683.0 L822.5 682.7 L824.1 682.4 L825.7 682.1 L827.3 681.7 L828.9 681.4 L830.4 681.1 L832.0 680.8 L833.6 680.4 L835.2 680.1 L836.8 679.8 L838.3 679.5 L839.9 679.2 L841.5 678.9 L843.1 678.6 L844.7 678.4 L846.2 678.1 L847.8 677.8 L849.4 677.5 L851.0 677.2 L852.6 676.9 L854.1 676.6 L855.7 676.3 L857.3 676.0 L858.9 675.7 L860.4 675.4 L862.0 675.0" stroke="#0000ff" stroke-width="1.9" stroke-dasharray="4.4 3.95"/>
<path d="M664.5 634.5 L665.9 635.3 L667.3 636.1 L668.6 636.9 L670.0 637.7 L671.4 638.5 L672.8 639.3 L674.2 640.1 L675.5 640.9 L676.9 641.7 L678.3 642.5 L679.7 643.3 L681.1 644.1 L682.5 644.9 L683.9 645.6 L685.3 646.4 L686.7 647.2 L688.1 647.9 L689.5 648.7 L690.9 649.5 L692.3 650.2 L693.7 651.0 L695.2 651.7 L696.6 652.5 L698.0 653.2 L699.4 653.9 L700.8 654.7 L702.3 655.4 L703.7 656.1 L705.1 656.9 L706.5 657.6 L708.0 658.3 L709.4 659.0 L710.8 659.7 L712.3 660.4 L713.7 661.2 L715.1 661.9 L716.6 662.6 L718.0 663.2 L719.5 663.9 L720.9 664.6 L722.4 665.3 L723.8 666.0 L725.3 666.7 L726.7 667.3 L728.2 668.0 L729.6 668.7 L731.1 669.3 L732.5 670.0 L734.0 670.6 L735.5 671.3 L736.9 671.9 L738.4 672.6 L739.9 673.2 L741.3 673.9 L742.8 674.5 L744.3 675.1 L745.8 675.8 L747.2 676.4 L748.7 677.0 L750.2 677.6 L751.7 678.2 L753.2 678.8 L754.7 679.4 L756.2 680.0 L757.6 680.6 L759.1 681.2 L760.6 681.8 L762.1 682.4 L763.6 682.9 L765.1 683.5 L766.6 684.1 L768.1 684.6 L769.7 685.2 L771.2 685.8 L772.7 686.3 L774.2 686.8 L775.7 687.4 L777.2 687.9 L778.7 688.4 L780.3 688.9 L781.8 689.4 L783.3 689.9 L784.8 690.4 L786.4 690.9 L787.9 691.4 L789.4 691.8 L791.0 692.3 L792.5 692.7 L794.0 693.1 L795.6 693.6 L797.1 694.0 L798.7 694.4 L800.2 694.8 L801.7 695.1 L803.3 695.5 L804.8 695.9 L806.4 696.2 L808.0 696.5 L809.5 696.9 L811.1 697.2 L812.6 697.5 L814.2 697.7 L815.8 698.0 L817.3 698.3 L818.9 698.5 L820.5 698.7 L822.0 698.9 L823.6 699.1 L825.2 699.3 L826.8 699.5 L828.4 699.6 L829.9 699.7 L831.5 699.8 L833.1 699.9 L834.7 700.0 L836.3 700.1 L837.9 700.1 L839.5 700.2 L841.1 700.2 L842.7 700.2 L844.3 700.1 L845.9 700.1 L847.5 700.0 L849.1 699.9 L850.7 699.8 L852.3 699.7 L853.9 699.5 L855.5 699.4 L857.1 699.2 L858.8 699.0 L860.4 698.8 L862.0 698.5" stroke="#ff0000" stroke-width="1.9"/>
</g>
<rect x="664.10" y="592.10" width="261.00" height="169.00" stroke="#000" stroke-width="2" fill="none"/>
<g stroke="#000">
<path d="M696.6 633.2 V643.4" stroke-width="1.55"/>
<circle cx="696.6" cy="637.9" r="3.5" fill="#fff" stroke-width="1.8"/>
<circle cx="722.9" cy="646.0" r="3.5" fill="#fff" stroke-width="1.8"/>
<circle cx="749.1" cy="631.8" r="3.5" fill="#fff" stroke-width="1.8"/>
<circle cx="775.1" cy="637.5" r="3.5" fill="#fff" stroke-width="1.8"/>
<circle cx="801.0" cy="638.2" r="3.5" fill="#fff" stroke-width="1.8"/>
<circle cx="827.0" cy="639.1" r="3.5" fill="#fff" stroke-width="1.8"/>
<circle cx="853.2" cy="640.9" r="3.5" fill="#fff" stroke-width="1.8"/>
</g>
<path d="M697.50 727.41 L700.49 738.75 M703.49 727.41 L700.49 738.75 M703.49 727.41 L706.48 738.75 M709.47 727.41 L706.48 738.75 M712.72 732.27 L722.41 732.27 M712.72 735.78 L722.41 735.78 M728.28 729.57 L729.42 729.03 L731.13 727.41 L731.13 738.75 M739.11 737.67 L738.54 738.21 L739.11 738.75 L739.68 738.21 L739.11 737.67 M750.51 731.19 L749.94 732.81 L748.80 733.89 L747.09 734.43 L746.52 734.43 L744.81 733.89 L743.67 732.81 L743.10 731.19 L743.10 730.65 L743.67 729.03 L744.81 727.95 L746.52 727.41 L747.09 727.41 L748.80 727.95 L749.94 729.03 L750.51 731.19 L750.51 733.89 L749.94 736.59 L748.80 738.21 L747.09 738.75 L745.95 738.75 L744.24 738.21 L743.67 737.13 M755.64 727.41 L761.91 727.41 L758.49 731.73 L760.20 731.73 L761.34 732.27 L761.91 732.81 L762.48 734.43 L762.48 735.51 L761.91 737.13 L760.77 738.21 L759.06 738.75 L757.35 738.75 L755.64 738.21 L755.07 737.67 L754.50 736.59 M768.75 727.41 L767.04 727.95 L766.47 729.03 L766.47 730.11 L767.04 731.19 L768.18 731.73 L770.46 732.27 L772.17 732.81 L773.31 733.89 L773.88 734.97 L773.88 736.59 L773.31 737.67 L772.74 738.21 L771.03 738.75 L768.75 738.75 L767.04 738.21 L766.47 737.67 L765.90 736.59 L765.90 734.97 L766.47 733.89 L767.61 732.81 L769.32 732.27 L771.60 731.73 L772.74 731.19 L773.31 730.11 L773.31 729.03 L772.74 727.95 L771.03 727.41 L768.75 727.41 M791.09 730.11 L790.52 729.03 L789.38 727.95 L788.24 727.41 L785.96 727.41 L784.82 727.95 L783.68 729.03 L783.11 730.11 L782.54 731.73 L782.54 734.43 L783.11 736.05 L783.68 737.13 L784.82 738.21 L785.96 738.75 L788.24 738.75 L789.38 738.21 L790.52 737.13 L791.09 736.05 L791.09 734.43 M788.24 734.43 L791.09 734.43 M794.51 734.43 L801.35 734.43 L801.35 733.35 L800.78 732.27 L800.21 731.73 L799.07 731.19 L797.36 731.19 L796.22 731.73 L795.08 732.81 L794.51 734.43 L794.51 735.51 L795.08 737.13 L796.22 738.21 L797.36 738.75 L799.07 738.75 L800.21 738.21 L801.35 737.13 M803.63 727.41 L808.19 738.75 M812.75 727.41 L808.19 738.75" fill="none" stroke="#111" stroke-width="1.18" stroke-linecap="round" stroke-linejoin="round"/>
<path d="M183.30 773.40 v12 M183.30 942.40 v-12 M118.05 815.90 h12 M379.05 815.90 h-12 M248.55 773.40 v12 M248.55 942.40 v-12 M118.05 857.95 h12 M379.05 857.95 h-12 M313.80 773.40 v12 M313.80 942.40 v-12 M118.05 900.50 h12 M379.05 900.50 h-12 " stroke="#000" stroke-width="2" fill="none"/>
<g clip-path="url(#c20)" fill="none" stroke-linecap="butt" stroke-linejoin="round">
<path d="M130.05 815.90 H367.05" stroke="#1a1a1a" stroke-width="0.58" stroke-dasharray="1.45 2.73"/>
<path d="M130.05 857.95 H367.05" stroke="#acacac" stroke-width="1.9"/>
<path d="M130.05 900.50 H367.05" stroke="#1a1a1a" stroke-width="0.58" stroke-dasharray="1.45 2.73"/>
<path d="M150.6 841.0 L151.9 840.0 L153.3 839.0 L154.7 838.1 L156.1 837.2 L157.5 836.4 L158.9 835.6 L160.3 834.9 L161.8 834.2 L163.3 833.5 L164.8 833.0 L166.3 832.4 L167.8 831.9 L169.3 831.5 L170.8 831.1 L172.4 830.8 L173.9 830.6 L175.5 830.4 L177.0 830.2 L178.6 830.1 L180.2 830.1 L181.7 830.1 L183.3 830.1 L184.9 830.2 L186.5 830.3 L188.1 830.5 L189.6 830.7 L191.2 830.9 L192.8 831.1 L194.4 831.3 L196.0 831.6 L197.5 831.9 L199.1 832.2 L200.7 832.5 L202.2 832.8 L203.8 833.1 L205.4 833.5 L206.9 833.8 L208.5 834.2 L210.0 834.6 L211.6 835.0 L213.2 835.4 L214.7 835.8 L216.3 836.2 L217.8 836.7 L219.4 837.1 L220.9 837.6 L222.5 838.0 L224.0 838.5 L225.6 838.9 L227.1 839.4 L228.7 839.9 L230.2 840.4 L231.7 840.9 L233.3 841.3 L234.8 841.8 L236.4 842.3 L237.9 842.8 L239.4 843.3 L241.0 843.8 L242.5 844.3 L244.0 844.8 L245.6 845.2 L247.1 845.7 L248.6 846.2 L250.2 846.7 L251.7 847.2 L253.2 847.6 L254.8 848.1 L256.3 848.6 L257.8 849.1 L259.4 849.5 L260.9 850.0 L262.4 850.4 L263.9 850.9 L265.5 851.3 L267.0 851.8 L268.5 852.2 L270.1 852.6 L271.6 853.0 L273.1 853.4 L274.7 853.8 L276.2 854.2 L277.7 854.6 L279.3 855.0 L280.8 855.4 L282.4 855.7 L283.9 856.1 L285.4 856.5 L287.0 856.8 L288.5 857.2 L290.1 857.5 L291.6 857.9 L293.1 858.2 L294.7 858.6 L296.2 858.9 L297.8 859.3 L299.3 859.7 L300.8 860.1 L302.4 860.5 L303.9 860.9 L305.4 861.3 L307.0 861.7 L308.5 862.2 L310.0 862.6 L311.5 863.1 L313.1 863.6 L314.6 864.1 L316.1 864.7 L317.6 865.2 L319.1 865.8 L320.6 866.4 L322.1 867.1 L323.6 867.7 L325.1 868.4 L326.6 869.2 L328.1 869.9 L329.6 870.7 L331.1 871.6 L332.5 872.4 L334.0 873.3 L335.5 874.2 L337.0 875.2 L338.4 876.1 L339.9 877.1 L341.3 878.0 L342.8 878.9 L344.2 879.9 L345.6 880.7 L347.1 881.6 L348.5 882.4 L349.9 883.1 L351.3 883.8 L352.7 884.4 L354.1 884.9 L355.5 885.3 L356.9 885.7 L358.2 885.9 L359.6 886.0" stroke="#00ff00" stroke-width="0.5" stroke-dasharray="4.3 4.05"/>
<path d="M151.6 861.6 L153.3 861.0 L154.9 860.6 L156.5 860.1 L158.2 859.8 L159.8 859.5 L161.3 859.2 L162.9 858.9 L164.5 858.7 L166.0 858.4 L167.5 858.2 L169.1 858.0 L170.6 857.7 L172.1 857.4 L173.6 857.1 L175.0 856.7 L176.5 856.3 L178.0 855.9 L179.4 855.4 L180.9 854.8 L182.3 854.2 L183.8 853.5 L185.2 852.8 L186.6 852.0 L188.1 851.3 L189.5 850.4 L190.9 849.6 L192.3 848.7 L193.7 847.9 L195.1 847.0 L196.5 846.2 L197.9 845.4 L199.3 844.6 L200.7 843.8 L202.2 843.0 L203.6 842.2 L205.0 841.4 L206.4 840.7 L207.8 839.9 L209.2 839.2 L210.7 838.5 L212.1 837.8 L213.5 837.1 L215.0 836.5 L216.4 835.8 L217.9 835.2 L219.4 834.6 L220.8 834.0 L222.3 833.4 L223.8 832.8 L225.3 832.3 L226.8 831.7 L228.3 831.2 L229.8 830.8 L231.4 830.3 L232.9 829.9 L234.4 829.4 L236.0 829.0 L237.5 828.7 L239.1 828.3 L240.6 828.0 L242.2 827.7 L243.8 827.4 L245.3 827.2 L246.9 826.9 L248.5 826.7 L250.1 826.5 L251.6 826.4 L253.2 826.2 L254.8 826.1 L256.4 826.0 L258.0 825.8 L259.6 825.8 L261.2 825.7 L262.8 825.7 L264.4 825.6 L265.9 825.7 L267.5 825.7 L269.1 825.8 L270.7 825.8 L272.3 825.9 L273.9 826.1 L275.5 826.2 L277.1 826.4 L278.7 826.5 L280.3 826.7 L281.9 826.9 L283.5 827.2 L285.1 827.4 L286.7 827.6 L288.3 827.9 L289.9 828.1 L291.5 828.4 L293.1 828.6 L294.7 828.9 L296.3 829.2 L297.9 829.4 L299.5 829.7 L301.1 830.0 L302.7 830.2 L304.3 830.5 L305.9 830.7 L307.5 831.0 L309.1 831.2 L310.7 831.4 L312.3 831.6 L313.8 831.8 L315.4 832.0 L317.0 832.2 L318.6 832.3 L320.2 832.5 L321.8 832.6 L323.4 832.7 L325.0 832.8 L326.6 832.8 L328.2 832.8 L329.8 832.8 L331.3 832.8 L332.9 832.7 L334.5 832.7 L336.1 832.6 L337.7 832.4 L339.2 832.2 L340.8 832.0 L342.4 831.8 L343.9 831.5 L345.5 831.2 L347.0 830.9 L348.6 830.6 L350.1 830.2 L351.6 829.7 L353.1 829.3 L354.7 828.8 L356.1 828.2 L357.6 827.6 L359.1 827.0 L360.6 826.4 L362.0 825.7 L363.5 824.9 L364.9 824.2 L366.3 823.4 L367.8 822.6 L369.2 821.8 L370.5 820.9 L371.9 820.1 L373.3 819.2 L374.6 818.3 L375.9 817.4 L377.2 816.4 L378.5 815.5" stroke="#ff00ff" stroke-width="0.5" stroke-dasharray="4.4 5.1 1.3 5.2"/>
<path d="M118.5 815.5 L119.5 816.8 L120.4 818.1 L121.4 819.4 L122.3 820.7 L123.3 822.0 L124.2 823.3 L125.1 824.6 L126.1 825.9 L127.0 827.2 L127.9 828.5 L128.9 829.8 L129.8 831.0 L130.8 832.3 L131.8 833.6 L132.7 834.8 L133.7 836.1 L134.7 837.3 L135.7 838.6 L136.7 839.8 L137.8 841.0 L138.8 842.2 L139.9 843.4 L141.0 844.6 L142.1 845.7 L143.3 846.9 L144.4 848.0 L145.6 849.2 L146.8 850.3 L148.0 851.3 L149.3 852.4 L150.6 853.4 L151.8 854.5 L153.2 855.4 L154.5 856.4 L155.8 857.3 L157.2 858.2 L158.6 859.0 L160.0 859.8 L161.4 860.6 L162.9 861.3 L164.3 862.0 L165.8 862.7 L167.3 863.3 L168.8 863.8 L170.3 864.3 L171.8 864.7 L173.4 865.1 L174.9 865.4 L176.5 865.7 L178.0 865.9 L179.6 866.0 L181.2 866.0 L182.7 866.0 L184.3 865.9 L185.9 865.8 L187.4 865.6 L189.0 865.3 L190.5 865.0 L192.1 864.6 L193.6 864.2 L195.1 863.7 L196.7 863.2 L198.2 862.6 L199.6 862.0 L201.1 861.3 L202.6 860.6 L204.1 859.9 L205.5 859.2 L207.0 858.4 L208.4 857.6 L209.9 856.9 L211.3 856.1 L212.7 855.3 L214.2 854.5 L215.6 853.7 L217.0 852.9 L218.4 852.2 L219.9 851.4 L221.3 850.6 L222.7 849.8 L224.1 849.1 L225.5 848.3 L227.0 847.6 L228.4 846.8 L229.8 846.1 L231.3 845.4 L232.7 844.7 L234.1 844.0 L235.6 843.3 L237.0 842.6 L238.5 842.0 L240.0 841.4 L241.4 840.7 L242.9 840.2 L244.4 839.6 L245.9 839.0 L247.4 838.5 L248.9 838.0 L250.4 837.5 L252.0 837.1 L253.5 836.6 L255.0 836.2 L256.5 835.8 L258.1 835.4 L259.6 835.1 L261.2 834.7 L262.8 834.4 L264.3 834.1 L265.9 833.9 L267.5 833.6 L269.0 833.4 L270.6 833.2 L272.2 833.0 L273.8 832.9 L275.4 832.8 L277.0 832.7 L278.6 832.6 L280.2 832.6 L281.8 832.5 L283.4 832.5 L285.0 832.5 L286.6 832.6 L288.2 832.6 L289.8 832.7 L291.5 832.8 L293.1 832.9 L294.7 833.0 L296.3 833.1 L297.9 833.3 L299.6 833.4 L301.2 833.6 L302.8 833.7 L304.4 833.9 L306.1 834.1 L307.7 834.2 L309.3 834.4 L310.9 834.6 L312.5 834.8 L314.2 834.9 L315.8 835.1 L317.4 835.2 L319.0 835.4 L320.6 835.5 L322.2 835.6 L323.9 835.7 L325.5 835.8 L327.1 835.9 L328.7 836.0 L330.3 836.0 L331.9 836.0 L333.4 836.0 L335.0 836.0 L336.6 835.9 L338.2 835.8 L339.7 835.7 L341.3 835.5 L342.9 835.3 L344.4 835.1 L346.0 834.8 L347.5 834.5 L349.0 834.2 L350.6 833.8 L352.1 833.4 L353.6 832.9 L355.1 832.3 L356.6 831.8 L358.1 831.1 L359.5 830.5 L361.0 829.7 L362.4 829.0 L363.8 828.2 L365.2 827.3 L366.6 826.4 L367.9 825.5 L369.3 824.5 L370.5 823.5 L371.8 822.5 L373.0 821.4 L374.2 820.3 L375.3 819.1 L376.4 817.9 L377.5 816.7 L378.5 815.5" stroke="#000" stroke-width="0.62"/>
<path d="M118.5 815.5 L120.1 815.6 L121.7 815.8 L123.4 815.9 L125.0 816.0 L126.6 816.2 L128.2 816.3 L129.8 816.4 L131.4 816.6 L133.0 816.7 L134.7 816.9 L136.3 817.0 L137.9 817.2 L139.5 817.3 L141.1 817.5 L142.7 817.6 L144.3 817.8 L145.9 818.0 L147.5 818.1 L149.1 818.3 L150.7 818.4 L152.3 818.6 L153.9 818.8 L155.5 818.9 L157.1 819.1 L158.7 819.3 L160.3 819.5 L161.9 819.6 L163.5 819.8 L165.1 820.0 L166.7 820.2 L168.3 820.4 L169.9 820.6 L171.4 820.7 L173.0 820.9 L174.6 821.1 L176.2 821.3 L177.8 821.5 L179.4 821.7 L181.0 821.9 L182.6 822.1 L184.2 822.3 L185.7 822.5 L187.3 822.7 L188.9 822.9 L190.5 823.1 L192.1 823.4 L193.7 823.6 L195.3 823.8 L196.8 824.0 L198.4 824.2 L200.0 824.4 L201.6 824.7 L203.2 824.9 L204.8 825.1 L206.3 825.3 L207.9 825.6 L209.5 825.8 L211.1 826.0 L212.7 826.3 L214.3 826.5 L215.9 826.8 L217.4 827.0 L219.0 827.2 L220.6 827.5 L222.2 827.7 L223.8 828.0 L225.4 828.2 L226.9 828.5 L228.5 828.7 L230.1 829.0 L231.7 829.3 L233.3 829.5 L234.9 829.8 L236.4 830.1 L238.0 830.3 L239.6 830.6 L241.2 830.9 L242.8 831.1 L244.4 831.4 L246.0 831.7 L247.6 831.9 L249.1 832.2 L250.7 832.5 L252.3 832.8 L253.9 833.1 L255.5 833.3 L257.1 833.6 L258.7 833.9 L260.3 834.2 L261.9 834.5 L263.5 834.7 L265.1 835.0 L266.7 835.3 L268.3 835.6 L269.9 835.9 L271.5 836.2 L273.1 836.5 L274.7 836.7 L276.3 837.0 L277.9 837.3 L279.5 837.6 L281.1 837.9 L282.7 838.2 L284.3 838.5 L285.9 838.8 L287.5 839.0 L289.1 839.3 L290.7 839.6 L292.3 839.9 L293.9 840.1 L295.5 840.4 L297.1 840.6 L298.7 840.8 L300.3 841.1 L301.9 841.3 L303.5 841.5 L305.1 841.7 L306.7 841.9 L308.3 842.0 L309.9 842.2 L311.5 842.3 L313.1 842.4 L314.7 842.5 L316.3 842.6 L317.9 842.6 L319.5 842.6 L321.1 842.6 L322.7 842.6 L324.3 842.6 L325.8 842.5 L327.4 842.4 L329.0 842.3 L330.6 842.1 L332.1 842.0 L333.7 841.7 L335.2 841.5 L336.8 841.2 L338.3 840.9 L339.9 840.5 L341.4 840.1 L343.0 839.7 L344.5 839.2 L346.0 838.7 L347.5 838.2 L349.0 837.6 L350.5 837.0 L352.0 836.3 L353.4 835.7 L354.9 835.0 L356.3 834.2 L357.7 833.4 L359.1 832.6 L360.5 831.8 L361.9 830.9 L363.2 830.0 L364.5 829.1 L365.8 828.1 L367.1 827.1 L368.4 826.1 L369.6 825.0 L370.8 823.9 L372.0 822.8 L373.1 821.6 L374.3 820.5 L375.4 819.3 L376.5 818.0 L377.5 816.8 L378.5 815.5" stroke="#ff0000" stroke-width="1.9" stroke-dasharray="4.4 5 1.6 5"/>
<path d="M118.5 816.5 L119.3 817.8 L120.0 819.2 L120.7 820.6 L121.4 822.0 L122.1 823.5 L122.8 825.0 L123.4 826.5 L124.1 828.0 L124.7 829.5 L125.4 831.0 L126.1 832.5 L126.8 833.9 L127.6 835.4 L128.3 836.8 L129.1 838.3 L129.9 839.6 L130.8 841.0 L131.7 842.3 L132.7 843.5 L133.7 844.7 L134.7 845.9 L135.9 846.9 L137.1 847.9 L138.3 848.9 L139.6 849.8 L141.0 850.6 L142.4 851.4 L143.8 852.1 L145.3 852.8 L146.8 853.4 L148.3 854.0 L149.8 854.6 L151.4 855.1 L152.9 855.6 L154.5 856.0 L156.0 856.5 L157.6 856.9 L159.1 857.3 L160.7 857.6 L162.2 857.9 L163.8 858.3 L165.4 858.5 L166.9 858.8 L168.5 859.1 L170.1 859.3 L171.6 859.6 L173.2 859.8 L174.8 860.0 L176.3 860.3 L177.9 860.5 L179.5 860.7 L181.0 860.9 L182.6 861.1 L184.2 861.3 L185.8 861.6 L187.3 861.8 L188.9 862.0 L190.5 862.3 L192.1 862.5 L193.7 862.8 L195.2 863.1 L196.8 863.4 L198.4 863.7 L200.0 864.1 L201.6 864.4 L203.1 864.7 L204.7 865.1 L206.3 865.4 L207.9 865.8 L209.5 866.1 L211.1 866.4 L212.7 866.8 L214.3 867.1 L215.8 867.4 L217.4 867.7 L219.0 867.9 L220.6 868.2 L222.2 868.4 L223.8 868.6 L225.4 868.8 L227.0 868.9 L228.6 869.1 L230.2 869.2 L231.8 869.3 L233.4 869.4 L234.9 869.5 L236.5 869.5 L238.1 869.5 L239.7 869.5 L241.3 869.5 L242.9 869.5 L244.5 869.4 L246.1 869.3 L247.7 869.2 L249.3 869.1 L250.9 869.0 L252.5 868.8 L254.1 868.6 L255.7 868.4 L257.3 868.2 L258.9 868.0 L260.5 867.7 L262.1 867.5 L263.7 867.2 L265.2 866.9 L266.8 866.6 L268.4 866.3 L270.0 866.0 L271.6 865.7 L273.2 865.4 L274.8 865.1 L276.4 864.7 L278.0 864.4 L279.5 864.1 L281.1 863.7 L282.7 863.4 L284.3 863.1 L285.9 862.8 L287.4 862.5 L289.0 862.1 L290.6 861.8 L292.2 861.6 L293.7 861.3 L295.3 861.0 L296.9 860.7 L298.4 860.4 L300.0 860.1 L301.5 859.8 L303.1 859.4 L304.6 859.1 L306.2 858.8 L307.7 858.4 L309.3 858.0 L310.8 857.6 L312.3 857.2 L313.9 856.8 L315.4 856.4 L316.9 855.9 L318.4 855.5 L320.0 855.0 L321.5 854.5 L323.0 854.0 L324.5 853.5 L326.0 853.0 L327.5 852.4 L329.0 851.8 L330.5 851.3 L332.0 850.7 L333.4 850.0 L334.9 849.4 L336.4 848.8 L337.8 848.1 L339.3 847.4 L340.8 846.7 L342.2 846.0 L343.7 845.3 L345.1 844.6 L346.5 843.8 L348.0 843.0 L349.4 842.2 L350.8 841.4 L352.2 840.6 L353.5 839.7 L354.9 838.9 L356.3 838.0 L357.6 837.1 L358.9 836.1 L360.2 835.2 L361.5 834.2 L362.8 833.2 L364.0 832.2 L365.2 831.2 L366.4 830.1 L367.6 829.0 L368.8 827.9 L369.9 826.8 L371.0 825.6 L372.1 824.5 L373.1 823.3 L374.2 822.0 L375.1 820.8 L376.1 819.5 L377.0 818.2 L377.9 816.9 L378.8 815.5" stroke="#0000ff" stroke-width="1.9" stroke-dasharray="4.4 3.95"/>
<path d="M118.5 815.5 L119.9 816.4 L121.2 817.2 L122.6 818.0 L124.0 818.9 L125.4 819.7 L126.8 820.5 L128.2 821.2 L129.6 822.0 L131.0 822.7 L132.4 823.5 L133.9 824.2 L135.3 824.9 L136.7 825.6 L138.2 826.3 L139.7 826.9 L141.1 827.6 L142.6 828.3 L144.1 828.9 L145.5 829.6 L147.0 830.2 L148.5 830.8 L150.0 831.4 L151.5 832.0 L153.0 832.6 L154.5 833.2 L156.0 833.8 L157.5 834.4 L158.9 835.0 L160.4 835.6 L161.9 836.1 L163.5 836.7 L165.0 837.3 L166.5 837.9 L168.0 838.4 L169.4 839.0 L170.9 839.6 L172.4 840.1 L173.9 840.7 L175.4 841.3 L176.9 841.9 L178.4 842.5 L179.9 843.1 L181.4 843.7 L182.8 844.3 L184.3 844.9 L185.8 845.5 L187.2 846.2 L188.7 846.9 L190.2 847.5 L191.6 848.2 L193.0 848.9 L194.5 849.6 L195.9 850.4 L197.3 851.1 L198.7 851.9 L200.1 852.7 L201.5 853.4 L202.9 854.2 L204.3 855.1 L205.7 855.9 L207.1 856.7 L208.4 857.5 L209.8 858.4 L211.2 859.2 L212.6 860.0 L213.9 860.9 L215.3 861.7 L216.7 862.5 L218.0 863.4 L219.4 864.2 L220.8 865.0 L222.2 865.9 L223.5 866.7 L224.9 867.5 L226.3 868.2 L227.7 869.0 L229.1 869.8 L230.6 870.5 L232.0 871.3 L233.4 872.0 L234.9 872.7 L236.3 873.4 L237.8 874.0 L239.2 874.7 L240.7 875.3 L242.2 875.9 L243.7 876.4 L245.2 877.0 L246.8 877.5 L248.3 878.0 L249.8 878.5 L251.4 879.0 L252.9 879.4 L254.5 879.8 L256.0 880.2 L257.6 880.6 L259.1 880.9 L260.7 881.2 L262.3 881.5 L263.9 881.8 L265.4 882.0 L267.0 882.3 L268.6 882.5 L270.2 882.6 L271.8 882.8 L273.4 882.9 L275.0 883.1 L276.6 883.2 L278.2 883.3 L279.8 883.3 L281.4 883.4 L283.0 883.4 L284.6 883.4 L286.1 883.4 L287.7 883.4 L289.3 883.3 L290.9 883.3 L292.5 883.2 L294.1 883.1 L295.7 883.0 L297.3 882.8 L298.9 882.7 L300.5 882.5 L302.2 882.4 L303.8 882.2 L305.4 882.0 L307.0 881.8 L308.6 881.5 L310.2 881.2 L311.9 881.0 L313.5 880.7 L315.1 880.3 L316.7 880.0 L318.3 879.6 L319.9 879.2 L321.4 878.8 L323.0 878.4 L324.6 877.9 L326.1 877.4 L327.6 876.9 L329.2 876.4 L330.7 875.8 L332.1 875.2 L333.6 874.6 L335.1 873.9 L336.5 873.3 L337.9 872.5 L339.3 871.8 L340.7 871.0 L342.1 870.2 L343.4 869.4 L344.7 868.5 L346.0 867.6 L347.2 866.6 L348.5 865.6 L349.7 864.6 L350.9 863.6 L352.0 862.5 L353.2 861.4 L354.3 860.3 L355.4 859.1 L356.4 858.0 L357.5 856.7 L358.5 855.5 L359.5 854.3 L360.5 853.0 L361.4 851.7 L362.3 850.4 L363.2 849.1 L364.1 847.7 L365.0 846.4 L365.8 845.0 L366.6 843.6 L367.4 842.2 L368.2 840.7 L369.0 839.3 L369.7 837.9 L370.4 836.4 L371.1 834.9 L371.8 833.5 L372.4 832.0 L373.0 830.5 L373.7 829.0 L374.3 827.5 L374.8 826.0 L375.4 824.5 L376.0 823.0 L376.6 821.5 L377.1 820.0 L377.7 818.5 L378.2 817.0 L378.8 815.5" stroke="#ff0000" stroke-width="1.9"/>
</g>
<rect x="118.05" y="773.40" width="261.00" height="169.00" stroke="#000" stroke-width="2" fill="none"/>
<g stroke="#000">
<path d="M150.6 828.8 V840.0" stroke-width="1.55"/>
<circle cx="150.6" cy="834.2" r="3.5" fill="#fff" stroke-width="1.8"/>
<path d="M176.9 825.8 V836.0" stroke-width="1.55"/>
<circle cx="176.9" cy="831.1" r="3.5" fill="#fff" stroke-width="1.8"/>
<path d="M203.2 821.9 V831.9" stroke-width="1.55"/>
<circle cx="203.2" cy="826.8" r="3.5" fill="#fff" stroke-width="1.8"/>
<circle cx="229.2" cy="819.6" r="3.5" fill="#fff" stroke-width="1.8"/>
<circle cx="255.2" cy="815.5" r="3.5" fill="#fff" stroke-width="1.8"/>
<circle cx="281.3" cy="822.7" r="3.5" fill="#fff" stroke-width="1.8"/>
<circle cx="307.3" cy="818.6" r="3.5" fill="#fff" stroke-width="1.8"/>
<circle cx="333.6" cy="818.1" r="3.5" fill="#fff" stroke-width="1.8"/>
<circle cx="359.6" cy="820.1" r="3.5" fill="#fff" stroke-width="1.8"/>
</g>
<path d="M151.45 908.51 L154.44 919.85 M157.44 908.51 L154.44 919.85 M157.44 908.51 L160.43 919.85 M163.42 908.51 L160.43 919.85 M166.67 913.37 L176.36 913.37 M166.67 916.88 L176.36 916.88 M182.23 910.67 L183.37 910.13 L185.08 908.51 L185.08 919.85 M193.06 918.77 L192.49 919.31 L193.06 919.85 L193.63 919.31 L193.06 918.77 M204.46 912.29 L203.89 913.91 L202.75 914.99 L201.04 915.53 L200.47 915.53 L198.76 914.99 L197.62 913.91 L197.05 912.29 L197.05 911.75 L197.62 910.13 L198.76 909.05 L200.47 908.51 L201.04 908.51 L202.75 909.05 L203.89 910.13 L204.46 912.29 L204.46 914.99 L203.89 917.69 L202.75 919.31 L201.04 919.85 L199.90 919.85 L198.19 919.31 L197.62 918.23 M211.30 908.51 L209.59 909.05 L209.02 910.13 L209.02 911.21 L209.59 912.29 L210.73 912.83 L213.01 913.37 L214.72 913.91 L215.86 914.99 L216.43 916.07 L216.43 917.69 L215.86 918.77 L215.29 919.31 L213.58 919.85 L211.30 919.85 L209.59 919.31 L209.02 918.77 L208.45 917.69 L208.45 916.07 L209.02 914.99 L210.16 913.91 L211.87 913.37 L214.15 912.83 L215.29 912.29 L215.86 911.21 L215.86 910.13 L215.29 909.05 L213.58 908.51 L211.30 908.51 M227.83 908.51 L222.13 919.85 M219.85 908.51 L227.83 908.51 M245.04 911.21 L244.47 910.13 L243.33 909.05 L242.19 908.51 L239.91 908.51 L238.77 909.05 L237.63 910.13 L237.06 911.21 L236.49 912.83 L236.49 915.53 L237.06 917.15 L237.63 918.23 L238.77 919.31 L239.91 919.85 L242.19 919.85 L243.33 919.31 L244.47 918.23 L245.04 917.15 L245.04 915.53 M242.19 915.53 L245.04 915.53 M248.46 915.53 L255.30 915.53 L255.30 914.45 L254.73 913.37 L254.16 912.83 L253.02 912.29 L251.31 912.29 L250.17 912.83 L249.03 913.91 L248.46 915.53 L248.46 916.61 L249.03 918.23 L250.17 919.31 L251.31 919.85 L253.02 919.85 L254.16 919.31 L255.30 918.23 M257.58 908.51 L262.14 919.85 M266.70 908.51 L262.14 919.85" fill="none" stroke="#111" stroke-width="1.18" stroke-linecap="round" stroke-linejoin="round"/>
<path d="M456.35 773.40 v12 M456.35 942.40 v-12 M391.10 815.90 h12 M652.10 815.90 h-12 M521.60 773.40 v12 M521.60 942.40 v-12 M391.10 857.95 h12 M652.10 857.95 h-12 M586.85 773.40 v12 M586.85 942.40 v-12 M391.10 900.50 h12 M652.10 900.50 h-12 " stroke="#000" stroke-width="2" fill="none"/>
<g clip-path="url(#c21)" fill="none" stroke-linecap="butt" stroke-linejoin="round">
<path d="M403.10 815.90 H640.10" stroke="#1a1a1a" stroke-width="0.58" stroke-dasharray="1.45 2.73"/>
<path d="M403.10 857.95 H640.10" stroke="#acacac" stroke-width="1.9"/>
<path d="M403.10 900.50 H640.10" stroke="#1a1a1a" stroke-width="0.58" stroke-dasharray="1.45 2.73"/>
<path d="M423.6 846.1 L424.9 845.0 L426.1 844.0 L427.5 842.9 L428.8 842.0 L430.1 841.0 L431.5 840.2 L432.9 839.3 L434.3 838.5 L435.7 837.8 L437.2 837.0 L438.6 836.3 L440.1 835.7 L441.6 835.1 L443.1 834.5 L444.6 834.0 L446.1 833.5 L447.6 833.1 L449.2 832.6 L450.7 832.3 L452.3 831.9 L453.8 831.6 L455.4 831.3 L456.9 831.1 L458.5 830.9 L460.1 830.8 L461.7 830.6 L463.3 830.5 L464.8 830.5 L466.4 830.4 L468.0 830.4 L469.6 830.5 L471.2 830.5 L472.7 830.6 L474.3 830.8 L475.9 830.9 L477.5 831.1 L479.1 831.3 L480.6 831.5 L482.2 831.7 L483.8 832.0 L485.4 832.3 L486.9 832.6 L488.5 832.9 L490.1 833.3 L491.7 833.6 L493.2 834.0 L494.8 834.4 L496.4 834.8 L497.9 835.2 L499.5 835.7 L501.1 836.1 L502.6 836.6 L504.2 837.0 L505.7 837.5 L507.3 838.0 L508.9 838.4 L510.4 838.9 L511.9 839.4 L513.5 839.9 L515.0 840.4 L516.6 840.9 L518.1 841.5 L519.6 842.0 L521.2 842.5 L522.7 843.0 L524.2 843.5 L525.8 844.1 L527.3 844.6 L528.8 845.1 L530.3 845.7 L531.9 846.2 L533.4 846.7 L534.9 847.3 L536.4 847.8 L537.9 848.3 L539.4 848.9 L541.0 849.4 L542.5 849.9 L544.0 850.4 L545.5 851.0 L547.0 851.5 L548.5 852.0 L550.0 852.6 L551.5 853.1 L553.0 853.7 L554.5 854.2 L556.0 854.8 L557.5 855.3 L559.0 855.9 L560.4 856.4 L561.9 857.0 L563.4 857.6 L564.9 858.2 L566.4 858.7 L567.9 859.3 L569.4 859.9 L570.8 860.5 L572.3 861.1 L573.8 861.7 L575.3 862.3 L576.8 862.9 L578.2 863.5 L579.7 864.1 L581.2 864.7 L582.7 865.3 L584.1 865.9 L585.6 866.5 L587.1 867.2 L588.6 867.8 L590.0 868.4 L591.5 869.1 L593.0 869.7 L594.4 870.4 L595.9 871.0 L597.4 871.7 L598.8 872.3 L600.3 873.0 L601.8 873.7 L603.2 874.3 L604.7 875.0 L606.1 875.7 L607.6 876.4 L609.1 877.1 L610.5 877.7 L612.0 878.4 L613.4 879.1 L614.9 879.8 L616.4 880.5 L617.8 881.2 L619.3 881.9 L620.7 882.6 L622.2 883.3 L623.7 884.0 L625.1 884.7 L626.6 885.3 L628.0 886.0 L629.5 886.7" stroke="#00ff00" stroke-width="0.5" stroke-dasharray="4.3 4.05"/>
<path d="M421.6 869.2 L423.1 868.5 L424.7 867.8 L426.2 867.2 L427.7 866.5 L429.2 865.9 L430.7 865.3 L432.2 864.7 L433.7 864.1 L435.2 863.6 L436.7 863.0 L438.2 862.5 L439.7 861.9 L441.1 861.4 L442.6 860.8 L444.1 860.2 L445.5 859.7 L447.0 859.1 L448.4 858.5 L449.9 857.9 L451.3 857.2 L452.7 856.6 L454.1 855.9 L455.6 855.2 L457.0 854.5 L458.4 853.7 L459.8 852.9 L461.2 852.1 L462.6 851.3 L464.0 850.5 L465.4 849.6 L466.8 848.8 L468.1 847.9 L469.5 847.0 L470.9 846.2 L472.3 845.3 L473.7 844.4 L475.1 843.6 L476.4 842.8 L477.8 841.9 L479.2 841.1 L480.6 840.3 L482.0 839.5 L483.4 838.8 L484.8 838.0 L486.2 837.3 L487.7 836.6 L489.1 835.9 L490.5 835.2 L492.0 834.5 L493.4 833.8 L494.9 833.1 L496.3 832.5 L497.8 831.8 L499.3 831.2 L500.8 830.5 L502.3 829.9 L503.8 829.3 L505.3 828.7 L506.8 828.1 L508.3 827.6 L509.8 827.1 L511.4 826.6 L512.9 826.1 L514.5 825.6 L516.0 825.2 L517.6 824.9 L519.1 824.5 L520.7 824.2 L522.3 824.0 L523.8 823.7 L525.4 823.6 L527.0 823.4 L528.6 823.3 L530.1 823.3 L531.7 823.2 L533.3 823.3 L534.9 823.3 L536.5 823.4 L538.1 823.5 L539.7 823.6 L541.3 823.8 L542.8 824.0 L544.4 824.2 L546.0 824.5 L547.6 824.7 L549.2 825.0 L550.8 825.4 L552.4 825.7 L553.9 826.0 L555.5 826.4 L557.1 826.8 L558.7 827.2 L560.3 827.6 L561.9 827.9 L563.4 828.3 L565.0 828.7 L566.6 829.1 L568.2 829.5 L569.8 829.9 L571.4 830.3 L572.9 830.7 L574.5 831.0 L576.1 831.3 L577.7 831.7 L579.3 832.0 L580.8 832.3 L582.4 832.5 L584.0 832.8 L585.6 833.0 L587.2 833.2 L588.8 833.4 L590.4 833.6 L591.9 833.7 L593.5 833.9 L595.1 834.0 L596.7 834.1 L598.3 834.1 L599.9 834.1 L601.5 834.2 L603.1 834.1 L604.7 834.1 L606.3 834.0 L607.8 833.9 L609.4 833.8 L611.0 833.6 L612.6 833.4 L614.2 833.2 L615.8 833.0 L617.4 832.7 L618.9 832.4 L620.5 832.0 L622.1 831.6 L623.6 831.2 L625.2 830.7 L626.7 830.2 L628.2 829.7 L629.7 829.1 L631.2 828.5 L632.7 827.8 L634.2 827.1 L635.6 826.4 L637.0 825.6 L638.5 824.8 L639.9 824.0 L641.2 823.1 L642.6 822.3 L643.9 821.3 L645.3 820.4 L646.6 819.5 L647.8 818.5 L649.1 817.5 L650.3 816.5 L651.5 815.5" stroke="#ff00ff" stroke-width="0.5" stroke-dasharray="4.4 5.1 1.3 5.2"/>
<path d="M391.5 815.5 L392.9 816.4 L394.2 817.2 L395.5 818.1 L396.8 819.1 L398.1 820.0 L399.4 821.0 L400.7 822.0 L401.9 823.0 L403.2 824.0 L404.4 825.0 L405.7 826.0 L406.9 827.1 L408.1 828.1 L409.3 829.2 L410.5 830.3 L411.7 831.4 L412.9 832.5 L414.1 833.6 L415.3 834.7 L416.4 835.8 L417.6 836.9 L418.8 838.0 L420.0 839.1 L421.1 840.2 L422.3 841.2 L423.5 842.3 L424.6 843.4 L425.8 844.5 L427.0 845.5 L428.2 846.6 L429.3 847.7 L430.5 848.7 L431.7 849.8 L432.9 850.8 L434.1 851.9 L435.3 852.9 L436.5 853.9 L437.8 855.0 L439.0 856.0 L440.3 857.1 L441.5 858.1 L442.8 859.2 L444.0 860.2 L445.3 861.3 L446.6 862.3 L448.0 863.3 L449.3 864.2 L450.6 865.2 L452.0 866.1 L453.4 867.0 L454.8 867.8 L456.2 868.5 L457.6 869.3 L459.1 869.9 L460.6 870.5 L462.1 871.1 L463.6 871.6 L465.2 872.0 L466.7 872.3 L468.3 872.6 L469.9 872.7 L471.5 872.9 L473.0 872.9 L474.6 872.9 L476.2 872.8 L477.8 872.6 L479.4 872.4 L480.9 872.1 L482.4 871.7 L483.9 871.2 L485.4 870.7 L486.9 870.1 L488.3 869.4 L489.7 868.6 L491.1 867.8 L492.5 867.0 L493.8 866.1 L495.2 865.2 L496.5 864.3 L497.8 863.3 L499.2 862.4 L500.5 861.5 L501.8 860.5 L503.2 859.6 L504.5 858.6 L505.8 857.7 L507.2 856.8 L508.5 855.9 L509.8 854.9 L511.2 854.0 L512.5 853.2 L513.9 852.3 L515.3 851.4 L516.6 850.6 L518.0 849.8 L519.4 849.0 L520.8 848.2 L522.2 847.4 L523.6 846.7 L525.0 845.9 L526.5 845.2 L527.9 844.6 L529.3 843.9 L530.8 843.2 L532.3 842.6 L533.7 841.9 L535.2 841.3 L536.7 840.7 L538.2 840.1 L539.7 839.5 L541.2 839.0 L542.7 838.4 L544.2 837.9 L545.8 837.4 L547.3 837.0 L548.8 836.5 L550.4 836.1 L551.9 835.8 L553.5 835.5 L555.1 835.2 L556.6 834.9 L558.2 834.7 L559.8 834.5 L561.4 834.4 L562.9 834.3 L564.5 834.2 L566.1 834.2 L567.7 834.2 L569.3 834.2 L570.9 834.2 L572.5 834.3 L574.2 834.4 L575.8 834.5 L577.4 834.6 L579.0 834.8 L580.6 834.9 L582.3 835.1 L583.9 835.3 L585.5 835.5 L587.1 835.7 L588.8 835.9 L590.4 836.1 L592.0 836.3 L593.7 836.5 L595.3 836.7 L596.9 836.9 L598.5 837.1 L600.2 837.2 L601.8 837.4 L603.4 837.5 L605.0 837.6 L606.6 837.7 L608.2 837.8 L609.8 837.8 L611.4 837.8 L613.0 837.8 L614.6 837.7 L616.2 837.6 L617.7 837.4 L619.3 837.3 L620.8 837.0 L622.3 836.7 L623.8 836.4 L625.3 836.0 L626.8 835.5 L628.3 835.0 L629.8 834.5 L631.2 833.8 L632.6 833.1 L634.0 832.3 L635.4 831.5 L636.8 830.6 L638.2 829.7 L639.5 828.6 L640.8 827.6 L642.0 826.5 L643.3 825.4 L644.4 824.2 L645.6 823.0 L646.7 821.8 L647.8 820.6 L648.8 819.3 L649.7 818.0 L650.6 816.8 L651.5 815.5" stroke="#000" stroke-width="0.62"/>
<path d="M391.5 815.5 L393.1 815.6 L394.7 815.7 L396.4 815.8 L398.0 815.9 L399.6 816.0 L401.2 816.1 L402.8 816.2 L404.4 816.3 L406.0 816.5 L407.7 816.6 L409.3 816.7 L410.9 816.8 L412.5 817.0 L414.1 817.1 L415.7 817.2 L417.3 817.4 L418.9 817.5 L420.5 817.7 L422.1 817.8 L423.7 818.0 L425.3 818.1 L426.9 818.3 L428.5 818.4 L430.1 818.6 L431.7 818.8 L433.3 818.9 L434.9 819.1 L436.5 819.3 L438.1 819.4 L439.6 819.6 L441.2 819.8 L442.8 820.0 L444.4 820.2 L446.0 820.3 L447.6 820.5 L449.2 820.7 L450.8 820.9 L452.3 821.1 L453.9 821.3 L455.5 821.5 L457.1 821.7 L458.7 821.9 L460.3 822.1 L461.9 822.4 L463.4 822.6 L465.0 822.8 L466.6 823.0 L468.2 823.2 L469.8 823.5 L471.3 823.7 L472.9 823.9 L474.5 824.1 L476.1 824.4 L477.7 824.6 L479.2 824.9 L480.8 825.1 L482.4 825.3 L484.0 825.6 L485.6 825.8 L487.1 826.1 L488.7 826.3 L490.3 826.6 L491.9 826.8 L493.4 827.1 L495.0 827.4 L496.6 827.6 L498.2 827.9 L499.8 828.1 L501.3 828.4 L502.9 828.7 L504.5 829.0 L506.1 829.2 L507.7 829.5 L509.2 829.8 L510.8 830.1 L512.4 830.4 L514.0 830.6 L515.5 830.9 L517.1 831.2 L518.7 831.5 L520.3 831.8 L521.9 832.1 L523.5 832.4 L525.0 832.7 L526.6 833.0 L528.2 833.3 L529.8 833.6 L531.4 833.9 L533.0 834.2 L534.5 834.5 L536.1 834.8 L537.7 835.1 L539.3 835.4 L540.9 835.8 L542.5 836.1 L544.1 836.4 L545.6 836.7 L547.2 837.0 L548.8 837.4 L550.4 837.7 L552.0 838.0 L553.6 838.3 L555.2 838.7 L556.8 839.0 L558.4 839.3 L560.0 839.6 L561.6 840.0 L563.2 840.3 L564.8 840.6 L566.3 840.9 L567.9 841.2 L569.5 841.5 L571.1 841.8 L572.7 842.1 L574.3 842.3 L575.9 842.6 L577.5 842.8 L579.1 843.1 L580.7 843.3 L582.3 843.5 L583.9 843.7 L585.5 843.9 L587.1 844.0 L588.6 844.2 L590.2 844.3 L591.8 844.4 L593.4 844.5 L595.0 844.5 L596.6 844.6 L598.1 844.6 L599.7 844.6 L601.3 844.5 L602.9 844.4 L604.4 844.3 L606.0 844.2 L607.6 844.1 L609.2 843.9 L610.7 843.6 L612.3 843.4 L613.8 843.1 L615.4 842.7 L616.9 842.4 L618.5 842.0 L620.0 841.5 L621.6 841.0 L623.1 840.5 L624.6 839.9 L626.1 839.3 L627.5 838.7 L629.0 838.0 L630.4 837.3 L631.8 836.5 L633.2 835.7 L634.5 834.9 L635.9 834.0 L637.2 833.1 L638.5 832.1 L639.7 831.1 L640.9 830.1 L642.1 829.0 L643.2 827.8 L644.3 826.6 L645.4 825.4 L646.4 824.1 L647.3 822.8 L648.3 821.4 L649.2 820.0 L650.0 818.6 L650.8 817.1 L651.5 815.5" stroke="#ff0000" stroke-width="1.9" stroke-dasharray="4.4 5 1.6 5"/>
<path d="M391.5 816.5 L392.5 817.8 L393.4 819.1 L394.2 820.5 L395.0 821.9 L395.7 823.3 L396.4 824.8 L397.0 826.3 L397.6 827.8 L398.2 829.3 L398.7 830.8 L399.3 832.4 L399.8 833.9 L400.4 835.4 L401.0 836.9 L401.6 838.4 L402.2 839.9 L402.9 841.3 L403.6 842.8 L404.4 844.1 L405.3 845.4 L406.2 846.7 L407.3 848.0 L408.4 849.1 L409.5 850.2 L410.8 851.3 L412.1 852.3 L413.4 853.2 L414.8 854.1 L416.3 854.9 L417.7 855.7 L419.2 856.4 L420.7 857.0 L422.2 857.6 L423.8 858.2 L425.3 858.7 L426.8 859.2 L428.3 859.6 L429.9 860.0 L431.4 860.4 L433.0 860.7 L434.5 861.0 L436.1 861.3 L437.6 861.6 L439.2 861.8 L440.7 862.0 L442.3 862.2 L443.9 862.4 L445.4 862.5 L447.0 862.7 L448.6 862.8 L450.1 862.9 L451.7 863.0 L453.3 863.2 L454.9 863.3 L456.5 863.4 L458.1 863.5 L459.7 863.6 L461.2 863.8 L462.8 863.9 L464.4 864.1 L466.0 864.2 L467.6 864.4 L469.2 864.6 L470.8 864.8 L472.4 865.0 L474.0 865.2 L475.6 865.4 L477.3 865.6 L478.9 865.8 L480.5 866.0 L482.1 866.3 L483.7 866.5 L485.3 866.7 L486.9 867.0 L488.5 867.2 L490.1 867.5 L491.7 867.7 L493.4 867.9 L495.0 868.1 L496.6 868.3 L498.2 868.5 L499.8 868.7 L501.4 868.9 L503.0 869.0 L504.6 869.2 L506.2 869.3 L507.8 869.4 L509.5 869.4 L511.1 869.5 L512.7 869.5 L514.3 869.5 L515.9 869.5 L517.5 869.5 L519.1 869.5 L520.7 869.4 L522.3 869.3 L523.9 869.2 L525.5 869.1 L527.1 869.0 L528.7 868.9 L530.3 868.7 L531.9 868.5 L533.5 868.4 L535.1 868.2 L536.6 868.0 L538.2 867.8 L539.8 867.5 L541.4 867.3 L543.0 867.0 L544.6 866.8 L546.2 866.5 L547.7 866.2 L549.3 866.0 L550.9 865.7 L552.5 865.4 L554.1 865.1 L555.6 864.7 L557.2 864.4 L558.8 864.1 L560.3 863.8 L561.9 863.4 L563.5 863.1 L565.0 862.7 L566.6 862.4 L568.2 862.0 L569.7 861.7 L571.3 861.3 L572.8 860.9 L574.4 860.6 L575.9 860.2 L577.5 859.8 L579.0 859.4 L580.6 859.0 L582.1 858.6 L583.6 858.2 L585.2 857.8 L586.7 857.3 L588.2 856.9 L589.8 856.4 L591.3 856.0 L592.8 855.5 L594.3 855.0 L595.9 854.5 L597.4 854.0 L598.9 853.5 L600.4 852.9 L601.9 852.4 L603.4 851.8 L604.9 851.2 L606.4 850.6 L607.9 850.0 L609.4 849.4 L610.9 848.7 L612.4 848.0 L613.9 847.4 L615.3 846.7 L616.8 845.9 L618.2 845.2 L619.7 844.4 L621.1 843.6 L622.5 842.8 L623.9 842.0 L625.2 841.1 L626.6 840.2 L627.9 839.3 L629.2 838.4 L630.5 837.4 L631.7 836.5 L633.0 835.4 L634.2 834.4 L635.4 833.3 L636.5 832.2 L637.6 831.1 L638.8 830.0 L639.9 828.8 L640.9 827.7 L642.0 826.5 L643.1 825.3 L644.1 824.1 L645.2 822.9 L646.2 821.7 L647.3 820.4 L648.3 819.2 L649.4 818.0 L650.4 816.7 L651.5 815.5" stroke="#0000ff" stroke-width="1.9" stroke-dasharray="4.4 3.95"/>
<path d="M391.5 815.5 L392.9 816.3 L394.2 817.2 L395.6 817.9 L397.0 818.7 L398.5 819.4 L399.9 820.1 L401.4 820.7 L402.8 821.4 L404.3 822.0 L405.8 822.5 L407.3 823.1 L408.8 823.6 L410.4 824.1 L411.9 824.6 L413.4 825.0 L415.0 825.4 L416.6 825.9 L418.1 826.3 L419.7 826.6 L421.3 827.0 L422.9 827.3 L424.5 827.7 L426.1 828.0 L427.7 828.3 L429.3 828.6 L430.9 828.9 L432.5 829.1 L434.1 829.4 L435.6 829.7 L437.2 829.9 L438.8 830.2 L440.4 830.5 L442.0 830.8 L443.6 831.1 L445.2 831.4 L446.7 831.7 L448.3 832.0 L449.8 832.4 L451.4 832.8 L452.9 833.2 L454.4 833.6 L455.9 834.0 L457.4 834.5 L458.9 835.0 L460.4 835.6 L461.9 836.2 L463.3 836.8 L464.7 837.5 L466.1 838.2 L467.6 838.9 L468.9 839.7 L470.3 840.5 L471.7 841.3 L473.0 842.2 L474.4 843.1 L475.7 843.9 L477.0 844.9 L478.4 845.8 L479.7 846.7 L481.0 847.7 L482.3 848.7 L483.6 849.6 L484.9 850.6 L486.1 851.6 L487.4 852.6 L488.7 853.6 L490.0 854.6 L491.2 855.6 L492.5 856.6 L493.8 857.6 L495.0 858.6 L496.3 859.6 L497.6 860.6 L498.8 861.6 L500.1 862.7 L501.4 863.7 L502.7 864.7 L504.0 865.7 L505.3 866.6 L506.6 867.6 L507.9 868.6 L509.2 869.5 L510.6 870.4 L511.9 871.2 L513.3 872.1 L514.6 872.9 L516.0 873.7 L517.4 874.4 L518.9 875.1 L520.3 875.7 L521.7 876.3 L523.2 876.9 L524.7 877.4 L526.2 877.9 L527.7 878.4 L529.2 878.8 L530.8 879.1 L532.3 879.5 L533.9 879.8 L535.4 880.1 L537.0 880.3 L538.6 880.5 L540.2 880.7 L541.8 880.9 L543.4 881.0 L545.0 881.1 L546.6 881.2 L548.2 881.2 L549.8 881.3 L551.4 881.3 L553.0 881.3 L554.6 881.3 L556.3 881.2 L557.9 881.2 L559.5 881.1 L561.1 881.1 L562.7 881.0 L564.3 880.9 L566.0 880.8 L567.6 880.6 L569.2 880.5 L570.8 880.4 L572.4 880.3 L574.1 880.1 L575.7 880.0 L577.3 879.8 L578.9 879.6 L580.5 879.4 L582.1 879.2 L583.7 879.0 L585.3 878.8 L586.9 878.5 L588.5 878.3 L590.1 878.0 L591.7 877.7 L593.3 877.3 L594.8 877.0 L596.4 876.6 L597.9 876.2 L599.5 875.7 L601.0 875.3 L602.5 874.8 L604.0 874.2 L605.5 873.7 L607.0 873.1 L608.4 872.5 L609.9 871.8 L611.3 871.1 L612.7 870.4 L614.1 869.6 L615.5 868.9 L616.9 868.0 L618.2 867.2 L619.5 866.3 L620.8 865.4 L622.1 864.4 L623.3 863.5 L624.6 862.4 L625.7 861.4 L626.9 860.3 L628.1 859.2 L629.2 858.0 L630.3 856.9 L631.3 855.6 L632.3 854.4 L633.3 853.1 L634.3 851.8 L635.2 850.5 L636.1 849.1 L637.0 847.7 L637.8 846.3 L638.6 844.9 L639.4 843.5 L640.2 842.0 L640.9 840.6 L641.6 839.1 L642.3 837.7 L643.0 836.2 L643.7 834.7 L644.3 833.3 L644.9 831.8 L645.6 830.3 L646.2 828.8 L646.8 827.3 L647.4 825.9 L648.0 824.4 L648.6 822.9 L649.1 821.4 L649.7 819.9 L650.3 818.4 L650.9 817.0 L651.5 815.5" stroke="#ff0000" stroke-width="1.9"/>
</g>
<rect x="391.10" y="773.40" width="261.00" height="169.00" stroke="#000" stroke-width="2" fill="none"/>
<g stroke="#000">
<path d="M423.6 832.3 V843.0" stroke-width="1.55"/>
<circle cx="423.6" cy="837.7" r="3.5" fill="#fff" stroke-width="1.8"/>
<path d="M449.9 841.8 V854.0" stroke-width="1.55"/>
<circle cx="449.9" cy="848.2" r="3.5" fill="#fff" stroke-width="1.8"/>
<path d="M476.2 827.3 V841.0" stroke-width="1.55"/>
<circle cx="476.2" cy="834.2" r="3.5" fill="#fff" stroke-width="1.8"/>
<path d="M502.2 828.5 V836.0" stroke-width="1.55"/>
<circle cx="502.2" cy="832.2" r="3.5" fill="#fff" stroke-width="1.8"/>
<circle cx="528.2" cy="823.8" r="3.5" fill="#fff" stroke-width="1.8"/>
<circle cx="554.3" cy="822.2" r="3.5" fill="#fff" stroke-width="1.8"/>
<circle cx="580.6" cy="814.6" r="3.5" fill="#fff" stroke-width="1.8"/>
<circle cx="606.6" cy="820.4" r="3.5" fill="#fff" stroke-width="1.8"/>
<circle cx="632.6" cy="818.1" r="3.5" fill="#fff" stroke-width="1.8"/>
</g>
<path d="M424.50 908.51 L427.49 919.85 M430.49 908.51 L427.49 919.85 M430.49 908.51 L433.48 919.85 M436.47 908.51 L433.48 919.85 M439.72 913.37 L449.41 913.37 M439.72 916.88 L449.41 916.88 M454.14 911.21 L454.14 910.67 L454.71 909.59 L455.28 909.05 L456.42 908.51 L458.70 908.51 L459.84 909.05 L460.41 909.59 L460.98 910.67 L460.98 911.75 L460.41 912.83 L459.27 914.45 L453.57 919.85 L461.55 919.85 M466.11 918.77 L465.54 919.31 L466.11 919.85 L466.68 919.31 L466.11 918.77 M473.52 908.51 L471.81 909.05 L470.67 910.67 L470.10 913.37 L470.10 914.99 L470.67 917.69 L471.81 919.31 L473.52 919.85 L474.66 919.85 L476.37 919.31 L477.51 917.69 L478.08 914.99 L478.08 913.37 L477.51 910.67 L476.37 909.05 L474.66 908.51 L473.52 908.51 M482.64 908.51 L488.91 908.51 L485.49 912.83 L487.20 912.83 L488.34 913.37 L488.91 913.91 L489.48 915.53 L489.48 916.61 L488.91 918.23 L487.77 919.31 L486.06 919.85 L484.35 919.85 L482.64 919.31 L482.07 918.77 L481.50 917.69 M498.60 908.51 L492.90 916.07 L501.45 916.07 M498.60 908.51 L498.60 919.85 M518.09 911.21 L517.52 910.13 L516.38 909.05 L515.24 908.51 L512.96 908.51 L511.82 909.05 L510.68 910.13 L510.11 911.21 L509.54 912.83 L509.54 915.53 L510.11 917.15 L510.68 918.23 L511.82 919.31 L512.96 919.85 L515.24 919.85 L516.38 919.31 L517.52 918.23 L518.09 917.15 L518.09 915.53 M515.24 915.53 L518.09 915.53 M521.51 915.53 L528.35 915.53 L528.35 914.45 L527.78 913.37 L527.21 912.83 L526.07 912.29 L524.36 912.29 L523.22 912.83 L522.08 913.91 L521.51 915.53 L521.51 916.61 L522.08 918.23 L523.22 919.31 L524.36 919.85 L526.07 919.85 L527.21 919.31 L528.35 918.23 M530.63 908.51 L535.19 919.85 M539.75 908.51 L535.19 919.85" fill="none" stroke="#111" stroke-width="1.18" stroke-linecap="round" stroke-linejoin="round"/>
<path d="M729.35 773.40 v12 M729.35 942.40 v-12 M664.10 815.90 h12 M925.10 815.90 h-12 M794.60 773.40 v12 M794.60 942.40 v-12 M664.10 857.95 h12 M925.10 857.95 h-12 M859.85 773.40 v12 M859.85 942.40 v-12 M664.10 900.50 h12 M925.10 900.50 h-12 " stroke="#000" stroke-width="2" fill="none"/>
<g clip-path="url(#c22)" fill="none" stroke-linecap="butt" stroke-linejoin="round">
<path d="M676.10 815.90 H913.10" stroke="#1a1a1a" stroke-width="0.58" stroke-dasharray="1.45 2.73"/>
<path d="M676.10 857.95 H913.10" stroke="#acacac" stroke-width="1.9"/>
<path d="M676.10 900.50 H913.10" stroke="#1a1a1a" stroke-width="0.58" stroke-dasharray="1.45 2.73"/>
<path d="M696.6 851.5 L697.8 850.3 L699.0 849.2 L700.2 848.1 L701.4 847.0 L702.7 846.0 L704.0 845.0 L705.3 844.0 L706.6 843.0 L707.9 842.1 L709.3 841.2 L710.6 840.3 L712.0 839.5 L713.4 838.7 L714.8 837.9 L716.3 837.2 L717.7 836.5 L719.2 835.8 L720.6 835.2 L722.1 834.6 L723.6 834.1 L725.1 833.6 L726.6 833.1 L728.1 832.7 L729.6 832.3 L731.2 831.9 L732.7 831.6 L734.2 831.4 L735.8 831.1 L737.3 831.0 L738.9 830.8 L740.4 830.7 L742.0 830.7 L743.6 830.7 L745.1 830.7 L746.7 830.8 L748.3 830.9 L749.8 831.0 L751.4 831.2 L753.0 831.4 L754.6 831.6 L756.1 831.9 L757.7 832.1 L759.3 832.5 L760.9 832.8 L762.4 833.1 L764.0 833.5 L765.6 833.9 L767.1 834.3 L768.7 834.8 L770.3 835.2 L771.8 835.7 L773.4 836.1 L774.9 836.6 L776.5 837.1 L778.0 837.6 L779.6 838.1 L781.1 838.7 L782.7 839.2 L784.2 839.7 L785.7 840.2 L787.2 840.8 L788.8 841.3 L790.3 841.9 L791.8 842.4 L793.3 843.0 L794.8 843.5 L796.3 844.1 L797.8 844.6 L799.3 845.2 L800.8 845.8 L802.3 846.4 L803.8 846.9 L805.3 847.5 L806.7 848.1 L808.2 848.7 L809.7 849.3 L811.2 849.9 L812.7 850.4 L814.2 851.0 L815.6 851.6 L817.1 852.2 L818.6 852.8 L820.1 853.4 L821.6 854.0 L823.0 854.6 L824.5 855.2 L826.0 855.7 L827.5 856.3 L829.0 856.9 L830.4 857.5 L831.9 858.1 L833.4 858.7 L834.9 859.2 L836.4 859.8 L837.9 860.4 L839.4 861.0 L840.8 861.5 L842.3 862.1 L843.8 862.6 L845.3 863.2 L846.8 863.7 L848.3 864.3 L849.8 864.8 L851.3 865.4 L852.9 865.9 L854.4 866.4 L855.9 867.0 L857.4 867.5 L858.9 868.0 L860.5 868.5 L862.0 869.0" stroke="#00ff00" stroke-width="0.5" stroke-dasharray="4.3 4.05"/>
<path d="M696.8 869.3 L698.2 868.6 L699.6 867.8 L701.0 867.1 L702.4 866.3 L703.8 865.6 L705.1 864.8 L706.5 864.0 L707.9 863.2 L709.3 862.4 L710.6 861.6 L712.0 860.8 L713.4 860.0 L714.7 859.1 L716.1 858.3 L717.5 857.5 L718.8 856.6 L720.2 855.8 L721.6 854.9 L722.9 854.1 L724.3 853.2 L725.7 852.4 L727.0 851.5 L728.4 850.7 L729.8 849.8 L731.1 849.0 L732.5 848.1 L733.9 847.3 L735.3 846.4 L736.7 845.6 L738.0 844.7 L739.4 843.9 L740.8 843.1 L742.2 842.3 L743.6 841.4 L745.0 840.6 L746.4 839.8 L747.8 839.0 L749.2 838.3 L750.6 837.5 L752.1 836.7 L753.5 836.0 L754.9 835.2 L756.4 834.5 L757.8 833.8 L759.3 833.1 L760.7 832.4 L762.2 831.7 L763.7 831.1 L765.1 830.4 L766.6 829.8 L768.1 829.2 L769.6 828.6 L771.1 828.0 L772.6 827.4 L774.1 826.9 L775.6 826.4 L777.1 825.9 L778.6 825.4 L780.1 824.9 L781.7 824.5 L783.2 824.1 L784.7 823.7 L786.3 823.3 L787.8 823.0 L789.3 822.6 L790.9 822.3 L792.4 822.1 L794.0 821.8 L795.6 821.6 L797.1 821.4 L798.7 821.3 L800.3 821.1 L801.8 821.1 L803.4 821.0 L805.0 821.0 L806.5 821.0 L808.1 821.1 L809.7 821.2 L811.3 821.4 L812.9 821.6 L814.4 821.8 L816.0 822.1 L817.6 822.5 L819.2 822.8 L820.7 823.2 L822.3 823.6 L823.9 824.1 L825.5 824.5 L827.0 825.0 L828.6 825.4 L830.2 825.9 L831.7 826.4 L833.3 826.9 L834.9 827.4 L836.4 827.9 L838.0 828.4 L839.5 828.9 L841.0 829.4 L842.6 829.9 L844.1 830.5 L845.6 831.0 L847.2 831.5 L848.7 832.1 L850.2 832.6 L851.7 833.1 L853.2 833.7 L854.7 834.2 L856.1 834.8 L857.6 835.3 L859.1 835.9 L860.5 836.4 L862.0 837.0" stroke="#ff00ff" stroke-width="0.5" stroke-dasharray="4.4 5.1 1.3 5.2"/>
<path d="M664.5 815.5 L665.8 816.4 L667.2 817.3 L668.5 818.2 L669.9 819.1 L671.3 819.9 L672.6 820.8 L674.0 821.6 L675.4 822.4 L676.8 823.2 L678.2 824.0 L679.6 824.8 L680.9 825.6 L682.3 826.4 L683.7 827.2 L685.1 828.0 L686.5 828.8 L687.8 829.6 L689.2 830.5 L690.5 831.3 L691.9 832.1 L693.2 833.0 L694.5 833.9 L695.8 834.8 L697.1 835.7 L698.4 836.7 L699.7 837.7 L700.9 838.7 L702.2 839.7 L703.4 840.7 L704.7 841.7 L705.9 842.8 L707.1 843.9 L708.3 844.9 L709.5 846.0 L710.7 847.1 L711.9 848.1 L713.1 849.2 L714.3 850.3 L715.5 851.4 L716.7 852.4 L717.9 853.5 L719.1 854.5 L720.3 855.6 L721.6 856.6 L722.8 857.6 L724.0 858.6 L725.3 859.5 L726.5 860.5 L727.8 861.4 L729.1 862.4 L730.3 863.3 L731.6 864.2 L732.9 865.1 L734.3 866.0 L735.6 866.9 L737.0 867.9 L738.3 868.8 L739.7 869.7 L741.1 870.5 L742.5 871.4 L743.9 872.2 L745.4 873.0 L746.9 873.7 L748.3 874.4 L749.9 875.1 L751.4 875.6 L752.9 876.1 L754.5 876.6 L756.1 877.0 L757.6 877.3 L759.2 877.5 L760.8 877.7 L762.4 877.8 L764.0 877.8 L765.5 877.8 L767.1 877.6 L768.6 877.5 L770.2 877.2 L771.7 876.9 L773.1 876.4 L774.6 875.9 L776.0 875.4 L777.5 874.7 L778.8 874.0 L780.2 873.3 L781.6 872.5 L782.9 871.6 L784.2 870.7 L785.5 869.7 L786.8 868.8 L788.1 867.7 L789.3 866.7 L790.6 865.6 L791.8 864.5 L793.1 863.4 L794.3 862.3 L795.5 861.2 L796.7 860.1 L798.0 859.0 L799.2 857.9 L800.4 856.8 L801.6 855.7 L802.9 854.6 L804.1 853.5 L805.3 852.5 L806.6 851.5 L807.8 850.5 L809.1 849.5 L810.4 848.5 L811.7 847.6 L813.0 846.7 L814.3 845.9 L815.7 845.0 L817.0 844.3 L818.4 843.5 L819.8 842.8 L821.2 842.1 L822.7 841.5 L824.1 840.9 L825.6 840.4 L827.1 839.9 L828.6 839.4 L830.1 839.0 L831.7 838.5 L833.2 838.1 L834.8 837.8 L836.3 837.5 L837.9 837.2 L839.5 836.9 L841.1 836.6 L842.7 836.4 L844.3 836.2 L845.9 836.0 L847.5 835.8 L849.1 835.7 L850.7 835.6 L852.3 835.4 L853.9 835.3 L855.6 835.2 L857.2 835.2 L858.8 835.1 L860.4 835.0 L862.0 835.0" stroke="#000" stroke-width="0.62"/>
<path d="M664.5 815.5 L666.1 815.6 L667.7 815.6 L669.3 815.7 L671.0 815.8 L672.6 815.9 L674.2 816.0 L675.8 816.1 L677.4 816.2 L679.0 816.3 L680.6 816.4 L682.2 816.5 L683.8 816.6 L685.4 816.7 L687.1 816.8 L688.7 817.0 L690.3 817.1 L691.9 817.2 L693.5 817.4 L695.1 817.5 L696.7 817.7 L698.3 817.8 L699.9 818.0 L701.5 818.2 L703.1 818.3 L704.7 818.5 L706.3 818.7 L707.9 818.8 L709.5 819.0 L711.1 819.2 L712.7 819.4 L714.3 819.6 L715.9 819.8 L717.5 820.0 L719.1 820.2 L720.7 820.4 L722.3 820.6 L723.9 820.8 L725.5 821.0 L727.1 821.2 L728.7 821.4 L730.3 821.6 L731.9 821.9 L733.5 822.1 L735.1 822.3 L736.7 822.5 L738.3 822.8 L739.9 823.0 L741.5 823.2 L743.0 823.5 L744.6 823.7 L746.2 824.0 L747.8 824.2 L749.4 824.5 L751.0 824.7 L752.6 825.0 L754.2 825.2 L755.8 825.5 L757.4 825.8 L759.0 826.0 L760.6 826.3 L762.1 826.6 L763.7 826.8 L765.3 827.1 L766.9 827.4 L768.5 827.6 L770.1 827.9 L771.7 828.2 L773.3 828.5 L774.9 828.8 L776.4 829.0 L778.0 829.3 L779.6 829.6 L781.2 829.9 L782.8 830.2 L784.4 830.5 L786.0 830.8 L787.6 831.1 L789.1 831.4 L790.7 831.6 L792.3 831.9 L793.9 832.2 L795.5 832.5 L797.1 832.8 L798.7 833.1 L800.2 833.4 L801.8 833.7 L803.4 834.0 L805.0 834.3 L806.6 834.6 L808.2 834.9 L809.7 835.2 L811.3 835.5 L812.9 835.8 L814.5 836.1 L816.1 836.5 L817.7 836.8 L819.3 837.1 L820.8 837.4 L822.4 837.7 L824.0 838.0 L825.6 838.3 L827.2 838.6 L828.8 838.9 L830.3 839.2 L831.9 839.5 L833.5 839.8 L835.1 840.1 L836.7 840.4 L838.3 840.7 L839.8 841.0 L841.4 841.3 L843.0 841.6 L844.6 841.9 L846.2 842.2 L847.8 842.5 L849.3 842.8 L850.9 843.1 L852.5 843.4 L854.1 843.7 L855.7 844.0 L857.2 844.3 L858.8 844.6 L860.4 844.9 L862.0 845.2" stroke="#ff0000" stroke-width="1.9" stroke-dasharray="4.4 5 1.6 5"/>
<path d="M664.5 816.5 L665.2 817.9 L665.9 819.4 L666.5 820.8 L667.2 822.3 L667.8 823.7 L668.4 825.2 L669.0 826.6 L669.6 828.1 L670.2 829.6 L670.8 831.1 L671.4 832.6 L672.0 834.1 L672.6 835.6 L673.3 837.1 L673.9 838.6 L674.6 840.1 L675.2 841.6 L675.9 843.1 L676.6 844.6 L677.4 846.1 L678.2 847.6 L679.0 849.0 L679.8 850.4 L680.7 851.8 L681.6 853.1 L682.6 854.4 L683.6 855.7 L684.7 856.9 L685.8 858.0 L687.0 859.1 L688.2 860.1 L689.4 861.0 L690.8 861.9 L692.1 862.7 L693.5 863.4 L695.0 864.0 L696.4 864.6 L697.9 865.0 L699.4 865.4 L701.0 865.8 L702.6 866.0 L704.1 866.3 L705.7 866.4 L707.3 866.6 L708.9 866.6 L710.5 866.7 L712.1 866.7 L713.7 866.7 L715.3 866.7 L716.9 866.6 L718.5 866.6 L720.1 866.5 L721.7 866.4 L723.4 866.3 L725.0 866.1 L726.6 866.0 L728.2 865.8 L729.8 865.7 L731.4 865.5 L733.1 865.4 L734.7 865.3 L736.3 865.1 L737.9 865.0 L739.5 864.9 L741.2 864.8 L742.8 864.7 L744.4 864.7 L746.0 864.6 L747.6 864.6 L749.2 864.6 L750.9 864.7 L752.5 864.7 L754.1 864.7 L755.7 864.8 L757.3 864.9 L758.9 865.0 L760.5 865.1 L762.2 865.3 L763.8 865.4 L765.4 865.6 L767.0 865.7 L768.6 865.9 L770.2 866.1 L771.8 866.3 L773.4 866.5 L775.0 866.7 L776.6 866.9 L778.2 867.2 L779.8 867.4 L781.4 867.6 L783.1 867.8 L784.7 868.0 L786.3 868.2 L787.9 868.4 L789.5 868.5 L791.1 868.6 L792.7 868.7 L794.3 868.7 L795.8 868.8 L797.4 868.8 L799.0 868.8 L800.6 868.8 L802.2 868.7 L803.8 868.7 L805.4 868.6 L807.0 868.5 L808.6 868.4 L810.2 868.2 L811.8 868.1 L813.4 867.9 L814.9 867.7 L816.5 867.5 L818.1 867.3 L819.7 867.1 L821.3 866.8 L822.9 866.6 L824.4 866.3 L826.0 866.0 L827.6 865.7 L829.2 865.4 L830.7 865.1 L832.3 864.8 L833.9 864.4 L835.5 864.1 L837.0 863.7 L838.6 863.4 L840.2 863.0 L841.7 862.6 L843.3 862.2 L844.9 861.8 L846.4 861.4 L848.0 861.0 L849.6 860.6 L851.1 860.1 L852.7 859.7 L854.2 859.3 L855.8 858.8 L857.3 858.4 L858.9 857.9 L860.5 857.5 L862.0 857.0" stroke="#0000ff" stroke-width="1.9" stroke-dasharray="4.4 3.95"/>
<path d="M664.5 815.5 L666.0 816.2 L667.4 816.9 L668.9 817.5 L670.4 818.2 L671.9 818.8 L673.4 819.4 L674.9 820.0 L676.4 820.5 L677.9 821.1 L679.4 821.6 L680.9 822.1 L682.5 822.5 L684.0 823.0 L685.6 823.4 L687.1 823.8 L688.7 824.2 L690.2 824.6 L691.8 824.9 L693.4 825.2 L695.0 825.5 L696.5 825.8 L698.1 826.1 L699.7 826.3 L701.3 826.6 L702.9 826.7 L704.5 826.9 L706.1 827.1 L707.7 827.3 L709.3 827.4 L710.9 827.5 L712.5 827.7 L714.1 827.8 L715.7 828.0 L717.3 828.1 L718.9 828.3 L720.5 828.4 L722.1 828.6 L723.8 828.8 L725.4 829.0 L727.0 829.3 L728.6 829.5 L730.2 829.8 L731.8 830.1 L733.3 830.5 L734.9 830.9 L736.5 831.3 L738.0 831.7 L739.6 832.2 L741.1 832.7 L742.6 833.3 L744.0 833.9 L745.5 834.5 L746.9 835.2 L748.3 836.0 L749.6 836.7 L751.0 837.5 L752.3 838.4 L753.6 839.3 L754.9 840.2 L756.2 841.1 L757.5 842.1 L758.8 843.1 L760.0 844.1 L761.2 845.1 L762.5 846.1 L763.7 847.2 L764.9 848.2 L766.2 849.3 L767.4 850.4 L768.6 851.5 L769.9 852.6 L771.1 853.7 L772.3 854.8 L773.5 855.9 L774.8 857.0 L776.0 858.1 L777.2 859.1 L778.5 860.2 L779.7 861.3 L781.0 862.3 L782.3 863.3 L783.5 864.3 L784.8 865.3 L786.1 866.3 L787.4 867.2 L788.7 868.1 L790.1 869.0 L791.4 869.8 L792.7 870.7 L794.1 871.4 L795.5 872.1 L796.9 872.8 L798.3 873.4 L799.7 874.0 L801.2 874.6 L802.6 875.0 L804.1 875.5 L805.6 875.9 L807.2 876.3 L808.7 876.6 L810.3 876.9 L811.8 877.1 L813.4 877.4 L815.0 877.6 L816.7 877.8 L818.3 877.9 L819.9 878.1 L821.6 878.2 L823.2 878.3 L824.9 878.4 L826.5 878.5 L828.2 878.6 L829.8 878.7 L831.5 878.7 L833.1 878.8 L834.8 878.9 L836.4 878.9 L838.1 879.0 L839.7 879.0 L841.3 879.0 L842.9 879.1 L844.5 879.1 L846.1 879.1 L847.6 879.1 L849.2 879.1 L850.8 879.1 L852.4 879.1 L854.0 879.1 L855.5 879.1 L857.1 879.1 L858.8 879.1 L860.4 879.0 L862.0 879.0" stroke="#ff0000" stroke-width="1.9"/>
</g>
<rect x="664.10" y="773.40" width="261.00" height="169.00" stroke="#000" stroke-width="2" fill="none"/>
<g stroke="#000">
<path d="M696.6 833.4 V847.2" stroke-width="1.55"/>
<circle cx="696.6" cy="839.8" r="3.5" fill="#fff" stroke-width="1.8"/>
<path d="M722.9 841.0 V857.3" stroke-width="1.55"/>
<circle cx="722.9" cy="848.7" r="3.5" fill="#fff" stroke-width="1.8"/>
<path d="M749.1 829.6 V846.1" stroke-width="1.55"/>
<circle cx="749.1" cy="837.7" r="3.5" fill="#fff" stroke-width="1.8"/>
<path d="M775.1 831.1 V843.3" stroke-width="1.55"/>
<circle cx="775.1" cy="837.2" r="3.5" fill="#fff" stroke-width="1.8"/>
<path d="M801.0 812.0 V820.4" stroke-width="1.55"/>
<circle cx="801.0" cy="815.8" r="3.5" fill="#fff" stroke-width="1.8"/>
<circle cx="827.0" cy="821.9" r="3.5" fill="#fff" stroke-width="1.8"/>
<circle cx="853.2" cy="818.1" r="3.5" fill="#fff" stroke-width="1.8"/>
</g>
<path d="M697.50 908.51 L700.49 919.85 M703.49 908.51 L700.49 919.85 M703.49 908.51 L706.48 919.85 M709.47 908.51 L706.48 919.85 M712.72 913.37 L722.41 913.37 M712.72 916.88 L722.41 916.88 M727.14 911.21 L727.14 910.67 L727.71 909.59 L728.28 909.05 L729.42 908.51 L731.70 908.51 L732.84 909.05 L733.41 909.59 L733.98 910.67 L733.98 911.75 L733.41 912.83 L732.27 914.45 L726.57 919.85 L734.55 919.85 M739.11 918.77 L738.54 919.31 L739.11 919.85 L739.68 919.31 L739.11 918.77 M746.52 908.51 L744.81 909.05 L743.67 910.67 L743.10 913.37 L743.10 914.99 L743.67 917.69 L744.81 919.31 L746.52 919.85 L747.66 919.85 L749.37 919.31 L750.51 917.69 L751.08 914.99 L751.08 913.37 L750.51 910.67 L749.37 909.05 L747.66 908.51 L746.52 908.51 M757.35 908.51 L755.64 909.05 L755.07 910.13 L755.07 911.21 L755.64 912.29 L756.78 912.83 L759.06 913.37 L760.77 913.91 L761.91 914.99 L762.48 916.07 L762.48 917.69 L761.91 918.77 L761.34 919.31 L759.63 919.85 L757.35 919.85 L755.64 919.31 L755.07 918.77 L754.50 917.69 L754.50 916.07 L755.07 914.99 L756.21 913.91 L757.92 913.37 L760.20 912.83 L761.34 912.29 L761.91 911.21 L761.91 910.13 L761.34 909.05 L759.63 908.51 L757.35 908.51 M779.69 911.21 L779.12 910.13 L777.98 909.05 L776.84 908.51 L774.56 908.51 L773.42 909.05 L772.28 910.13 L771.71 911.21 L771.14 912.83 L771.14 915.53 L771.71 917.15 L772.28 918.23 L773.42 919.31 L774.56 919.85 L776.84 919.85 L777.98 919.31 L779.12 918.23 L779.69 917.15 L779.69 915.53 M776.84 915.53 L779.69 915.53 M783.11 915.53 L789.95 915.53 L789.95 914.45 L789.38 913.37 L788.81 912.83 L787.67 912.29 L785.96 912.29 L784.82 912.83 L783.68 913.91 L783.11 915.53 L783.11 916.61 L783.68 918.23 L784.82 919.31 L785.96 919.85 L787.67 919.85 L788.81 919.31 L789.95 918.23 M792.23 908.51 L796.79 919.85 M801.35 908.51 L796.79 919.85" fill="none" stroke="#111" stroke-width="1.18" stroke-linecap="round" stroke-linejoin="round"/>
</svg>
</body></html>
